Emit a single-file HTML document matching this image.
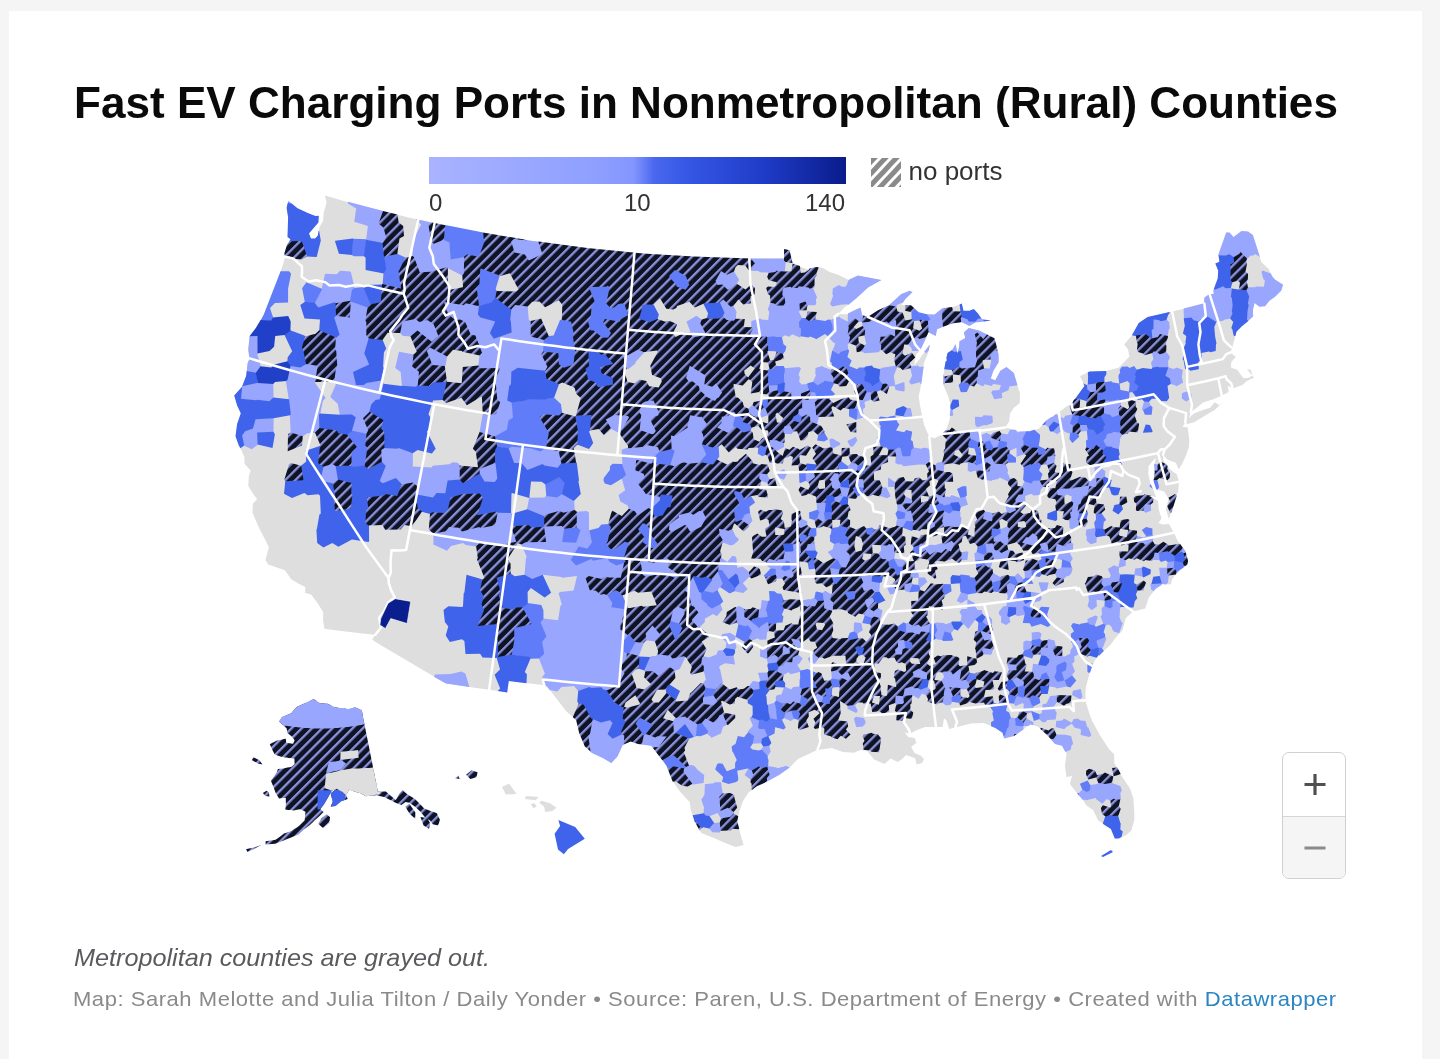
<!DOCTYPE html>
<html><head><meta charset="utf-8"><title>Fast EV Charging Ports in Nonmetropolitan (Rural) Counties</title>
<style>
html,body{margin:0;padding:0;}
body{width:1440px;height:1059px;background:#f5f5f5;position:relative;overflow:hidden;font-family:"Liberation Sans",sans-serif;}
#card{position:absolute;left:9px;top:11px;width:1413px;height:1048px;background:#fff;}
svg#map{position:absolute;left:0;top:0;filter:blur(0.55px);}
.t{filter:blur(0.45px);}
.t{position:absolute;white-space:nowrap;line-height:1;transform-origin:0 0;}
#title{left:73.6px;top:81.3px;font-size:44px;font-weight:bold;color:#0a0a0a;transform:scaleX(1.002);}
#bar{position:absolute;left:429px;top:157px;width:417px;height:27px;
 background:linear-gradient(to right,#a9b3ff 0%,#8e9fff 40%,#8496ff 49%,#4a68ee 54%,#3557e4 62%,#1f3cc8 80%,#0a1c8c 100%);}
.lg{font-size:24px;color:#333;top:191px;}
#sw{position:absolute;left:871px;top:158px;width:30px;height:29px;}
#np{left:908.5px;top:157.7px;font-size:26px;color:#333;}
#note{left:73.8px;top:945.5px;font-size:24px;font-style:italic;color:#5a5a5e;transform:scaleX(1.05);}
#foot{left:72.5px;top:988px;font-size:21px;color:#8a8a8a;letter-spacing:0.5px;transform:scaleX(1.049);}
#foot a{color:#2a85c4;text-decoration:none;}
#zoom{position:absolute;left:1281.5px;top:751.5px;width:64px;height:127.5px;border:1px solid #d0d0d0;border-radius:7px;background:#fff;box-sizing:border-box;overflow:hidden;}
#zoom .m{position:absolute;left:0;top:63px;width:64px;height:64px;background:#f5f5f5;border-top:1px solid #d6d6d6;}
</style></head><body>
<div id="card"></div>
<div class="t" id="title">Fast EV Charging Ports in Nonmetropolitan (Rural) Counties</div>
<div id="bar"></div>
<div class="t lg" style="left:429px">0</div>
<div class="t lg" id="l10" style="left:624px">10</div>
<div class="t lg" id="l140" style="left:805px">140</div>
<svg id="sw" viewBox="0 0 30 29"><defs><pattern id="hs" width="8" height="8" patternUnits="userSpaceOnUse" patternTransform="rotate(-47)"><rect width="8" height="8" fill="#fff"/><rect width="8" height="5" fill="#8a8a8a"/></pattern></defs><rect width="30" height="29" fill="url(#hs)"/></svg>
<div class="t" id="np">no ports</div>
<svg id="map" width="1440" height="1059" viewBox="0 0 1440 1059">

<defs>
<pattern id="h" width="7.2" height="7.2" patternUnits="userSpaceOnUse" patternTransform="rotate(-45)">
<rect width="7.2" height="7.2" fill="#0f1326"/><rect y="0" width="7.2" height="2.3" fill="#8c92d9"/>
</pattern>
<clipPath id="us"><path d="M288.5,200.9 L297.4,208.4 L308.3,213.5 L315.5,216.4 L318.6,216.0 L318.2,222.4 L312.8,228.7 L308.8,233.3 L310.8,238.7 L315.3,238.6 L318.0,235.5 L319.6,226.8 L323.0,221.2 L323.8,212.2 L326.6,202.6 L324.9,195.6 L333.8,198.1 L342.8,200.7 L351.8,203.1 L360.8,205.5 L369.8,207.9 L379.4,210.3 L389.1,212.7 L398.8,215.1 L408.5,217.4 L418.3,219.6 L434.6,223.2 L442.9,224.9 L451.3,226.6 L459.6,228.3 L468.0,229.9 L476.4,231.5 L484.8,233.1 L493.2,234.6 L501.6,236.0 L509.9,237.4 L518.2,238.8 L526.6,240.1 L534.9,241.3 L543.3,242.5 L551.6,243.7 L560.0,244.8 L568.3,245.9 L577.8,247.1 L587.2,248.2 L596.7,249.3 L606.1,250.3 L615.6,251.2 L625.0,252.1 L634.5,252.9 L643.0,253.6 L651.5,254.3 L660.1,254.9 L668.6,255.5 L677.1,256.0 L685.6,256.4 L694.1,256.9 L702.7,257.3 L712.0,257.6 L721.3,257.9 L730.7,258.2 L740.0,258.4 L749.3,258.5 L758.1,258.6 L766.9,258.7 L775.6,258.7 L784.4,258.6 L784.3,249.1 L789.4,250.5 L792.0,262.3 L798.9,265.9 L807.4,269.5 L815.8,267.3 L821.8,267.4 L829.6,271.9 L838.2,274.8 L848.7,280.1 L857.9,275.9 L870.9,278.1 L881.3,280.0 L868.0,287.2 L856.5,297.9 L844.8,307.3 L838.1,313.9 L846.9,314.3 L857.1,309.2 L860.5,307.8 L861.8,315.3 L868.0,317.0 L878.1,310.5 L888.3,306.0 L893.2,301.9 L901.3,294.2 L909.7,290.9 L912.4,292.2 L905.2,298.9 L901.3,305.1 L905.7,305.2 L911.0,305.5 L918.6,312.5 L925.8,314.4 L934.6,314.8 L942.8,308.3 L953.2,307.0 L961.6,303.7 L963.3,310.9 L969.5,310.9 L973.7,309.2 L977.8,313.7 L982.1,319.6 L990.2,320.3 L983.2,321.5 L975.3,322.2 L969.5,325.7 L961.9,322.0 L953.2,323.0 L942.9,326.7 L936.9,329.0 L935.8,335.8 L931.1,333.7 L928.3,331.9 L926.1,337.2 L920.2,350.5 L916.1,354.7 L914.2,365.1 L919.2,359.5 L924.8,351.4 L929.6,345.1 L928.4,352.3 L924.0,362.9 L922.9,370.7 L921.3,383.6 L918.7,396.6 L919.8,404.2 L922.3,416.8 L923.9,424.4 L927.5,433.0 L929.3,436.7 L934.6,438.3 L940.9,434.9 L946.1,430.0 L949.7,419.4 L950.8,406.4 L948.3,396.4 L943.5,385.4 L943.3,375.1 L945.7,362.1 L947.8,352.9 L952.5,349.9 L955.5,344.4 L957.5,354.5 L959.4,346.6 L959.7,341.4 L965.6,338.2 L964.0,332.5 L968.9,328.1 L979.0,330.7 L988.6,335.4 L994.4,338.4 L996.1,344.6 L998.3,354.6 L998.5,362.3 L993.2,370.7 L990.5,378.7 L995.4,380.7 L1000.5,371.0 L1006.4,367.1 L1013.7,373.0 L1017.3,385.4 L1019.9,392.7 L1019.8,403.1 L1013.9,407.8 L1010.0,413.5 L1009.2,421.3 L1005.3,427.5 L1014.1,429.7 L1020.2,431.9 L1029.6,431.3 L1038.7,428.7 L1047.0,420.2 L1058.7,412.6 L1065.7,407.0 L1071.5,403.4 L1081.7,390.5 L1084.7,386.1 L1080.0,376.0 L1089.5,371.7 L1106.2,371.1 L1118.7,367.8 L1124.9,361.3 L1129.4,356.5 L1127.9,349.0 L1124.1,344.6 L1132.3,335.0 L1138.9,323.2 L1147.7,317.3 L1159.9,314.5 L1172.1,311.5 L1182.9,308.9 L1193.6,306.2 L1204.3,303.4 L1204.6,297.5 L1209.6,294.1 L1213.9,294.3 L1213.6,289.9 L1216.4,283.1 L1217.9,278.7 L1218.4,270.7 L1215.6,263.6 L1219.6,261.9 L1218.6,254.9 L1226.3,232.7 L1229.4,232.8 L1233.5,237.4 L1241.5,231.1 L1248.1,231.8 L1252.7,235.1 L1258.0,251.2 L1261.3,262.1 L1268.7,269.1 L1271.8,276.1 L1274.8,279.7 L1282.9,284.6 L1281.0,290.6 L1275.2,296.4 L1269.0,300.9 L1265.0,306.1 L1259.4,306.5 L1254.5,302.6 L1252.8,309.7 L1252.8,316.3 L1246.9,322.0 L1241.4,326.2 L1236.3,331.6 L1235.0,337.3 L1232.6,345.9 L1230.6,352.5 L1235.7,357.0 L1231.3,362.1 L1230.8,367.5 L1237.2,369.8 L1240.4,374.2 L1243.3,377.9 L1248.2,377.9 L1252.4,375.4 L1250.9,370.0 L1246.8,369.3 L1251.0,373.9 L1254.0,377.6 L1246.2,381.4 L1242.4,385.1 L1236.1,387.3 L1232.7,389.0 L1227.9,385.5 L1228.6,392.0 L1221.8,395.8 L1212.0,399.7 L1203.0,402.5 L1196.5,408.0 L1190.7,412.0 L1189.1,417.7 L1193.9,413.4 L1202.9,409.9 L1210.2,407.8 L1214.6,402.2 L1219.3,405.0 L1223.0,402.1 L1214.7,410.1 L1204.4,416.1 L1194.1,422.3 L1187.7,424.1 L1185.3,422.5 L1182.5,427.1 L1187.5,427.3 L1189.2,438.7 L1189.0,446.6 L1186.1,455.2 L1182.1,464.0 L1178.7,469.3 L1175.8,462.8 L1167.1,459.5 L1163.1,454.6 L1163.3,460.3 L1169.0,468.3 L1174.0,472.4 L1176.6,473.7 L1179.1,481.8 L1178.1,491.2 L1175.6,498.3 L1172.7,508.1 L1168.9,518.9 L1165.9,509.6 L1168.6,498.5 L1164.1,491.6 L1156.5,489.3 L1153.7,480.7 L1155.0,472.6 L1154.3,464.9 L1155.8,457.5 L1148.6,466.1 L1148.3,474.0 L1150.4,484.0 L1153.9,491.2 L1156.2,497.2 L1144.5,494.4 L1140.8,491.2 L1148.9,496.1 L1157.9,500.8 L1158.8,509.8 L1161.6,518.4 L1158.5,522.9 L1162.9,524.6 L1169.0,524.1 L1173.9,532.8 L1177.8,541.1 L1185.2,551.3 L1187.8,561.2 L1187.1,564.7 L1178.9,570.5 L1172.2,578.9 L1170.7,584.5 L1162.7,584.0 L1155.3,588.9 L1148.6,598.1 L1145.3,608.6 L1133.1,611.4 L1125.8,618.0 L1122.6,630.2 L1115.4,638.0 L1110.2,645.3 L1100.8,653.4 L1095.3,659.5 L1092.0,665.7 L1088.4,677.4 L1085.7,688.1 L1085.5,700.5 L1088.0,709.6 L1091.9,720.6 L1099.7,734.8 L1108.7,748.7 L1114.1,754.3 L1114.4,763.2 L1122.5,777.2 L1130.1,788.7 L1133.4,798.4 L1134.3,813.6 L1134.3,820.0 L1131.3,830.6 L1126.2,835.3 L1119.6,838.1 L1115.0,838.4 L1111.1,828.8 L1098.2,820.6 L1093.1,810.0 L1086.7,805.8 L1082.2,798.8 L1075.3,790.9 L1069.8,784.0 L1072.0,776.1 L1066.5,776.9 L1064.9,765.6 L1066.6,753.8 L1062.1,745.5 L1055.1,743.9 L1047.2,734.7 L1038.4,726.9 L1030.3,724.1 L1024.3,728.7 L1014.0,735.8 L1004.3,738.2 L1002.6,732.5 L995.4,727.7 L983.9,723.1 L970.8,723.6 L960.1,726.2 L955.4,727.6 L949.3,728.9 L946.4,720.2 L944.0,718.4 L942.6,726.9 L936.0,726.9 L925.0,727.0 L916.5,730.2 L910.2,733.7 L904.6,732.3 L908.2,737.1 L914.8,738.0 L916.3,742.9 L911.1,747.1 L914.8,753.2 L920.5,755.4 L924.1,758.9 L922.1,762.9 L916.7,764.5 L915.1,758.3 L906.1,755.1 L901.9,759.2 L897.6,762.0 L890.7,758.6 L884.4,764.0 L874.1,759.4 L867.1,750.9 L860.4,749.9 L853.9,752.7 L842.9,751.9 L831.7,747.9 L817.4,750.1 L805.4,755.4 L797.7,759.3 L790.1,767.0 L779.0,774.7 L765.6,782.3 L756.6,786.0 L748.7,792.3 L743.0,801.1 L739.5,811.1 L737.0,821.2 L740.3,833.8 L743.6,845.0 L735.5,847.1 L724.1,842.4 L715.0,838.4 L701.3,833.0 L694.9,821.4 L690.7,809.9 L689.9,802.3 L680.1,791.8 L672.7,781.3 L666.8,765.8 L659.5,756.1 L651.3,745.5 L638.1,743.9 L630.6,741.4 L622.6,744.9 L617.3,756.5 L611.3,762.9 L602.8,757.9 L592.1,752.7 L584.9,746.2 L579.5,733.0 L576.3,719.9 L566.2,711.3 L555.6,697.4 L547.1,686.2 L544.4,685.2 L532.4,683.8 L520.5,682.4 L508.6,680.9 L507.1,692.2 L489.1,689.8 L478.3,688.3 L467.5,686.7 L456.7,685.1 L446.0,683.4 L433.1,676.0 L420.3,668.5 L407.7,660.9 L395.8,653.9 L383.9,646.9 L372.1,639.8 L375.3,634.7 L362.6,633.4 L349.9,631.9 L337.1,630.4 L324.4,628.8 L323.1,620.2 L323.2,612.3 L317.7,603.2 L311.1,594.6 L305.1,592.9 L305.3,587.1 L298.7,583.7 L291.2,579.2 L284.9,570.2 L268.1,564.6 L265.5,559.9 L268.9,547.6 L265.4,540.0 L259.5,529.1 L252.4,512.6 L252.9,503.4 L257.2,499.3 L253.4,494.2 L248.3,486.1 L248.9,475.6 L250.7,470.8 L244.5,463.7 L244.4,457.0 L238.8,444.7 L235.7,436.3 L237.3,424.2 L241.0,413.2 L237.4,405.4 L234.4,395.4 L242.0,386.8 L246.3,376.1 L247.7,363.7 L249.7,358.4 L248.4,350.0 L249.7,336.2 L256.0,328.3 L264.0,314.7 L269.4,300.4 L273.6,289.7 L279.7,274.3 L283.7,262.3 L285.0,256.8 L284.6,253.3 L287.2,244.8 L290.7,239.3 L287.7,237.1 L288.2,226.6 L288.3,217.4 L286.8,207.8 L288.5,200.9Z"/></clipPath>
</defs>
<path d="M288.5,200.9 L297.4,208.4 L308.3,213.5 L315.5,216.4 L318.6,216.0 L318.2,222.4 L312.8,228.7 L308.8,233.3 L310.8,238.7 L315.3,238.6 L318.0,235.5 L319.6,226.8 L323.0,221.2 L323.8,212.2 L326.6,202.6 L324.9,195.6 L333.8,198.1 L342.8,200.7 L351.8,203.1 L360.8,205.5 L369.8,207.9 L379.4,210.3 L389.1,212.7 L398.8,215.1 L408.5,217.4 L418.3,219.6 L434.6,223.2 L442.9,224.9 L451.3,226.6 L459.6,228.3 L468.0,229.9 L476.4,231.5 L484.8,233.1 L493.2,234.6 L501.6,236.0 L509.9,237.4 L518.2,238.8 L526.6,240.1 L534.9,241.3 L543.3,242.5 L551.6,243.7 L560.0,244.8 L568.3,245.9 L577.8,247.1 L587.2,248.2 L596.7,249.3 L606.1,250.3 L615.6,251.2 L625.0,252.1 L634.5,252.9 L643.0,253.6 L651.5,254.3 L660.1,254.9 L668.6,255.5 L677.1,256.0 L685.6,256.4 L694.1,256.9 L702.7,257.3 L712.0,257.6 L721.3,257.9 L730.7,258.2 L740.0,258.4 L749.3,258.5 L758.1,258.6 L766.9,258.7 L775.6,258.7 L784.4,258.6 L784.3,249.1 L789.4,250.5 L792.0,262.3 L798.9,265.9 L807.4,269.5 L815.8,267.3 L821.8,267.4 L829.6,271.9 L838.2,274.8 L848.7,280.1 L857.9,275.9 L870.9,278.1 L881.3,280.0 L868.0,287.2 L856.5,297.9 L844.8,307.3 L838.1,313.9 L846.9,314.3 L857.1,309.2 L860.5,307.8 L861.8,315.3 L868.0,317.0 L878.1,310.5 L888.3,306.0 L893.2,301.9 L901.3,294.2 L909.7,290.9 L912.4,292.2 L905.2,298.9 L901.3,305.1 L905.7,305.2 L911.0,305.5 L918.6,312.5 L925.8,314.4 L934.6,314.8 L942.8,308.3 L953.2,307.0 L961.6,303.7 L963.3,310.9 L969.5,310.9 L973.7,309.2 L977.8,313.7 L982.1,319.6 L990.2,320.3 L983.2,321.5 L975.3,322.2 L969.5,325.7 L961.9,322.0 L953.2,323.0 L942.9,326.7 L936.9,329.0 L935.8,335.8 L931.1,333.7 L928.3,331.9 L926.1,337.2 L920.2,350.5 L916.1,354.7 L914.2,365.1 L919.2,359.5 L924.8,351.4 L929.6,345.1 L928.4,352.3 L924.0,362.9 L922.9,370.7 L921.3,383.6 L918.7,396.6 L919.8,404.2 L922.3,416.8 L923.9,424.4 L927.5,433.0 L929.3,436.7 L934.6,438.3 L940.9,434.9 L946.1,430.0 L949.7,419.4 L950.8,406.4 L948.3,396.4 L943.5,385.4 L943.3,375.1 L945.7,362.1 L947.8,352.9 L952.5,349.9 L955.5,344.4 L957.5,354.5 L959.4,346.6 L959.7,341.4 L965.6,338.2 L964.0,332.5 L968.9,328.1 L979.0,330.7 L988.6,335.4 L994.4,338.4 L996.1,344.6 L998.3,354.6 L998.5,362.3 L993.2,370.7 L990.5,378.7 L995.4,380.7 L1000.5,371.0 L1006.4,367.1 L1013.7,373.0 L1017.3,385.4 L1019.9,392.7 L1019.8,403.1 L1013.9,407.8 L1010.0,413.5 L1009.2,421.3 L1005.3,427.5 L1014.1,429.7 L1020.2,431.9 L1029.6,431.3 L1038.7,428.7 L1047.0,420.2 L1058.7,412.6 L1065.7,407.0 L1071.5,403.4 L1081.7,390.5 L1084.7,386.1 L1080.0,376.0 L1089.5,371.7 L1106.2,371.1 L1118.7,367.8 L1124.9,361.3 L1129.4,356.5 L1127.9,349.0 L1124.1,344.6 L1132.3,335.0 L1138.9,323.2 L1147.7,317.3 L1159.9,314.5 L1172.1,311.5 L1182.9,308.9 L1193.6,306.2 L1204.3,303.4 L1204.6,297.5 L1209.6,294.1 L1213.9,294.3 L1213.6,289.9 L1216.4,283.1 L1217.9,278.7 L1218.4,270.7 L1215.6,263.6 L1219.6,261.9 L1218.6,254.9 L1226.3,232.7 L1229.4,232.8 L1233.5,237.4 L1241.5,231.1 L1248.1,231.8 L1252.7,235.1 L1258.0,251.2 L1261.3,262.1 L1268.7,269.1 L1271.8,276.1 L1274.8,279.7 L1282.9,284.6 L1281.0,290.6 L1275.2,296.4 L1269.0,300.9 L1265.0,306.1 L1259.4,306.5 L1254.5,302.6 L1252.8,309.7 L1252.8,316.3 L1246.9,322.0 L1241.4,326.2 L1236.3,331.6 L1235.0,337.3 L1232.6,345.9 L1230.6,352.5 L1235.7,357.0 L1231.3,362.1 L1230.8,367.5 L1237.2,369.8 L1240.4,374.2 L1243.3,377.9 L1248.2,377.9 L1252.4,375.4 L1250.9,370.0 L1246.8,369.3 L1251.0,373.9 L1254.0,377.6 L1246.2,381.4 L1242.4,385.1 L1236.1,387.3 L1232.7,389.0 L1227.9,385.5 L1228.6,392.0 L1221.8,395.8 L1212.0,399.7 L1203.0,402.5 L1196.5,408.0 L1190.7,412.0 L1189.1,417.7 L1193.9,413.4 L1202.9,409.9 L1210.2,407.8 L1214.6,402.2 L1219.3,405.0 L1223.0,402.1 L1214.7,410.1 L1204.4,416.1 L1194.1,422.3 L1187.7,424.1 L1185.3,422.5 L1182.5,427.1 L1187.5,427.3 L1189.2,438.7 L1189.0,446.6 L1186.1,455.2 L1182.1,464.0 L1178.7,469.3 L1175.8,462.8 L1167.1,459.5 L1163.1,454.6 L1163.3,460.3 L1169.0,468.3 L1174.0,472.4 L1176.6,473.7 L1179.1,481.8 L1178.1,491.2 L1175.6,498.3 L1172.7,508.1 L1168.9,518.9 L1165.9,509.6 L1168.6,498.5 L1164.1,491.6 L1156.5,489.3 L1153.7,480.7 L1155.0,472.6 L1154.3,464.9 L1155.8,457.5 L1148.6,466.1 L1148.3,474.0 L1150.4,484.0 L1153.9,491.2 L1156.2,497.2 L1144.5,494.4 L1140.8,491.2 L1148.9,496.1 L1157.9,500.8 L1158.8,509.8 L1161.6,518.4 L1158.5,522.9 L1162.9,524.6 L1169.0,524.1 L1173.9,532.8 L1177.8,541.1 L1185.2,551.3 L1187.8,561.2 L1187.1,564.7 L1178.9,570.5 L1172.2,578.9 L1170.7,584.5 L1162.7,584.0 L1155.3,588.9 L1148.6,598.1 L1145.3,608.6 L1133.1,611.4 L1125.8,618.0 L1122.6,630.2 L1115.4,638.0 L1110.2,645.3 L1100.8,653.4 L1095.3,659.5 L1092.0,665.7 L1088.4,677.4 L1085.7,688.1 L1085.5,700.5 L1088.0,709.6 L1091.9,720.6 L1099.7,734.8 L1108.7,748.7 L1114.1,754.3 L1114.4,763.2 L1122.5,777.2 L1130.1,788.7 L1133.4,798.4 L1134.3,813.6 L1134.3,820.0 L1131.3,830.6 L1126.2,835.3 L1119.6,838.1 L1115.0,838.4 L1111.1,828.8 L1098.2,820.6 L1093.1,810.0 L1086.7,805.8 L1082.2,798.8 L1075.3,790.9 L1069.8,784.0 L1072.0,776.1 L1066.5,776.9 L1064.9,765.6 L1066.6,753.8 L1062.1,745.5 L1055.1,743.9 L1047.2,734.7 L1038.4,726.9 L1030.3,724.1 L1024.3,728.7 L1014.0,735.8 L1004.3,738.2 L1002.6,732.5 L995.4,727.7 L983.9,723.1 L970.8,723.6 L960.1,726.2 L955.4,727.6 L949.3,728.9 L946.4,720.2 L944.0,718.4 L942.6,726.9 L936.0,726.9 L925.0,727.0 L916.5,730.2 L910.2,733.7 L904.6,732.3 L908.2,737.1 L914.8,738.0 L916.3,742.9 L911.1,747.1 L914.8,753.2 L920.5,755.4 L924.1,758.9 L922.1,762.9 L916.7,764.5 L915.1,758.3 L906.1,755.1 L901.9,759.2 L897.6,762.0 L890.7,758.6 L884.4,764.0 L874.1,759.4 L867.1,750.9 L860.4,749.9 L853.9,752.7 L842.9,751.9 L831.7,747.9 L817.4,750.1 L805.4,755.4 L797.7,759.3 L790.1,767.0 L779.0,774.7 L765.6,782.3 L756.6,786.0 L748.7,792.3 L743.0,801.1 L739.5,811.1 L737.0,821.2 L740.3,833.8 L743.6,845.0 L735.5,847.1 L724.1,842.4 L715.0,838.4 L701.3,833.0 L694.9,821.4 L690.7,809.9 L689.9,802.3 L680.1,791.8 L672.7,781.3 L666.8,765.8 L659.5,756.1 L651.3,745.5 L638.1,743.9 L630.6,741.4 L622.6,744.9 L617.3,756.5 L611.3,762.9 L602.8,757.9 L592.1,752.7 L584.9,746.2 L579.5,733.0 L576.3,719.9 L566.2,711.3 L555.6,697.4 L547.1,686.2 L544.4,685.2 L532.4,683.8 L520.5,682.4 L508.6,680.9 L507.1,692.2 L489.1,689.8 L478.3,688.3 L467.5,686.7 L456.7,685.1 L446.0,683.4 L433.1,676.0 L420.3,668.5 L407.7,660.9 L395.8,653.9 L383.9,646.9 L372.1,639.8 L375.3,634.7 L362.6,633.4 L349.9,631.9 L337.1,630.4 L324.4,628.8 L323.1,620.2 L323.2,612.3 L317.7,603.2 L311.1,594.6 L305.1,592.9 L305.3,587.1 L298.7,583.7 L291.2,579.2 L284.9,570.2 L268.1,564.6 L265.5,559.9 L268.9,547.6 L265.4,540.0 L259.5,529.1 L252.4,512.6 L252.9,503.4 L257.2,499.3 L253.4,494.2 L248.3,486.1 L248.9,475.6 L250.7,470.8 L244.5,463.7 L244.4,457.0 L238.8,444.7 L235.7,436.3 L237.3,424.2 L241.0,413.2 L237.4,405.4 L234.4,395.4 L242.0,386.8 L246.3,376.1 L247.7,363.7 L249.7,358.4 L248.4,350.0 L249.7,336.2 L256.0,328.3 L264.0,314.7 L269.4,300.4 L273.6,289.7 L279.7,274.3 L283.7,262.3 L285.0,256.8 L284.6,253.3 L287.2,244.8 L290.7,239.3 L287.7,237.1 L288.2,226.6 L288.3,217.4 L286.8,207.8 L288.5,200.9Z" fill="#dedede"/>
<path fill-rule="evenodd" d="M292.4,204.3 292.4,203.9 288.3,200.7 287.8,203.3ZM347.9,203.5 356.2,208.4 354.3,221.8 367.9,225.9 366.1,240.0 383.0,243.5 386.8,237.4 383.8,227.3 379.1,223.2 383.3,211.1 348.0,201.8ZM432.4,222.7 415.7,219.0 421.2,224.4 412.9,240.3 413.4,241.2 412.3,256.4 413.8,257.7 419.3,272.6 431.1,272.2 447.2,267.4 447.6,268.0 462.6,275.7 464.3,273.7 464.7,256.5 450.9,259.0 449.9,242.3 443.6,239.3 433.8,243.2 431.8,241.6 428.9,225.1ZM354.7,288.3 351.0,272.4 350.1,271.5 340.1,270.8 336.8,274.2 325.0,273.7 321.6,289.2 314.4,303.1 318.2,308.2 334.5,302.8 335.7,303.7 350.5,301.2 352.3,290.2ZM368.1,307.6 350.6,301.2 349.3,317.0 336.3,315.3 333.6,317.4 339.1,334.7 335.5,337.7 334.6,349.4 335.7,350.9 336.8,366.3 335.6,367.5 333.9,381.5 335.8,384.8 330.3,397.0 337.7,403.8 339.8,415.2 351.7,414.9 355.3,417.3 351.5,431.0 366.7,434.1 368.7,430.1 363.6,418.4 369.8,412.1 371.6,404.7 375.7,400.6 380.2,399.6 383.9,384.0 381.5,380.2 366.2,382.6 363.7,384.4 356.3,384.4 353.5,372.2 369.6,364.7 364.9,353.2 369.2,338.4 366.8,335.1 366.8,321.7 365.8,320.4ZM444.5,301.5 443.6,302.8 447.8,314.6 455.0,320.5 459.9,319.9 464.8,322.1 470.3,334.9 475.0,335.9 481.5,353.0 479.5,355.2 478.3,365.6 479.9,368.7 499.1,368.4 499.3,368.8 493.3,382.7 495.5,384.8 496.9,399.8 499.6,402.4 495.9,413.2 494.4,414.1 482.6,414.8 479.5,432.2 494.8,436.7 507.3,430.0 508.9,420.6 513.5,418.0 512.0,402.2 507.7,400.1 509.7,386.3 511.5,384.4 511.7,372.1 517.9,368.2 545.4,371.2 547.9,366.9 541.8,354.3 543.5,351.9 544.3,339.6 531.1,336.2 531.1,321.2 528.8,319.7 527.7,306.2 514.9,304.6 510.9,309.2 509.7,320.3 510.3,321.0 511.2,332.1 494.0,338.3 490.4,333.1 495.8,321.2 480.8,317.0 478.4,314.3 479.2,305.8 465.8,302.7 463.5,304.6ZM415.4,318.6 402.1,321.0 399.9,332.8 402.5,335.7 410.7,336.6 417.4,331.1 431.7,342.3 438.9,336.2 433.8,323.6 427.4,319.4 419.5,321.6ZM257.9,353.3 258.0,335.6 249.6,336.0 248.2,350.0 249.5,358.4 247.5,363.6 246.7,371.3 256.0,373.2 260.9,366.6 257.2,354.1ZM426.2,350.8 432.1,365.4 444.6,366.5 445.6,365.5 447.2,356.1 429.9,346.8ZM413.9,354.5 399.0,351.7 395.2,368.1 400.7,372.1 401.9,386.2 415.8,387.3 418.1,385.4 419.5,371.5 412.7,366.3ZM290.3,365.4 287.2,379.5 285.8,380.8 288.8,399.6 290.3,414.4 289.8,415.0 290.7,432.7 302.7,436.6 307.2,433.2 315.3,432.9 319.7,428.4 319.5,414.6 320.3,413.8 322.9,401.1 325.6,397.9 314.8,382.6 315.4,381.8 318.1,366.3 317.5,365.3 306.2,363.8 300.2,366.9ZM240.5,399.1 256.2,400.8 257.2,400.2 269.5,401.7 273.5,397.8 273.3,383.5 257.8,382.3 242.2,385.8ZM273.6,417.7 255.3,418.8 252.6,428.1 244.8,430.8 241.6,435.2 243.9,445.5 251.7,449.2 258.0,444.5 257.5,432.9 273.5,432.2ZM511.4,446.3 508.2,448.6 513.8,463.4 521.3,463.6 527.4,470.6 542.5,464.5 544.3,465.9 557.8,468.2 561.7,463.3 559.0,451.1 546.2,447.3 540.4,450.9 529.6,447.3 528.9,447.8ZM412.9,452.9 398.7,447.3 397.1,448.2 384.1,447.7 380.8,449.8 381.3,461.7 385.3,466.1 379.2,481.3 382.8,483.9 395.8,478.6 401.7,484.8 412.7,483.0 416.8,486.3 417.0,494.9 433.1,498.0 436.7,493.6 445.7,493.6 447.9,480.9 460.3,479.9 460.1,465.6 457.8,462.8 452.6,462.3 449.2,464.3 432.7,465.7 431.5,467.5 412.8,466.5ZM495.0,462.6 479.3,468.7 479.3,473.5 484.2,482.1 494.9,482.4 497.7,478.8 496.1,463.6ZM332.5,463.4 323.1,466.4 320.8,476.5 323.2,481.7 333.1,483.7 338.3,479.9 335.9,465.7ZM514.2,526.5 512.4,513.7 511.0,512.6 497.4,512.2 494.7,525.0 480.5,527.7 479.2,526.5 462.1,531.1 458.9,527.3 449.1,526.6 445.5,530.8 433.4,533.3 433.4,544.4 447.0,550.7 451.0,546.1 462.9,543.0 465.7,544.9 476.4,546.6 481.5,542.0 494.3,544.1 496.3,546.3 516.7,542.3 512.7,529.9ZM434.8,674.4 434.2,676.9 445.9,683.6 469.4,687.1 465.4,673.5 461.4,671.4 450.6,674.1ZM513.6,238.5 510.6,241.4 514.2,252.8 524.6,254.9 528.7,261.1 542.9,254.3 538.8,241.7ZM643.5,353.3 643.1,351.1 637.6,349.2 627.8,354.8 622.3,354.1 626.3,369.0 628.8,368.8 635.2,363.8 635.6,362.0ZM629.5,417.4 628.0,415.6 614.9,414.5 613.1,415.0 605.2,419.6 610.9,428.8 618.2,432.5 621.0,430.1 622.6,429.5ZM628.3,447.4 621.6,449.8 622.4,463.2 621.6,464.4 625.5,475.0 621.7,478.4 625.2,490.2 618.6,495.1 620.3,501.4 627.7,505.6 628.6,509.1 634.5,511.5 637.3,515.6 637.9,516.0 648.6,508.7 650.7,509.6 660.7,500.2 659.8,496.4 646.0,493.5 638.5,483.6 644.6,477.8 644.4,473.9 635.9,470.0 636.4,460.9 637.1,460.7 651.4,464.3 652.2,463.2 653.6,458.2 659.9,451.8 658.3,446.9 646.6,444.5 645.1,444.9 644.2,446.3 628.7,447.7ZM561.9,493.6 557.1,496.9 546.5,495.6 544.3,497.4 529.2,497.7 526.9,509.6 544.3,516.7 545.5,515.2 559.7,511.2 563.2,513.3 574.8,510.5 574.1,500.7ZM588.9,512.6 586.7,511.0 576.4,511.7 576.2,527.2 580.0,530.5 575.8,542.3 562.7,541.5 564.5,528.5 562.0,525.7 544.3,526.2 543.7,527.1 545.7,541.7 525.5,541.7 521.3,544.3 526.8,556.9 525.9,558.1 524.5,575.3 532.3,579.5 542.7,575.3 543.1,574.7 561.6,577.1 562.2,577.7 577.0,575.9 573.6,590.4 560.1,591.9 558.6,593.3 561.8,604.3 560.3,606.3 558.1,620.3 543.2,618.5 540.1,622.3 545.9,636.3 541.6,641.9 543.8,653.6 538.8,658.2 544.9,673.6 542.1,677.5 543.1,685.1 546.9,686.4 549.7,690.1 557.3,691.6 561.4,687.1 574.0,686.0 578.3,691.3 589.1,687.6 591.6,688.5 601.0,687.7 603.2,690.0 607.0,690.8 619.4,685.2 619.3,683.8 625.1,673.4 621.1,668.3 621.0,666.5 626.6,658.8 627.5,653.9 624.5,651.8 622.8,642.7 628.7,635.2 620.9,629.4 621.0,623.4 622.8,620.4 622.7,619.6 626.7,609.3 611.9,607.1 612.9,603.0 607.2,594.5 603.8,593.6 600.5,594.2 596.2,590.4 590.2,590.0 586.1,578.2 588.9,576.5 601.7,579.4 605.8,577.1 609.8,578.3 610.5,577.9 621.1,578.2 624.5,562.7 616.5,564.9 609.4,561.1 607.8,557.6 593.0,560.2 591.3,558.6 576.4,564.9 571.4,560.1 578.9,547.1 587.6,549.1 592.4,542.8 589.8,530.4 589.0,529.9ZM635.2,641.7 628.8,653.5 638.6,656.4 643.9,642.7ZM613.2,722.8 610.0,719.7 601.0,721.9 593.0,718.7 592.4,718.8 589.4,734.9 587.9,735.7 590.2,751.4 592.0,752.9 602.7,758.1 611.3,763.1 617.5,756.6 622.8,745.1 624.1,744.4 624.8,735.2 621.8,733.7 612.8,738.3 608.2,734.0ZM721.2,270.3 715.1,280.9 717.2,285.5 722.2,285.0 728.1,290.6 736.1,284.8 739.1,279.8 733.9,271.2 726.9,274.2ZM723.3,299.0 719.3,302.2 724.0,312.9 722.4,316.8 726.6,320.6 734.1,321.3 735.9,319.1 736.1,313.9 736.7,312.3 733.5,305.8 730.5,306.1ZM701.8,319.7 696.4,315.8 686.4,321.7 690.5,331.7 690.4,333.0 692.6,337.8 701.9,336.1 706.4,333.9 700.8,323.5ZM689.6,365.0 685.6,378.1 688.4,382.1 692.6,381.9 698.6,386.9 699.2,390.2 704.2,394.9 704.5,396.2 714.3,401.3 715.4,401.1 717.3,398.7 719.0,397.9 722.6,392.6 716.4,383.1 712.1,386.2 704.8,383.8 706.0,375.3ZM653.8,400.1 653.1,399.8 645.2,401.1 641.6,403.3 638.8,412.6 640.7,414.9 639.2,430.4 652.0,434.8 654.1,434.3 656.3,431.1 651.4,421.0 651.9,419.5 654.6,416.8 658.4,416.0 659.4,412.6ZM721.6,416.3 721.0,422.6 716.7,427.2 716.7,427.8 728.5,433.5 734.5,427.5 733.5,425.4 736.1,413.6 735.4,412.3 732.5,411.0 727.9,415.6ZM689.9,414.9 686.8,426.1 687.3,427.1 674.5,435.7 670.7,435.0 670.2,435.7 671.2,448.8 674.1,451.2 670.1,464.1 670.6,465.6 673.3,466.7 674.5,466.7 682.5,463.2 685.1,463.1 687.8,464.3 698.9,463.2 706.7,454.5 702.2,444.3 704.4,438.8 703.3,433.8 701.8,431.7 707.5,423.9 701.6,416.0 700.3,416.6ZM689.1,511.9 678.6,514.5 678.3,517.2 668.9,524.3 668.6,530.2 672.7,532.3 684.8,525.5 686.2,526.0 689.2,531.5 691.3,532.1 701.5,527.1 706.6,518.2 702.6,510.3 699.0,510.6 693.2,514.1ZM718.6,528.3 718.3,528.6 719.5,535.5 722.4,540.2 722.4,542.3 730.6,545.5 733.9,544.6 738.6,540.2 738.5,538.7 735.8,536.4 732.1,528.8 728.5,530.2ZM720.9,557.5 719.7,558.5 717.7,570.1 718.1,570.5 721.8,570.4 728.7,579.9 735.7,574.0 737.4,575.7 739.0,582.9 734.9,587.5 734.7,590.9 735.6,591.6 743.3,593.0 747.7,589.1 742.9,583.3 749.5,576.6 749.4,572.0 742.7,566.8 737.3,567.8 736.4,558.1 735.1,556.3 732.1,556.0 727.3,562.0ZM669.9,559.5 666.8,557.7 655.9,559.8 654.3,561.9 650.4,562.6 642.8,557.6 639.9,558.9 642.2,575.0 646.2,577.3 660.5,574.2 660.9,573.7 675.3,578.3 677.2,577.1 678.6,574.2 668.7,567.2ZM717.8,570.9 711.3,578.6 711.7,580.1 703.5,590.2 703.4,591.3 712.9,593.2 717.5,590.3 719.2,587.8 720.7,587.3 723.2,583.5ZM692.9,576.1 684.3,591.2 688.2,593.4 691.5,606.4 693.6,607.0 697.8,612.5 691.7,619.3 691.6,620.9 698.4,627.9 699.5,627.5 704.9,621.9 704.8,618.8 713.1,614.1 716.9,616.2 722.5,609.5 720.3,603.7 712.2,608.1 708.1,605.5 707.6,603.7 701.8,599.0 701.4,592.4 699.6,591.7ZM684.5,609.0 678.2,606.2 673.1,609.1 670.2,620.5 670.3,621.3 679.5,623.8 685.0,614.1ZM655.3,641.5 660.8,635.5 660.8,634.6 652.4,624.9 645.2,633.1 645.8,640.3ZM721.9,634.2 721.5,637.5 726.4,642.6 725.6,648.4 735.0,649.8 736.5,647.6 734.7,639.9 735.9,636.3 729.9,632.7ZM723.3,650.3 718.0,650.4 716.5,654.4 709.0,657.5 703.2,656.2 701.6,657.1 700.9,662.5 703.3,666.4 703.4,671.5 704.3,672.8 705.9,679.6 703.0,683.3 704.9,687.9 716.0,689.6 719.4,687.0 720.3,685.2 722.4,683.9 723.0,682.7 720.1,669.3 719.0,667.7 720.1,665.8 725.0,663.2 735.1,664.5 733.4,655.4 726.7,655.6ZM657.7,654.0 655.8,656.1 652.4,655.9 649.7,657.0 643.8,670.4 645.3,671.8 653.1,671.8 658.1,676.4 658.7,676.4 668.5,668.2 670.5,668.0 674.4,670.9 679.8,668.9 685.5,656.7 683.8,655.7 672.4,658.0 670.5,655.3ZM702.7,704.2 713.3,705.7 717.9,701.4 713.9,695.2 703.5,696.6 702.4,698.0ZM716.1,720.9 713.1,722.1 705.4,718.0 701.3,722.6 707.6,731.4 707.1,733.6 711.6,737.7 721.0,733.4 722.8,727.1 727.6,724.6 723.1,713.7 719.2,714.9ZM693.5,737.0 694.7,737.1 696.2,736.0 697.6,723.9 688.3,717.9 687.1,717.8 685.3,715.9 675.7,717.6 672.7,721.3 673.5,733.8 675.5,733.4 684.8,724.7ZM646.0,733.7 643.2,735.4 641.5,744.4 651.1,745.7 653.4,748.5 654.1,747.8 658.9,747.4 667.4,736.4 657.4,735.7 655.3,736.9ZM688.7,765.1 686.1,766.4 683.8,768.3 683.1,772.0 691.7,784.1 692.8,784.6 703.6,783.1 704.3,775.0 696.8,769.2 696.4,768.0 693.7,765.4ZM704.9,784.2 704.5,794.5 702.4,798.3 701.2,799.3 704.0,807.5 703.5,813.7 705.3,815.9 709.3,816.3 717.6,813.1 721.1,818.7 730.7,817.2 733.9,813.8 733.7,811.7 728.1,807.2 720.8,810.5 720.1,798.9 719.5,798.1 719.8,797.1 722.8,793.8 721.0,782.3 715.0,782.2 713.8,783.2ZM708.7,828.1 712.3,832.2 719.6,832.5 721.0,830.5 720.3,822.6 713.9,823.0ZM768.5,273.4 775.4,272.3 776.8,271.2 784.2,272.1 784.8,271.8 785.7,261.9 784.5,260.4 784.2,258.4 750.4,258.4 754.5,263.6 750.2,270.8 758.6,271.0 759.7,272.3 767.8,272.6ZM790.7,286.3 784.1,287.3 782.2,289.2 781.8,295.4 784.3,297.2 784.7,302.8 783.3,304.9 776.2,305.1 774.5,303.1 770.3,302.5 767.7,309.6 769.3,311.8 768.2,319.8 767.7,320.1 761.5,319.6 760.4,318.6 751.3,320.9 751.2,327.5 752.3,329.1 749.4,334.3 753.3,338.0 758.8,336.5 760.2,337.5 765.8,336.5 767.1,337.4 774.6,336.8 775.3,337.5 781.8,337.4 785.0,335.3 789.1,336.7 792.3,334.3 799.7,337.6 801.0,336.2 801.7,328.6 799.7,327.1 799.5,322.0 802.3,318.4 798.8,311.8 800.2,310.2 800.0,303.7 805.2,302.0 807.3,305.3 815.4,305.2 816.2,303.1 815.9,299.2 817.1,297.4 812.9,287.8 809.4,287.9 808.6,287.2 799.0,285.7 797.2,287.6 792.0,287.4ZM783.4,373.9 783.7,382.9 784.6,383.4 783.9,392.0 790.8,392.7 790.9,399.8 791.7,400.7 801.5,399.2 801.4,393.9 809.6,390.7 807.4,383.9 801.6,384.4 799.2,381.6 799.8,376.9 798.5,374.8 800.9,368.6 799.1,366.9 784.6,368.2 784.2,372.9ZM777.6,390.6 777.5,384.9 768.0,385.5 769.0,392.6ZM747.9,408.9 749.0,413.4 753.1,416.7 756.4,416.3 759.0,418.3 768.4,415.1 765.6,408.0 764.1,407.8 759.3,410.8 752.8,404.5ZM793.7,431.3 790.3,424.8 784.0,426.0 782.9,432.4 784.3,433.7 791.4,434.2ZM769.4,439.7 768.8,446.9 773.7,448.4 776.3,451.3 784.1,447.1 783.9,442.5 778.0,440.7 777.3,439.7ZM784.1,469.0 775.9,473.0 776.4,476.9 783.9,479.8 786.7,474.5ZM760.2,473.1 759.0,474.6 758.6,478.5 761.1,481.1 768.0,483.2 769.7,479.8 767.1,473.8ZM752.4,520.8 749.9,512.5 744.5,514.1 741.1,520.3 748.7,525.5ZM784.3,551.4 783.1,558.4 777.8,559.1 776.7,560.4 769.1,558.3 766.1,561.9 767.4,565.9 770.7,568.6 775.4,569.2 775.4,574.9 776.7,578.7 782.6,578.5 785.1,576.4 791.3,578.5 794.2,576.2 792.7,570.8 799.6,565.8 800.4,553.5 801.5,552.7 800.4,541.5 799.8,541.3 792.4,544.3 793.1,550.2 792.0,550.9ZM788.9,561.5 789.9,569.0 784.6,570.7 781.5,569.0 786.5,561.1ZM761.7,600.1 760.7,608.4 758.5,609.4 757.8,617.1 760.0,618.2 767.9,617.2 767.2,611.2 766.3,610.3 768.7,600.9ZM744.3,608.8 739.5,605.9 735.8,607.2 736.5,622.5 738.4,624.7 745.4,626.7 747.7,625.8 751.6,630.9 748.6,636.9 749.5,639.7 751.8,640.8 757.6,638.3 759.8,639.8 766.3,639.4 767.2,632.0 769.5,630.9 769.0,623.8 767.7,621.4 760.5,625.9 759.6,627.6 751.3,621.0 751.2,620.4 744.9,616.7ZM784.2,645.2 782.4,646.8 782.2,655.7 790.3,653.9 790.3,649.7ZM767.3,647.0 761.4,647.8 760.4,648.6 759.9,656.6 766.8,658.9 768.0,663.9 776.9,662.9 778.6,657.0 774.9,654.3 767.8,657.7ZM785.5,661.6 782.4,665.6 778.6,666.2 776.5,670.8 777.7,672.5 783.4,675.1 788.0,672.6 788.8,672.5 790.6,674.2 800.5,671.8 800.9,670.6 797.3,664.9 799.6,663.3 802.7,658.3 798.1,654.4 792.4,657.2 791.8,661.8ZM768.5,679.1 767.9,672.4 758.0,672.7 760.4,681.4 766.9,680.5ZM752.9,681.1 748.7,686.4 752.9,690.4 759.9,689.5 759.5,682.1ZM776.6,695.5 775.7,697.4 775.9,700.8 782.8,704.1 785.6,703.0 790.6,704.7 793.3,701.9 799.8,704.1 801.9,695.9 800.9,694.7 802.5,689.1 799.8,686.4 793.2,686.9 791.1,689.4 784.8,686.6 784.0,687.2 781.6,694.3ZM777.0,710.6 774.8,702.4 767.4,705.0 768.0,711.9 769.6,718.8 777.5,719.9 776.5,711.3ZM791.5,710.5 785.1,712.9 783.7,718.1 790.8,721.0 794.1,718.7ZM749.6,717.9 752.9,725.7 747.7,731.6 748.1,732.8 753.7,736.2 752.2,743.8 761.6,743.2 762.4,738.7 767.9,736.2 765.0,728.6 759.6,728.4 758.5,726.9 759.5,720.2 751.6,716.8ZM767.5,756.2 770.7,751.7 769.2,745.6 763.2,746.2 761.3,749.8ZM789.8,767.4 785.5,765.7 785.0,766.2 777.5,768.3 776.6,767.4 767.8,765.9 767.0,767.1 769.1,774.7 766.4,777.8 766.7,781.7 779.1,774.9ZM748.3,768.4 744.6,775.1 751.0,780.0 753.7,774.5 752.4,770.5ZM849.3,279.6 848.4,280.6 846.5,285.6 844.7,287.1 841.4,286.4 839.0,284.9 832.8,288.5 832.4,294.4 833.2,295.5 830.0,304.2 832.4,306.4 840.8,304.7 847.2,304.3 848.2,304.9 856.7,298.1 868.1,287.4 881.5,280.0 857.9,275.6ZM857.0,309.0 848.0,313.5 847.7,321.6 840.5,318.1 839.5,316.6 829.9,320.0 832.0,325.3 832.2,333.7 827.3,335.9 833.4,342.6 835.4,343.5 832.3,351.1 838.8,354.9 840.9,352.2 848.3,349.8 847.6,344.7 849.2,342.9 850.6,336.9 848.2,333.8 849.3,327.3 848.8,326.5 848.8,323.1 855.0,318.8 858.5,321.5 862.1,321.9 863.6,315.7 862.0,315.1 860.7,307.7ZM822.3,366.0 815.5,367.9 815.3,374.1 816.0,375.3 812.9,382.1 817.4,385.8 824.1,382.1 824.5,381.3 833.8,382.6 833.9,377.2 830.9,372.9 831.6,370.1 823.3,367.1ZM817.8,399.9 815.3,391.9 810.8,391.9 808.0,399.3 801.8,399.4 801.6,407.6 798.3,409.2 797.9,413.9 802.1,417.3 806.7,414.9 809.6,417.2 809.8,421.6 816.9,424.7 819.1,416.7 816.6,414.5 816.2,407.6 815.3,402.8ZM857.3,440.6 855.9,436.7 847.3,441.1 850.4,446.7 853.4,446.2ZM832.2,448.8 839.9,445.1 840.4,443.0 831.8,438.3 829.3,439.8 830.6,447.5ZM851.4,462.5 847.7,466.4 847.3,470.4 854.2,473.1 857.2,470.5 858.3,465.3 855.6,462.8ZM814.1,471.6 807.0,471.0 805.3,472.3 805.6,480.8 808.9,482.7 815.5,477.3ZM838.9,473.0 834.0,472.8 828.9,479.7 831.3,481.7 831.7,487.7 835.0,489.7 839.6,488.4 841.5,494.9 833.8,497.1 834.4,501.4 839.5,503.3 843.4,497.1 847.6,497.1 850.3,488.1 849.6,487.5 841.1,486.5 840.6,482.5 839.1,480.0ZM816.6,502.5 817.0,510.1 819.0,511.9 816.7,518.4 823.6,522.9 825.4,519.8 824.3,512.8 825.1,512.2 826.3,502.4 825.6,501.9ZM801.0,528.5 807.3,525.1 807.3,521.2 801.3,518.8 797.3,521.9 799.8,528.0ZM807.5,543.7 805.4,551.1 815.8,550.8 814.8,543.7 814.1,543.2ZM848.4,543.3 840.5,543.5 839.2,541.9 834.2,543.5 832.7,549.2 827.7,552.1 833.2,558.7 837.3,560.1 841.4,567.8 846.2,567.9 849.6,561.2 850.3,560.7 850.1,554.4 846.7,551.2 850.0,546.0ZM829.5,568.3 831.3,576.8 839.2,573.6 840.0,569.2 830.3,567.9ZM831.4,594.4 825.3,590.8 822.2,593.1 823.2,600.7 823.7,601.1 823.7,608.6 831.9,611.0 833.3,609.4 833.5,602.0 831.0,599.9ZM815.6,606.4 818.1,601.1 814.7,597.8 810.0,599.4 809.1,598.9 800.3,601.0 801.1,605.3 807.6,607.4 810.0,605.7 814.4,606.9ZM791.5,638.1 790.7,639.2 794.8,647.1 800.0,647.9 801.1,647.3 801.2,642.9 799.7,639.8ZM807.8,658.4 809.9,663.1 814.9,663.5 819.1,657.7 813.7,653.4ZM837.1,669.7 831.3,671.2 831.8,678.8 838.9,679.9 840.9,677.9 848.7,681.6 851.1,678.1 848.9,673.0 847.2,671.6 841.7,674.5ZM823.7,696.5 817.6,693.1 813.6,696.3 817.1,703.1 822.0,702.4ZM856.2,712.9 857.8,710.7 854.7,704.8 848.4,705.1 847.8,705.6 847.4,708.8ZM902.7,303.1 905.4,299.1 912.6,292.0 909.7,290.7 901.2,293.9 888.7,305.5 896.1,306.9 897.0,305.0 902.0,302.7ZM894.9,319.3 889.2,322.6 886.4,321.1 881.1,322.2 878.4,319.8 873.0,319.6 871.8,321.0 862.1,322.2 862.3,326.4 864.8,330.1 864.2,335.0 866.3,344.0 864.2,345.2 861.7,351.3 864.6,353.3 878.5,352.2 881.5,349.3 881.7,345.0 880.1,343.2 881.0,337.1 886.1,337.0 889.4,334.4 895.7,337.4 895.5,328.8 896.8,327.8 896.5,320.6ZM926.6,336.8 926.2,336.6 919.3,338.4 918.5,337.5 912.0,337.4 908.3,344.6 911.4,347.9 912.0,351.1 920.0,351.1ZM910.8,366.6 910.3,367.9 912.0,375.7 909.0,382.3 911.4,384.6 919.9,382.2 920.7,384.0 921.3,384.1 923.7,366.5 919.5,366.9 917.8,365.6ZM893.7,376.0 897.2,367.1 896.0,365.8 881.7,367.8 879.8,369.2 879.2,376.5 878.6,377.3 879.6,381.2 882.6,384.4 885.7,384.0 889.3,386.2 894.5,386.1 895.6,389.9 903.6,391.4 904.7,390.8 904.5,382.8 903.4,382.2 895.2,385.0ZM865.6,392.5 862.5,399.7 859.0,399.2 856.8,400.9 854.7,408.3 857.3,409.9 856.4,419.6 863.3,417.4 863.9,416.7 862.8,409.3 865.3,407.3 864.4,402.1 871.5,399.5 871.1,391.7 866.4,391.9ZM906.5,408.1 903.2,416.1 903.9,417.0 912.6,417.5 910.8,408.3ZM894.2,449.7 895.8,455.9 895.3,463.0 898.6,464.4 901.1,464.2 903.5,466.2 919.6,464.6 926.2,464.8 929.1,462.4 929.8,458.0 931.7,455.8 928.8,448.9 926.1,447.7 922.3,448.1 921.5,448.7 913.4,447.5 910.7,449.9 909.9,455.4 903.7,456.2 902.7,455.1 900.8,447.6 898.4,447.0ZM895.5,482.5 888.7,477.7 888.0,478.1 888.2,486.9 895.0,486.8 895.5,486.1ZM856.2,478.7 854.7,486.9 863.7,488.2 864.4,487.2 863.6,478.8ZM890.7,496.2 886.5,487.5 882.1,487.5 881.3,488.8 880.3,496.1 886.9,498.2ZM912.2,499.3 905.2,496.4 902.5,503.6 911.5,503.9 913.0,501.6ZM901.8,503.8 897.2,504.3 897.4,510.8 904.9,513.0 904.1,518.1 897.7,518.8 896.3,521.8 896.3,525.8 902.6,527.7 906.7,521.2 913.1,521.9 914.1,521.0 911.5,510.6 910.7,510.0 907.1,511.0ZM887.0,545.0 881.5,544.5 880.7,545.0 881.1,550.3 878.1,554.1 881.6,559.4 885.6,559.6 888.1,561.5 893.9,558.9 897.8,567.1 903.1,566.8 903.7,566.2 905.0,561.9 904.2,559.9 894.1,558.5 895.3,552.6 894.5,551.4 894.9,545.4 889.1,543.6ZM920.4,554.0 925.8,550.6 929.9,555.6 935.6,552.0 941.5,553.4 945.8,549.5 951.1,552.0 955.1,543.6 951.6,540.1 944.5,543.9 942.7,542.9 934.5,545.2 933.9,544.8 926.2,545.1 924.7,543.8 920.8,543.0 918.4,545.1ZM918.3,570.8 914.4,568.4 911.5,569.7 909.7,576.0 912.4,578.1 918.5,577.8 918.2,585.2 919.9,588.1 927.4,582.0 924.8,577.4 918.8,577.4ZM872.5,575.4 862.4,574.2 860.4,576.9 862.9,582.6 860.9,585.4 863.7,591.5 871.8,589.5 874.5,592.7 879.3,592.0 880.0,582.7 872.0,581.0ZM911.2,582.3 903.9,584.3 904.1,589.5 905.6,591.2 909.6,592.3 912.9,584.5ZM897.4,590.3 892.7,584.0 890.3,584.6 887.9,586.4 887.2,587.9 890.1,594.4 895.9,593.3ZM874.8,601.2 872.6,597.1 865.9,599.0 864.4,601.1 866.2,606.8 867.3,608.1 864.0,614.7 864.7,616.0 872.0,618.4 874.3,617.0 880.0,618.7 880.8,618.1 882.6,610.6 877.7,607.8 873.7,610.7 869.0,608.1ZM906.0,633.2 912.4,633.0 919.4,634.9 921.4,632.2 929.1,632.6 930.7,623.9 929.6,623.3 921.5,626.7 918.6,623.9 913.3,625.7 909.1,622.6 905.7,623.4ZM861.3,623.3 855.3,622.2 854.0,623.1 853.7,631.8 856.9,633.9 862.8,630.2ZM903.6,639.3 897.6,640.4 897.5,646.7 894.4,649.9 895.8,655.0 902.2,654.8 903.1,649.5 905.7,648.2 904.4,640.1ZM919.4,667.9 912.2,671.8 913.8,677.6 921.0,678.4 922.6,679.5 927.1,679.3 927.6,672.7 920.3,669.0ZM912.0,685.7 904.3,688.3 902.8,695.8 895.7,694.9 895.1,695.2 894.7,703.1 896.4,704.6 902.8,704.6 904.5,702.5 903.4,696.4 912.5,694.9 918.5,698.8 922.1,693.5 926.5,695.5 929.7,689.7 927.5,686.7 920.5,689.2 918.1,687.7 914.4,687.7ZM864.6,724.7 865.7,721.9 863.9,718.1 856.0,716.7 853.9,718.7 856.2,726.9 862.2,726.8ZM944.5,308.2 942.6,308.1 934.5,314.5 926.6,314.3 929.9,319.0 927.6,321.0 927.9,328.9 927.6,329.4 928.4,332.2 935.7,336.0 937.1,329.2 943.4,326.7 942.7,318.9 942.7,311.3 944.3,310.0ZM981.4,318.3 977.7,318.3 975.1,321.2 968.9,321.1 968.0,319.2 961.5,316.6 960.2,318.1 960.8,322.3 961.9,322.3 969.5,326.0 975.4,322.5 984.3,321.5 982.9,319.5 982.2,319.3ZM983.2,339.6 987.6,334.7 979.1,330.5 968.8,327.9 963.8,332.4 965.3,338.1 959.4,341.3 959.1,346.5 957.9,351.6 960.6,351.5 962.3,359.6 959.0,361.8 959.1,366.8 961.2,368.9 975.3,367.7 977.8,359.6 976.7,358.2 976.4,351.8 976.8,351.3 977.2,343.8 977.6,343.3 975.3,334.3 977.2,332.9ZM928.9,350.3 929.8,345.1 929.6,344.8 924.1,352.1 926.4,353.1ZM957.1,352.1 955.8,344.4 955.5,344.2 952.3,349.7 951.5,350.4 954.5,352.6ZM983.9,368.1 977.7,370.2 977.2,376.7 976.3,377.5 976.3,383.0 982.9,386.5 984.7,384.2 991.8,385.9 993.0,384.0 1000.4,385.1 1000.8,385.7 999.3,390.0 992.5,390.5 991.2,392.2 994.3,399.2 1002.3,398.1 1001.9,393.0 1008.5,390.3 1009.3,386.4 1017.5,385.3 1013.9,372.9 1006.5,366.9 1000.3,370.8 995.3,380.3 990.8,378.6 993.4,370.8 998.7,362.3 998.6,354.6 997.6,350.4 993.3,351.0 990.1,354.5 990.1,359.3 991.3,360.5 989.6,368.7ZM944.2,384.5 945.5,382.9 945.0,376.6 943.3,374.9 943.2,384.3ZM952.8,415.7 953.2,414.8 952.4,409.6 950.6,407.9 949.7,415.9ZM992.3,415.8 983.6,415.3 982.0,417.0 974.9,416.8 975.2,424.7 977.2,427.3 984.6,425.0 985.5,425.4 991.1,423.8 993.0,422.1ZM976.6,429.1 969.2,431.2 970.3,440.1 972.6,439.9 978.7,442.7 981.5,441.4 984.9,442.7 989.5,441.0 993.7,448.6 997.4,447.7 999.7,440.9 1006.7,442.4 1006.2,447.0 1009.4,450.9 1015.9,447.9 1016.6,448.3 1016.6,456.8 1024.6,454.1 1021.1,447.8 1023.8,444.9 1023.9,440.3 1023.0,439.2 1026.4,431.3 1019.5,431.5 1017.8,432.4 1015.8,430.0 1015.0,429.7 1009.8,429.8 1007.8,434.3 1001.0,433.6 999.5,440.6 991.4,437.4 991.1,435.3 986.4,432.7 981.8,434.7 978.1,432.6ZM990.9,454.6 984.8,458.1 984.6,461.1 990.7,465.1 989.0,471.0 985.9,471.3 983.6,462.2 976.4,465.0 975.7,463.8 968.6,461.5 967.9,462.1 967.7,470.8 970.7,471.9 975.9,470.2 985.4,471.7 983.3,479.3 991.2,481.1 992.0,480.3 998.3,478.9 999.6,477.4 1008.6,481.7 1010.5,479.2 1007.4,472.4 1008.2,470.8 1005.8,464.1 994.9,463.0ZM935.5,470.0 943.8,472.0 944.3,464.5 942.6,461.7 937.0,462.7 935.0,465.4ZM935.9,493.1 934.6,494.7 938.7,503.7 942.1,504.3 943.8,505.9 950.4,504.4 951.3,503.3 958.1,502.4 960.4,507.2 968.0,504.8 965.4,496.3 960.4,497.2 959.7,497.8 951.6,495.0 949.9,497.0 944.5,496.4 943.9,496.7ZM936.3,504.8 929.6,503.5 927.7,512.5 929.2,513.6 935.1,513.0ZM959.6,510.8 953.1,509.9 949.5,513.3 943.8,511.1 941.9,519.8 941.3,520.4 943.6,527.1 944.3,527.6 951.9,526.4 953.1,527.6 960.0,527.2 961.6,518.1 960.3,516.6 960.4,512.3ZM992.6,513.7 991.6,512.7 984.6,511.2 982.4,519.1 983.1,519.6 991.6,521.7 992.9,520.1ZM926.9,522.7 927.2,529.1 928.4,530.4 935.3,526.9 935.2,522.6 929.8,520.5ZM967.4,559.9 968.3,552.3 967.0,551.3 961.2,552.3 961.1,560.3ZM984.4,554.5 976.8,551.7 974.3,553.5 975.1,560.6 984.1,560.1 984.7,565.0 987.6,567.7 990.6,568.1 993.4,559.2 984.6,559.6ZM966.9,593.3 961.2,592.1 956.7,600.7 961.0,603.3 967.4,599.6 967.3,609.0 961.7,609.1 959.5,611.8 961.6,615.9 960.5,622.0 962.7,624.2 964.4,624.7 968.3,628.9 975.3,619.8 982.6,614.0 981.8,610.1 977.7,610.0 974.4,605.3 974.7,603.1 967.8,599.2 967.7,594.3ZM981.8,622.0 987.2,625.7 991.2,625.3 992.2,623.0 992.0,619.3 989.4,616.5 985.3,616.6ZM934.8,623.5 936.6,630.2 934.3,635.3 935.5,638.6 937.5,639.5 942.4,640.0 944.9,632.0 950.8,633.5 954.4,628.9 951.5,622.3 945.8,624.2 943.6,623.0 936.1,622.6ZM984.1,640.9 990.9,640.0 990.9,634.0 982.3,630.7 980.0,631.7ZM981.5,650.4 983.1,654.2 990.9,654.7 991.6,654.1 993.1,649.3 983.3,647.6ZM959.7,668.3 952.9,674.0 951.0,671.1 943.4,671.1 942.4,672.2 944.1,676.9 941.1,681.0 944.8,688.4 944.0,689.2 943.2,694.4 943.8,696.0 941.9,702.2 945.9,705.6 950.5,704.7 952.4,701.7 951.9,698.4 953.4,696.0 949.8,687.8 959.9,688.4 960.6,689.3 967.1,689.3 970.3,686.6 968.0,681.2 965.8,679.4 960.9,680.3 960.2,679.6 961.6,671.4ZM1045.0,424.4 1049.0,427.4 1054.0,421.9 1059.4,424.7 1052.7,431.4 1057.1,434.2 1063.2,429.8 1065.0,432.1 1070.3,433.8 1073.0,432.1 1073.2,425.0 1070.5,423.3 1073.4,414.9 1072.6,414.4 1065.2,415.8 1063.7,418.4 1056.0,414.1 1052.4,417.1 1051.5,417.0 1046.8,420.0 1045.3,421.5ZM1055.5,455.7 1047.2,456.4 1045.9,464.1 1047.5,465.5 1054.3,463.1ZM1043.1,486.7 1040.1,480.4 1033.3,480.3 1031.2,482.9 1024.6,481.2 1021.8,486.8 1023.1,489.0 1022.3,493.8 1018.2,494.4 1014.8,499.3 1015.5,502.8 1025.3,502.4 1025.2,495.9 1031.1,493.8 1033.9,495.6 1039.7,495.0 1040.7,489.8ZM1014.8,504.8 1005.6,505.0 1006.7,512.2 1009.7,513.7 1016.4,510.6ZM1010.2,528.7 1007.6,526.2 1000.2,529.3 1000.3,532.9 993.0,537.4 993.4,542.1 1000.7,541.9 1002.1,543.6 1007.2,545.6 1007.8,544.7 1009.0,537.5 1008.2,536.5ZM1032.7,532.8 1028.3,536.9 1025.8,536.8 1021.4,543.1 1032.3,545.9 1038.6,543.5 1037.8,536.1ZM1047.6,552.4 1049.1,551.2 1048.1,544.5 1045.7,541.7 1039.2,543.5 1041.7,550.2ZM985.0,543.7 986.4,552.8 991.7,553.1 993.4,559.1 1001.0,560.7 1001.8,560.3 1007.5,560.9 1010.2,550.5 1007.8,549.0 1001.3,552.5 998.5,550.4 995.0,549.7 992.9,542.8ZM1030.5,578.1 1032.0,575.5 1031.8,569.5 1024.3,570.4 1025.1,578.3ZM1000.2,580.6 1001.0,577.4 992.9,572.7 989.6,577.8 991.9,582.8ZM1017.9,572.9 1014.4,576.6 1017.8,583.5 1022.0,582.8 1023.8,579.3ZM1041.4,591.8 1046.9,589.8 1048.7,582.5 1038.9,582.3 1038.5,582.7ZM1005.9,585.0 1007.8,597.5 1006.5,601.0 1006.7,605.8 1002.9,606.8 998.7,612.0 999.2,614.8 1001.2,616.5 1001.1,622.4 1006.1,624.9 1010.4,621.9 1009.2,616.9 1007.8,615.7 1008.8,607.4 1015.7,607.7 1015.5,614.2 1017.2,616.3 1024.9,614.8 1025.6,613.9 1023.4,607.4 1024.4,606.3 1032.7,609.6 1034.1,608.3 1033.6,602.5 1040.0,601.1 1041.7,598.6 1040.2,593.3 1030.6,591.8 1030.9,600.9 1025.5,603.4 1022.7,598.4 1017.3,598.4 1016.1,591.2 1015.1,590.3 1015.8,585.4 1009.5,582.3ZM1031.9,640.3 1040.2,639.2 1041.6,633.7 1038.6,631.7 1031.6,632.5ZM1048.2,639.0 1047.1,640.4 1047.2,647.1 1040.7,647.3 1039.9,654.3 1041.4,655.8 1045.7,656.3 1048.9,659.6 1048.5,662.4 1045.9,665.5 1033.0,663.7 1032.0,671.9 1033.3,674.1 1033.3,678.3 1039.2,680.7 1040.1,679.9 1042.3,674.4 1046.0,672.8 1049.2,678.6 1048.6,685.8 1048.9,686.2 1055.6,687.4 1056.4,688.4 1067.0,686.5 1065.2,680.8 1072.3,675.9 1072.4,674.5 1075.0,671.2 1072.1,663.8 1074.5,661.7 1074.2,656.4 1080.6,653.4 1080.5,649.4 1082.4,647.1 1079.5,638.7 1072.0,642.4 1072.9,646.8 1070.5,649.9 1070.1,653.8 1063.9,656.7 1062.1,655.4 1055.8,655.8 1053.1,648.7 1055.7,646.0 1054.5,640.6ZM1057.1,671.6 1056.8,666.6 1057.6,665.4 1064.6,661.9 1066.4,663.9 1065.3,669.9 1061.2,672.2 1064.0,680.2 1057.7,681.5 1054.9,677.3ZM1031.7,641.3 1025.9,640.6 1023.4,641.9 1023.2,649.2 1024.3,650.8 1031.0,648.9 1032.6,645.4ZM1009.1,670.8 1017.0,670.6 1016.7,664.4 1006.9,663.6ZM1017.5,687.6 1024.0,685.5 1024.5,681.7 1016.4,676.5 1011.8,680.1 1016.2,687.0ZM1057.2,695.5 1050.1,695.9 1046.5,703.5 1042.5,704.4 1042.0,712.7 1039.3,714.2 1038.8,718.9 1043.0,722.5 1046.4,721.4 1047.3,719.9 1055.6,719.4 1056.8,712.5 1055.7,711.5 1054.2,705.9 1057.3,701.7ZM1015.7,706.1 1022.7,702.9 1023.8,704.6 1023.2,711.9 1026.7,713.7 1031.6,712.2 1032.3,711.6 1033.7,706.2 1032.2,704.7 1029.2,697.2 1024.1,696.6 1023.1,697.1 1017.8,695.6 1016.3,696.3 1013.3,703.4ZM1026.1,718.2 1023.1,722.4 1023.0,725.8 1016.1,725.4 1015.5,718.3 1010.5,717.5 1008.7,719.9 1008.1,727.1 1007.0,727.6 1004.6,735.2 1003.3,735.7 1004.1,738.4 1014.1,736.1 1015.0,734.4 1016.7,734.3 1023.4,729.6 1023.4,726.1 1028.3,725.9 1030.4,724.4 1033.3,725.3 1033.5,722.2ZM1047.8,733.6 1046.5,734.4 1055.0,744.1 1061.9,745.7 1065.4,752.1 1070.8,749.7 1071.3,746.0 1073.1,743.7 1071.1,736.0 1065.3,734.8 1056.1,734.4 1053.7,739.0 1050.5,738.1ZM1151.3,329.6 1151.9,338.7 1158.1,337.3 1160.1,334.4 1167.6,336.5 1168.8,329.4 1169.8,328.3 1169.1,322.0 1166.4,319.6 1161.0,320.8 1158.7,319.5 1153.7,318.9 1153.1,319.4 1152.9,328.8ZM1150.9,363.0 1152.5,368.0 1157.7,367.2 1158.8,367.8 1167.7,367.8 1164.9,375.8 1169.5,378.8 1170.6,383.9 1174.9,385.2 1176.8,386.3 1183.1,382.5 1181.8,376.9 1182.8,369.9 1176.9,367.4 1173.5,368.9 1168.4,367.3 1168.1,361.0 1169.8,358.1 1169.4,355.7 1166.2,352.1 1159.9,353.7 1156.5,351.2 1153.3,351.1 1152.0,352.8 1153.4,358.9ZM1090.4,392.5 1096.4,391.9 1096.2,382.5 1087.9,384.0 1086.6,385.2 1086.8,389.6ZM1120.9,405.8 1121.0,401.7 1118.3,399.0 1111.1,400.5 1105.2,400.2 1102.3,406.4 1103.6,408.2 1103.5,413.7 1110.3,415.6 1112.2,417.7 1119.4,415.2 1119.0,408.5ZM1143.2,410.4 1151.1,406.2 1148.9,401.6 1144.1,401.2 1141.9,409.2ZM1087.1,424.7 1079.6,424.6 1080.2,431.6 1087.4,431.1 1088.4,429.4ZM1113.2,431.3 1112.5,432.2 1106.8,433.5 1105.3,438.1 1102.8,440.4 1106.2,447.0 1111.6,447.2 1112.6,448.2 1118.7,449.4 1120.2,440.2 1119.8,439.4 1122.4,434.4 1120.3,432.3ZM1158.0,470.9 1158.1,464.5 1154.4,463.8 1154.1,464.9 1154.6,470.7ZM1100.7,464.8 1095.7,462.9 1094.6,463.8 1094.7,475.2 1095.6,477.6 1088.5,481.1 1087.9,485.0 1080.4,486.4 1074.2,486.9 1073.4,487.8 1064.9,488.2 1064.2,487.7 1056.5,489.6 1057.1,495.4 1064.1,496.5 1066.8,494.5 1071.8,496.4 1071.3,501.6 1072.8,503.0 1071.5,511.1 1069.5,512.4 1070.6,518.4 1069.2,520.0 1069.5,527.6 1070.8,529.0 1076.6,529.1 1079.5,526.0 1078.0,519.1 1079.7,513.4 1078.1,510.8 1079.1,505.0 1080.9,504.0 1083.3,496.1 1087.5,496.0 1089.7,486.8 1095.0,487.4 1096.6,486.4 1096.9,478.6 1102.7,478.5 1104.9,477.2 1105.4,471.3 1102.4,469.1ZM1144.5,503.9 1143.1,510.6 1145.4,512.8 1151.1,510.8 1150.8,504.0ZM1086.4,529.6 1085.7,534.8 1086.8,536.4 1086.6,540.6 1090.7,544.2 1096.5,542.5 1096.7,537.0 1095.4,535.0 1096.1,528.6 1095.3,527.9ZM1135.4,542.1 1143.5,543.7 1145.0,545.6 1152.9,541.3 1153.6,536.6 1152.3,535.1 1146.2,535.7 1143.9,537.6 1136.8,535.9 1135.1,538.6ZM1056.6,543.3 1055.0,551.2 1056.9,558.4 1062.3,560.2 1062.9,560.0 1070.1,562.8 1072.8,558.8 1070.0,553.2 1073.0,551.1 1073.2,543.8 1070.9,542.5 1067.3,543.3 1064.9,546.0ZM1120.2,557.4 1118.4,567.1 1113.9,565.3 1107.9,569.1 1110.7,575.3 1109.9,577.7 1102.7,578.2 1100.7,583.5 1103.6,587.3 1111.2,585.1 1112.2,582.9 1119.7,581.8 1120.6,574.8 1119.0,573.1 1118.9,567.8 1125.7,565.8 1125.6,559.9ZM1071.8,567.5 1061.6,566.8 1060.3,568.5 1056.6,569.3 1054.9,573.6 1057.0,577.7 1063.6,579.3 1066.3,576.4 1069.1,575.7 1071.5,572.9 1072.6,568.6ZM1143.0,576.7 1142.2,567.7 1135.2,568.4 1134.3,575.1ZM1151.5,583.5 1150.3,584.6 1151.1,589.6 1153.7,591.3 1155.4,589.1 1161.2,585.3 1162.0,583.9 1166.1,584.5 1167.9,582.8 1168.8,575.3 1167.8,574.4 1167.6,568.8 1174.2,568.1 1174.5,561.2 1167.7,561.5 1166.7,567.8 1159.1,567.7 1160.0,574.9 1159.3,576.3 1161.3,583.2ZM1087.5,606.0 1090.8,609.4 1092.5,609.8 1097.0,606.3 1096.4,599.8 1105.0,600.8 1103.8,592.3 1102.6,591.2 1097.2,593.0 1094.3,590.7 1088.4,592.4 1088.7,599.3 1089.2,600.0ZM1121.0,606.9 1120.2,600.1 1112.1,600.8 1112.1,606.3 1110.0,607.8 1104.7,605.7 1101.7,608.0 1101.9,615.1 1100.5,616.3 1103.4,624.1 1105.6,625.3 1109.2,624.6 1111.6,627.0 1112.7,630.3 1114.3,631.7 1119.1,633.3 1122.8,623.2 1120.9,621.0 1119.3,616.1 1119.7,615.4 1120.0,608.3ZM1094.7,626.0 1097.9,616.8 1095.3,615.4 1087.4,619.1 1087.7,622.7 1089.0,624.7ZM1102.9,647.4 1106.4,638.6 1105.0,636.8 1096.9,639.8 1096.0,641.7 1098.1,648.0 1101.5,648.3ZM1080.5,699.4 1082.4,696.4 1080.7,689.1 1072.9,690.7 1072.0,694.9ZM1074.7,727.7 1079.5,728.8 1081.0,729.7 1080.6,735.1 1089.4,737.0 1091.4,735.3 1088.4,727.8 1087.3,727.3 1085.4,721.1 1080.6,720.5 1077.6,718.4 1073.4,719.3 1071.8,722.8 1064.0,718.6 1062.1,720.6 1056.2,721.1 1055.7,726.9 1064.3,729.2 1065.6,727.5 1071.8,723.8ZM1121.8,790.3 1120.3,785.9 1112.5,783.2 1111.9,782.5 1104.9,783.4 1098.5,782.6 1097.4,784.0 1090.0,785.0 1089.5,790.3 1086.8,791.4 1082.5,789.2 1078.5,793.6 1078.8,795.3 1082.6,799.8 1085.2,799.7 1086.1,800.3 1095.8,798.1 1096.3,799.3 1102.4,803.7 1106.7,799.1 1110.7,801.0 1113.5,799.3 1120.3,799.9 1120.8,799.3 1120.4,793.0ZM1248.1,231.5 1241.5,230.9 1233.5,237.1 1229.6,232.6 1226.2,232.5 1218.3,254.8 1218.5,255.6 1226.5,255.9 1227.0,255.3 1229.5,254.7 1233.9,257.7 1239.8,254.2 1240.7,252.7 1246.8,259.0 1251.0,255.5 1253.5,255.4 1255.1,254.0 1259.9,257.0 1252.9,235.0ZM1262.4,270.4 1261.5,272.1 1263.3,279.0 1264.9,280.5 1263.9,286.8 1256.0,286.5 1255.3,287.3 1247.7,287.2 1246.0,289.8 1248.7,296.4 1247.4,303.4 1248.2,305.1 1247.0,311.4 1246.4,319.6 1248.1,321.0 1253.1,316.4 1253.0,309.8 1254.6,303.0 1259.3,306.7 1265.1,306.3 1269.2,301.1 1275.4,296.5 1281.2,290.7 1283.1,284.7 1274.9,279.5 1272.0,276.0 1270.9,273.6ZM1223.5,285.7 1214.9,289.2 1213.9,288.5 1213.4,289.9 1213.6,294.0 1209.5,293.9 1204.4,297.4 1204.0,303.2 1183.9,308.4 1183.6,309.8 1184.0,318.6 1191.1,317.9 1193.4,320.7 1198.8,322.2 1200.6,319.8 1206.4,318.3 1207.5,317.1 1216.2,322.2 1223.6,320.6 1224.2,319.7 1230.5,318.5 1233.1,313.4 1232.3,311.7 1233.1,305.9 1232.3,297.4 1231.4,296.7 1232.2,288.7 1230.7,287.5 1225.6,287.8ZM1181.9,393.2 1181.8,398.4 1186.1,401.4 1191.6,398.4 1191.3,393.8 1186.3,391.5ZM1181.3,552.1 1183.7,553.6 1185.8,552.7 1185.4,551.1 1182.5,547.2ZM1160.1,560.3 1159.4,552.9 1154.4,552.0 1152.6,559.7ZM1183.9,565.2 1182.8,567.5 1183.0,567.8 1185.9,565.8ZM1176.0,571.3 1175.3,574.2 1175.7,574.8 1179.8,569.9Z" fill="#98a6fe"/>
<path fill-rule="evenodd" d="M443.4,239.7 449.5,242.6 450.6,259.6 464.5,256.9 467.3,254.9 479.1,257.3 485.3,240.5 484.2,238.9 483.1,232.5 445.2,225.1ZM366.2,239.3 352.9,238.8 351.7,255.0 354.0,256.3 364.2,256.3 366.5,239.8ZM383.8,256.9 385.8,269.1 383.5,273.3 382.6,284.2 401.2,289.0 399.0,271.0 399.7,270.5 405.5,257.5 397.2,253.7 384.2,256.3ZM499.6,275.9 498.5,274.7 480.5,267.9 479.8,269.1 478.9,284.8 476.0,286.8 479.0,306.2 491.5,302.9 495.8,297.7 496.8,291.3 495.7,288.8ZM288.1,288.5 291.1,273.6 289.0,271.2 280.6,271.2 263.8,314.6 260.6,320.4 271.6,321.0 273.2,317.8 270.0,308.1 275.0,302.9 288.1,302.5ZM322.1,289.2 321.8,288.7 306.4,282.2 302.1,288.2 304.9,302.2 314.8,303.2ZM610.2,287.4 607.9,285.2 605.5,286.3 588.7,286.5 588.3,286.9 594.2,301.3 590.1,307.1 590.9,309.2 590.2,316.5 587.5,321.8 590.3,330.9 593.3,331.1 602.7,338.3 608.5,337.8 611.6,333.1 603.8,322.0 605.2,319.4 619.9,322.2 620.8,319.5 628.4,315.4 628.5,314.2 624.6,303.7 622.1,303.0 618.1,303.4 613.8,307.2 610.8,307.4 606.6,303.2ZM351.9,289.9 350.1,300.9 350.5,301.6 368.0,307.8 371.0,304.4 363.4,287.1 354.4,288.0ZM574.3,333.3 571.5,321.4 562.0,319.3 559.9,320.2 553.6,335.6 548.5,336.1 543.8,339.6 543.0,352.0 558.2,353.7 558.4,364.5 563.8,368.2 574.0,364.8 575.6,350.1 573.2,335.4ZM562.2,413.0 560.9,404.1 553.9,397.4 547.1,398.0 545.9,398.9 527.6,398.7 526.7,400.2 511.6,402.0 513.0,417.8 508.5,420.3 506.9,429.7 494.5,436.4 496.7,446.7 508.5,448.8 511.5,446.8 529.0,448.3 529.6,447.9 540.5,451.4 546.4,447.6 549.4,433.0 540.1,416.9 543.6,414.7 559.0,416.0ZM366.8,433.7 351.6,430.6 346.7,434.6 356.3,446.9 351.2,452.0 350.9,465.8 352.0,466.9 365.1,466.1 367.8,447.4 365.7,445.5ZM626.0,475.1 622.0,464.1 612.6,463.8 610.0,466.3 609.9,469.9 603.9,477.7 603.4,480.2 604.7,483.6 610.9,485.2 622.1,478.6ZM565.1,482.8 559.1,476.7 545.3,484.2 546.3,496.0 557.2,497.4 562.1,494.0ZM608.3,524.1 601.4,524.6 598.4,527.9 589.4,530.3 591.9,542.6 587.4,548.6 578.6,546.6 570.8,560.0 576.2,565.4 591.4,559.1 593.0,560.7 607.7,558.1 609.1,561.5 616.4,565.5 624.4,563.0 626.1,561.8 624.4,557.8 629.4,542.4 624.6,541.3 614.0,548.9 610.5,548.3 607.1,543.9 608.1,541.7 611.4,527.0 610.2,525.3ZM562.2,541.9 576.1,542.8 580.5,530.3 576.5,526.9 564.1,528.3ZM615.8,589.7 606.8,594.6 612.4,603.1 611.4,607.3 626.6,609.6 628.1,608.2 622.3,595.1 619.3,591.3ZM541.3,604.9 527.5,603.1 522.1,607.4 530.8,623.8 513.8,627.8 513.8,640.5 511.4,654.3 512.0,655.1 529.0,657.3 530.3,658.7 539.1,658.4 544.3,653.8 542.1,642.0 546.5,636.3 540.6,622.4 543.5,618.8 543.4,610.2ZM668.8,277.2 675.7,284.6 676.2,286.8 685.5,290.3 689.7,285.0 686.1,275.7 675.1,269.4 669.3,274.9ZM764.2,408.3 765.6,408.5 768.2,406.6 768.2,398.8 759.9,400.3 759.4,401.2ZM742.7,417.1 735.7,413.5 733.0,425.4 734.1,427.6 737.0,427.9 743.6,433.1 750.8,430.8 751.6,427.4 750.6,424.1 743.3,421.6ZM701.6,444.2 706.2,454.4 699.4,462.4 712.8,465.0 714.3,463.8 719.3,456.5 718.6,446.1 715.6,445.8 712.6,447.0 702.1,443.9ZM765.7,454.7 767.4,447.6 760.2,444.8 758.2,447.2 757.8,453.8 762.5,456.3ZM671.4,448.5 659.5,451.6 653.2,458.0 651.8,463.2 670.2,466.0 670.9,465.6 670.6,464.1 674.7,451.1ZM734.2,491.1 733.6,493.6 739.1,503.9 734.8,508.4 733.8,508.7 733.4,509.8 735.4,522.6 741.5,520.5 744.9,514.5 750.1,512.9 749.4,506.8 755.2,502.4 750.7,495.8 744.9,498.9 741.2,492.2 735.8,490.5ZM652.6,530.5 644.8,522.9 642.2,523.0 637.6,529.2 644.0,537.3 642.2,542.4 651.0,548.5 654.4,548.3 658.7,544.2 651.3,535.1ZM763.7,575.8 765.3,577.6 775.8,575.1 775.8,569.0 770.8,568.2ZM721.9,569.9 718.0,570.0 717.5,571.1 722.7,583.5 720.3,587.3 729.7,593.4 735.0,591.0 735.4,587.5 728.8,580.0 728.9,579.5ZM723.3,601.4 717.4,589.9 712.8,592.7 703.5,590.8 701.0,592.3 701.4,599.2 707.2,604.0 707.7,605.9 712.1,608.6 720.3,604.2ZM765.8,610.5 766.7,611.4 767.5,616.8 760.0,617.7 758.0,616.8 752.2,618.7 750.8,620.4 750.8,621.2 759.6,628.2 760.8,626.3 767.4,621.9 768.7,624.1 775.9,624.3 776.8,622.7 782.5,622.4 783.5,616.6 781.8,614.7 784.4,608.4 782.8,605.8 783.0,601.8 784.0,600.4 781.3,593.7 777.4,593.6 774.3,591.3 769.0,591.1 769.7,600.2 768.2,600.9ZM738.4,624.3 735.6,636.8 744.7,642.0 749.8,639.7 749.1,637.0 752.1,630.7 747.8,625.3 745.4,626.2ZM682.6,627.0 679.4,623.4 670.6,620.9 670.2,621.1 668.8,625.8 675.4,641.7 676.3,641.6 682.8,628.1ZM630.1,634.8 628.3,635.1 622.3,642.5 624.1,652.1 627.2,654.1 629.3,653.6 635.6,641.9ZM704.9,687.5 703.4,697.0 714.0,695.6 716.1,689.2ZM758.0,727.2 759.4,728.9 764.6,728.9 767.4,736.3 768.1,736.7 774.5,733.5 775.1,727.6 775.5,727.3 783.8,729.5 785.7,727.6 782.0,719.7 784.1,718.0 785.5,713.1 781.5,709.7 783.1,703.7 776.2,700.4 774.5,702.6 776.5,710.6 776.0,711.2 777.1,719.6 769.7,718.3 766.8,721.5 761.5,719.0 759.2,720.3ZM640.5,717.5 638.2,718.7 635.1,723.8 643.5,735.7 646.3,734.1 653.5,724.5ZM697.2,723.9 695.8,736.1 700.6,736.2 707.5,733.6 708.1,731.3 701.7,722.5ZM748.2,732.3 744.0,737.2 737.8,736.0 735.6,743.7 731.6,746.6 732.4,751.8 733.2,752.6 736.8,759.9 735.1,763.0 735.1,768.2 726.8,771.2 722.6,763.8 718.7,763.3 717.1,764.3 715.2,769.5 723.2,777.1 722.0,781.8 728.5,783.9 736.2,781.9 738.0,780.4 738.3,778.5 737.2,770.7 747.9,768.4 752.2,770.9 758.8,767.0 762.6,768.4 767.3,767.3 768.2,766.2 768.5,759.7 767.7,758.4 767.7,755.9 761.7,749.5 758.8,750.4 752.6,749.4 750.2,747.4 752.7,743.8 754.2,736.0ZM674.3,755.3 669.1,755.8 662.2,759.8 666.6,766.0 667.5,768.3 672.2,767.8 672.9,766.8 684.0,768.7 686.4,766.8ZM815.2,319.1 809.2,320.8 805.9,318.1 801.9,318.3 799.0,321.9 799.2,327.3 801.1,328.8 800.6,336.3 808.5,337.6 810.1,336.4 815.1,338.4 816.1,339.2 825.0,333.9 827.5,336.1 832.7,334.0 832.5,325.2 830.3,319.9 829.5,319.5 827.5,319.7 825.4,321.0 815.6,319.6ZM767.0,336.9 766.5,343.5 767.6,345.2 767.7,351.0 775.4,351.3 776.7,352.6 782.8,354.2 785.3,351.1 786.4,346.4 783.5,344.3 781.9,337.0 775.4,337.0 774.7,336.3ZM830.0,361.5 831.4,362.4 832.7,368.9 839.2,369.8 842.9,367.1 845.9,368.0 848.4,375.0 846.9,377.7 848.3,381.6 856.1,384.1 856.9,384.9 861.6,384.2 866.3,392.4 871.0,392.1 872.7,391.0 876.5,392.0 881.0,390.0 883.0,384.1 879.9,380.9 872.5,385.7 870.5,382.5 865.0,380.6 864.8,377.4 866.6,374.8 864.4,367.6 858.9,367.4 857.3,369.2 849.2,365.9 851.7,360.6 847.4,357.1 849.2,350.8 848.2,349.5 840.7,351.7 838.8,354.3 832.6,350.7 832.1,350.9ZM783.7,366.0 776.2,366.1 773.4,369.0 769.7,368.6 767.3,370.3 767.8,378.1 767.4,378.6 768.2,385.7 777.5,385.3 784.2,383.0 783.9,374.1 784.7,373.0 784.9,368.4ZM834.3,383.1 833.6,382.3 824.4,380.8 823.8,381.7 817.5,385.2 813.2,381.8 807.6,383.3 807.0,384.1 809.2,390.7 810.8,392.3 814.9,392.3 817.5,400.2 824.9,398.7 828.9,399.4 835.1,394.1 830.9,389.8ZM798.1,413.6 793.3,416.1 791.7,419.1 792.4,420.9 800.6,423.4 802.3,417.0ZM818.3,435.1 817.1,440.4 824.1,441.6 828.1,439.3 824.1,432.1ZM806.0,480.7 805.7,472.3 799.0,472.2 799.4,482.4 800.5,483.0ZM819.5,511.9 817.2,509.8 809.0,512.6 809.3,518.4 814.5,519.9 817.1,518.5ZM823.8,512.7 825.0,519.9 832.1,519.7 832.1,511.5 824.8,511.9ZM816.2,528.2 810.5,527.9 807.3,535.3 802.2,533.3 798.7,536.6 799.7,541.7 806.0,541.9 807.4,535.7 814.1,537.5 816.5,535.2ZM829.8,535.4 830.1,541.4 834.2,543.9 839.1,542.5 840.4,544.0 848.7,543.7 849.0,537.3 845.9,535.3 848.7,527.6 840.0,525.1 838.5,527.0 832.0,528.1 831.5,528.5 830.9,534.0ZM815.4,568.5 814.1,558.8 811.2,558.9 807.6,562.2 808.7,568.7 809.4,569.5ZM786.4,560.6 780.9,569.1 784.5,571.2 790.4,569.2 789.5,561.4ZM817.8,601.3 823.7,600.6 822.7,593.0 816.6,591.4 815.6,592.1 814.4,598.0ZM800.5,670.6 800.0,671.6 800.2,678.8 799.7,679.3 799.6,686.8 802.2,689.4 807.8,687.7 808.4,688.1 817.5,688.4 814.4,680.5 812.9,679.3 816.5,673.0 807.6,669.1ZM831.8,678.4 829.9,680.4 832.2,687.6 840.0,686.9 840.6,686.1 839.1,679.5ZM831.9,695.7 832.2,688.0 824.6,687.9 825.9,695.4 823.3,696.5 821.5,702.2 822.6,703.7 829.9,704.5 830.8,696.2ZM805.6,706.1 808.0,701.4 808.0,698.5 801.5,695.6 799.5,703.9 801.1,705.9ZM797.7,709.7 791.6,710.0 791.1,710.7 793.7,718.6 798.2,720.1 800.7,713.3ZM913.9,307.9 913.7,309.9 911.4,312.1 911.7,319.7 913.9,321.1 919.8,320.6 920.2,320.2 927.9,321.3 930.5,319.2 927.0,314.2 918.7,312.2ZM856.2,420.0 856.7,419.4 857.8,409.7 855.0,408.0 849.8,408.2 849.1,408.8 849.0,416.2ZM895.1,415.6 888.8,416.7 888.1,417.4 880.7,416.6 878.8,418.0 879.6,424.9 880.7,425.8 879.8,431.9 878.6,432.8 877.3,438.6 879.0,439.7 880.8,446.8 882.7,447.6 886.4,447.4 888.6,450.3 894.5,449.9 898.5,447.5 900.5,448.1 902.2,455.3 903.4,456.6 910.1,455.9 910.6,455.3 911.2,450.2 913.7,447.7 912.7,441.3 910.8,440.0 912.2,432.1 911.8,431.5 906.2,430.0 904.1,432.2 896.0,430.4 899.4,424.4 897.3,422.0ZM837.5,464.1 838.9,473.2 845.3,472.3 847.7,470.5 848.1,466.3 841.1,461.0ZM863.1,464.3 857.9,465.2 856.8,470.4 864.8,474.3 865.1,473.9 864.5,465.5ZM863.9,492.7 863.6,487.8 854.9,486.5 852.2,488.1 856.8,496.9ZM943.5,511.0 949.6,513.8 953.3,510.3 950.5,503.9 943.9,505.4 942.3,503.8 938.9,503.3 935.9,504.8 934.8,513.0ZM904.6,518.5 905.4,512.7 897.5,510.5 895.4,513.6 897.7,519.2ZM911.9,531.1 913.1,529.7 913.3,521.6 906.5,520.7 902.3,527.6ZM865.7,528.4 866.4,534.4 871.5,536.1 875.0,529.8 872.0,527.6ZM912.5,550.6 919.5,555.8 920.8,553.9 918.8,544.9 913.7,546.6ZM891.2,568.7 893.9,569.1 896.6,576.1 903.4,573.7 903.1,566.5 898.1,566.7 893.9,558.4 887.9,561.2 888.4,565.9ZM837.5,559.6 836.5,559.8 830.1,568.3 840.1,569.5 841.7,567.5ZM838.9,573.3 831.2,576.5 833.6,583.8 836.8,584.4 842.6,577.5ZM912.5,584.3 909.3,592.3 919.0,591.5 920.2,590.5 920.1,587.8 918.6,585.0ZM941.6,591.3 944.7,595.3 951.6,591.2 950.8,584.2 943.3,584.1ZM844.9,591.3 844.1,592.4 848.5,600.3 854.9,599.3 855.9,594.6 854.4,590.6ZM864.7,615.5 862.3,622.9 870.6,624.5 872.3,618.1ZM906.2,633.0 906.0,623.6 903.6,622.3 897.4,626.7 897.1,630.0ZM934.6,635.5 937.2,630.2 935.2,623.6 930.4,623.7 928.8,632.5 929.2,633.1ZM853.9,631.4 849.8,632.8 847.7,638.2 849.5,640.6 858.3,638.6 857.2,633.6ZM950.8,633.0 944.5,631.5 942.0,639.9 943.3,641.1 952.0,640.7 953.3,639.8ZM910.6,649.7 913.1,647.9 912.6,642.8 911.7,642.0 904.0,640.0 905.3,648.2ZM959.4,703.0 961.9,697.0 960.2,694.1 953.0,695.8 951.4,698.3 952.0,701.8ZM958.6,385.1 960.4,391.2 961.3,392.2 966.8,392.1 969.9,385.2 967.9,382.1 961.0,382.5ZM1039.8,439.8 1040.1,434.8 1034.4,429.7 1029.6,431.2 1026.2,431.3 1022.4,439.2 1023.4,440.5 1023.5,445.0 1029.9,447.9 1037.2,448.2 1037.9,455.3 1045.2,454.9 1046.1,449.6 1038.7,446.1ZM978.9,442.4 972.7,439.4 970.3,439.6 968.8,440.9 967.6,445.0 968.6,447.4 974.5,448.6 976.3,455.1 975.6,455.8 975.3,464.0 976.3,465.5 983.6,462.6 985.1,461.0 985.3,458.0 981.1,454.3 982.1,450.4 978.4,446.2ZM999.6,440.5 997.0,447.8 999.9,449.6 1006.6,447.1 1007.1,442.0ZM985.2,448.6 991.6,451.0 993.9,448.5 989.8,440.5 984.7,442.3ZM1008.9,452.8 1006.6,454.8 1007.6,462.7 1016.0,462.5 1016.0,457.8ZM1041.5,464.8 1038.9,462.0 1031.8,464.3 1030.4,463.5 1023.6,466.6 1023.7,472.1 1023.1,479.7 1024.6,481.6 1031.3,483.4 1033.5,480.8 1040.2,480.8 1042.5,473.9 1039.0,470.5ZM957.0,489.0 960.3,497.7 965.4,496.8 966.9,495.5 966.3,486.3 962.5,486.3ZM990.8,534.9 993.4,537.8 1000.8,533.2 1000.6,529.3 991.7,527.8ZM984.9,543.5 977.7,545.9 976.7,552.0 984.2,554.9 986.8,552.8 985.5,543.8ZM1041.9,549.8 1038.9,552.8 1041.8,558.9 1038.1,560.9 1039.3,568.7 1031.5,569.5 1031.7,575.7 1039.8,576.9 1041.9,574.0 1040.6,569.5 1046.5,566.2 1046.1,558.8 1054.2,560.9 1057.3,558.3 1055.3,551.0 1048.8,550.9 1047.4,551.9ZM984.5,559.7 975.2,560.3 976.4,567.8 985.1,565.0ZM960.7,574.5 959.7,576.0 960.9,581.8 959.7,583.1 960.4,591.8 961.3,592.6 966.6,593.7 967.5,594.5 976.4,592.9 976.0,585.6 977.6,583.7 974.9,577.8 970.2,577.2 969.4,575.6ZM1008.9,575.9 1009.3,582.7 1015.8,585.8 1018.2,583.3 1014.8,576.4ZM1030.3,577.7 1025.1,578.0 1023.4,579.2 1021.7,582.7 1023.1,584.3 1033.4,583.8ZM998.4,591.9 1001.4,583.0 1000.0,580.3 991.9,582.4 991.5,583.2 993.1,591.4ZM1015.7,591.1 1016.9,598.9 1022.7,598.8 1025.1,592.4ZM1022.9,607.4 1025.1,613.9 1024.6,614.5 1022.8,622.9 1029.7,623.2 1031.6,626.8 1040.7,624.0 1047.8,627.1 1050.4,625.2 1047.7,615.7 1047.0,615.1 1049.4,607.2 1040.9,606.7 1039.2,609.7 1040.6,616.1 1039.6,617.2 1032.5,616.9 1031.1,615.2 1032.7,609.1 1024.4,605.8ZM987.5,625.6 982.1,621.6 978.3,622.2 977.8,631.0 980.2,631.9 982.5,631.2ZM1032.2,645.6 1040.5,647.2 1041.9,640.7 1040.0,638.7 1032.0,639.9 1031.2,641.4ZM1032.1,658.4 1033.9,654.4 1030.9,648.6 1024.2,650.5 1022.2,654.5 1023.1,655.8ZM1041.8,674.2 1039.7,680.0 1049.2,679.4 1049.7,678.8 1046.3,672.2ZM975.6,673.7 969.4,672.8 965.4,679.7 967.8,681.6 976.6,679.3 976.8,678.8ZM1024.4,696.9 1025.8,687.0 1023.9,685.1 1017.4,687.1 1017.6,696.0 1023.1,697.7ZM1013.7,703.6 1016.7,696.3 1009.5,693.8 1006.6,697.2 1006.9,702.1 999.4,702.3 997.7,704.0 993.2,702.6 989.0,704.9 993.2,711.8 992.3,713.0 993.8,720.5 991.0,722.3 991.1,726.2 995.3,727.9 1002.4,732.7 1003.5,736.1 1005.0,735.5 1007.4,727.9 1008.6,727.3 1009.2,720.1 1010.9,717.8 1009.2,712.5 1006.0,710.7 1007.9,703.3ZM1033.3,706.4 1040.3,703.0 1039.3,696.9 1032.4,694.8 1028.8,697.5 1031.7,705.0ZM1032.0,711.2 1031.3,712.1 1033.9,721.0 1039.3,719.0 1039.7,714.2ZM1015.7,725.8 1023.1,726.3 1023.5,725.9 1023.6,722.3 1017.5,716.9 1015.0,718.4ZM1137.2,370.0 1134.0,366.1 1129.5,367.9 1127.7,366.6 1121.8,366.8 1119.6,370.0 1120.2,372.2 1118.4,375.8 1119.2,383.4 1112.8,382.5 1111.3,381.3 1104.4,382.2 1105.2,390.4 1102.4,392.1 1097.0,392.4 1096.5,401.2 1104.6,400.0 1105.3,400.6 1111.2,401.0 1118.2,399.5 1120.7,402.1 1127.8,400.3 1129.0,399.0 1129.6,392.3 1132.8,392.2 1137.3,390.1 1139.0,386.1 1134.9,382.9 1136.5,376.3 1135.2,374.9ZM1119.6,383.7 1127.6,380.9 1129.7,383.5 1128.9,391.5 1120.4,390.0ZM1150.8,405.8 1143.0,410.0 1144.9,414.7 1151.7,414.8 1152.5,407.1ZM1110.6,415.1 1103.7,413.3 1100.2,415.7 1104.8,424.4 1102.9,426.6 1103.1,430.2 1096.9,434.4 1094.1,429.5 1087.9,429.2 1086.9,430.9 1087.7,439.4 1086.0,440.6 1086.3,447.9 1093.5,449.5 1096.0,445.4 1103.0,450.6 1106.6,446.8 1103.4,440.4 1105.7,438.3 1107.1,433.9 1112.7,432.7 1113.3,431.8 1120.5,432.7 1121.5,425.4 1120.5,424.7 1121.4,415.8 1119.3,414.7 1112.3,417.2ZM1073.0,414.8 1069.9,423.4 1073.0,425.3 1077.9,423.4 1079.4,415.9 1078.4,414.9ZM1072.6,431.8 1070.0,433.5 1069.4,439.0 1072.4,443.0 1079.3,436.7 1078.2,433.8ZM1157.8,489.4 1159.1,486.9 1157.2,479.8 1153.7,479.8 1153.5,480.8 1156.3,489.4ZM1149.4,486.3 1152.4,488.6 1152.7,488.6 1150.6,484.0ZM1079.4,513.2 1077.5,519.1 1077.9,519.8 1086.7,519.1 1088.2,512.6 1087.5,512.2ZM1106.2,520.1 1101.3,512.8 1095.8,514.2 1096.0,519.4 1094.1,522.8 1095.1,528.3 1095.8,529.0 1103.1,528.8 1103.8,521.9ZM1146.1,526.9 1141.8,530.0 1146.1,536.1 1152.5,535.6 1152.4,528.6ZM1175.0,555.3 1167.3,550.6 1166.4,551.2 1161.5,551.7 1158.9,553.0 1159.6,560.2 1161.0,561.9 1165.7,560.6 1167.8,561.9 1174.1,561.6 1173.8,568.0 1176.2,571.6 1179.6,570.2 1183.2,567.8 1184.3,565.4 1183.3,562.3 1175.2,560.5ZM1062.1,559.9 1061.5,567.2 1071.8,567.8 1070.2,562.3 1063.0,559.5ZM1110.3,599.1 1104.8,600.6 1104.5,605.9 1110.0,608.4 1112.6,606.5 1112.5,601.2 1120.3,600.4 1117.4,592.2 1114.4,591.6 1111.1,584.6 1103.5,586.9 1102.4,591.4 1103.5,592.6 1111.5,594.1ZM1088.1,622.4 1080.4,623.8 1079.9,624.4 1073.1,622.9 1071.0,625.7 1074.0,631.6 1070.9,633.8 1071.0,642.0 1072.3,642.8 1079.4,639.0 1079.7,638.4 1087.6,638.8 1088.6,640.8 1086.4,646.3 1090.8,650.4 1098.4,648.0 1098.0,654.9 1099.3,655.4 1103.9,650.9 1101.6,647.8 1098.5,647.9 1096.5,641.8 1097.2,640.2 1105.2,637.2 1105.0,634.0 1103.6,632.2 1105.8,624.9 1103.5,623.7 1095.9,626.7 1094.8,625.5 1089.3,624.3ZM1056.4,671.5 1054.3,677.3 1057.4,681.9 1064.4,680.6 1061.8,672.3 1065.8,670.2 1066.9,663.8 1064.8,661.4 1057.3,665.1 1056.3,666.5ZM1088.3,672.8 1090.1,672.6 1093.1,663.6 1087.3,664.3 1087.4,671.4ZM1072.2,675.4 1064.7,680.6 1066.9,686.6 1070.4,687.4 1076.3,680.4ZM1087.6,780.5 1079.9,783.7 1082.3,789.6 1086.7,791.9 1089.9,790.6 1090.4,785.2ZM1078.8,793.3 1076.8,792.8 1079.0,795.4 1079.3,795.2Z" fill="#607cf8"/>
<path fill-rule="evenodd" d="M318.4,222.5 318.8,215.8 315.5,216.1 308.4,213.3 297.5,208.2 292.4,203.9 288.2,202.7 287.7,203.0 286.6,207.7 288.1,217.5 287.5,237.1 290.4,239.3 289.0,241.7 289.6,242.1 301.3,241.4 306.9,256.4 316.7,257.1 320.8,240.6 319.1,230.8 318.6,230.8 317.8,235.4 315.2,238.4 311.0,238.4 309.0,233.4ZM353.3,238.8 352.7,238.4 335.2,240.7 335.0,241.2 338.9,253.7 352.0,255.0ZM383.0,243.1 366.1,239.7 363.8,256.1 365.6,257.8 365.6,270.1 383.9,273.5 386.3,269.1 384.3,256.9ZM363.1,287.1 370.5,304.6 379.8,303.0 381.4,301.1 382.5,284.5 365.5,285.1ZM314.7,302.7 305.0,301.8 300.3,305.0 304.5,318.6 320.0,319.6 319.2,330.7 335.9,337.9 339.6,334.8 334.2,317.6 336.5,315.5 335.9,303.3 334.5,302.2 318.3,307.6ZM305.4,336.4 304.3,335.4 290.2,330.2 284.3,334.6 292.2,351.3 287.7,357.3 287.4,361.6 290.2,365.9 300.3,367.5 306.5,364.1 303.4,348.7 302.5,347.7ZM382.5,339.5 368.7,338.3 364.3,353.2 369.1,364.6 353.0,371.9 356.0,384.9 363.8,384.9 366.4,383.1 381.7,380.6 383.9,368.0 383.1,367.0 383.9,352.6 386.2,348.5ZM246.7,370.9 246.1,376.0 242.2,386.2 258.0,382.8 256.1,372.8ZM242.3,386.4 234.2,395.4 237.1,405.5 240.8,413.3 237.1,424.1 235.5,436.3 238.5,444.7 240.3,448.3 244.3,445.4 242.1,435.4 245.1,431.3 253.0,428.5 255.6,419.2 273.6,418.3 290.1,415.2 290.8,414.5 289.1,399.3 273.3,397.5 269.3,401.2 257.2,399.7 256.2,400.3 241.0,398.7ZM375.5,400.1 371.2,404.5 369.3,412.0 382.9,420.2 380.5,428.6 383.7,432.2 384.0,448.1 397.2,448.7 398.7,447.9 412.7,453.2 417.6,449.9 431.9,453.4 435.7,448.8 426.9,431.5 429.1,429.3 430.4,417.5 428.5,414.3 433.1,400.6 443.0,399.9 447.2,382.1 446.9,381.7 432.9,382.0 429.1,385.6 417.9,385.0 415.7,386.7 402.0,385.7 401.6,386.1 383.5,383.8 379.8,399.3ZM319.3,428.5 336.5,431.0 338.1,433.8 347.0,434.9 351.9,431.0 355.8,417.2 351.8,414.4 340.1,414.8 320.0,413.5 319.0,414.4ZM273.4,431.8 257.1,432.5 257.6,444.6 272.5,448.0 274.9,434.3ZM320.5,445.7 305.7,450.7 306.2,461.4 300.7,466.0 302.7,479.8 285.3,481.0 284.0,493.8 292.0,498.0 304.4,493.1 307.6,495.2 318.3,494.3 320.0,495.7 320.8,513.7 319.4,514.6 316.9,529.0 316.4,529.4 317.2,543.1 323.4,547.4 332.3,543.0 338.4,546.7 351.9,539.4 368.5,542.0 369.1,541.3 369.0,525.1 365.9,522.9 366.5,510.9 368.8,507.9 367.4,498.0 384.9,495.7 385.8,494.6 397.4,496.5 402.0,484.5 395.9,478.0 382.8,483.3 379.7,481.1 385.8,466.1 381.6,461.4 368.3,468.5 365.0,465.8 352.2,466.4 351.2,465.5 335.5,465.6 337.9,479.9 351.2,483.4 350.7,492.6 352.0,494.4 350.6,508.4 335.5,510.7 334.4,498.5 335.8,496.7 333.3,483.4 323.5,481.2 321.3,476.5 323.6,466.5 318.6,462.8ZM511.4,309.1 495.6,297.3 491.2,302.5 478.9,305.9 477.9,314.4 480.5,317.4 495.2,321.4 489.9,333.1 493.8,338.8 511.7,332.4 510.8,320.9 510.2,320.2ZM545.5,370.7 517.8,367.7 511.3,371.8 511.0,384.3 509.2,386.1 507.2,400.4 511.7,402.5 526.9,400.6 527.8,399.2 546.0,399.4 547.3,398.5 554.1,397.8 559.3,383.6 546.9,378.5ZM508.6,448.3 496.9,446.4 494.6,449.8 494.6,462.8 495.6,463.8 497.3,478.6 494.7,481.9 484.5,481.6 479.5,473.1 463.1,482.7 460.1,479.5 447.6,480.4 445.3,493.2 436.5,493.1 433.0,497.4 417.0,494.6 415.9,496.9 417.3,508.2 421.6,511.7 430.2,514.0 432.3,512.8 444.4,513.4 448.4,509.8 450.9,498.0 464.8,494.1 465.4,494.4 479.4,493.9 482.6,497.7 476.8,515.9 496.5,511.9 497.4,512.7 511.0,513.1 511.5,493.4 512.0,493.0 529.3,497.9 531.0,481.4 541.7,481.7 545.5,484.6 559.1,477.3 564.6,483.0 561.8,494.0 573.9,501.1 580.8,494.0 578.4,481.3 579.0,480.5 576.8,462.7 576.0,462.3 561.4,463.0 557.6,467.7 544.4,465.4 542.5,464.0 527.5,470.1 521.5,463.1 514.2,463.0ZM527.3,509.3 512.0,513.7 513.7,526.6 528.3,525.6 531.5,527.9 544.1,527.2 544.6,526.4 544.5,516.3ZM510.6,573.5 496.2,577.4 500.0,592.1 498.0,595.7 502.6,608.5 512.3,609.9 515.6,607.9 522.4,607.8 527.8,603.5 527.6,592.0 530.9,588.1 544.7,597.4 551.1,592.7 542.7,574.8 532.3,578.9 524.6,574.8 514.7,576.3ZM482.8,579.5 466.5,574.7 464.4,592.6 463.7,593.2 463.0,606.0 462.4,606.9 448.4,606.2 443.5,610.1 444.9,622.0 448.3,626.4 445.7,635.4 449.9,642.0 461.8,639.3 464.4,641.1 465.5,654.0 480.1,653.8 482.6,657.5 496.8,658.0 500.0,669.5 494.6,674.7 500.2,688.4 497.7,691.1 507.2,692.5 508.8,681.1 526.5,683.2 526.9,674.2 524.8,672.0 530.5,658.4 529.2,656.8 512.3,654.7 511.7,654.1 498.2,656.5 498.4,640.5 496.7,639.0 499.3,626.0 497.1,623.4 478.3,625.4 484.7,610.0 482.1,604.4 484.3,596.4 480.7,590.2ZM724.5,312.8 719.7,302.0 703.8,303.0 703.3,303.6 708.1,313.4 706.8,318.3 708.0,319.2 719.5,319.1 722.8,316.8ZM657.6,319.3 658.8,314.6 653.4,304.3 642.0,304.3 642.0,307.0 638.6,319.2 649.6,322.9 656.1,320.4ZM588.3,348.9 587.8,349.2 588.5,365.8 585.0,368.5 587.8,379.7 595.2,382.8 597.0,386.9 598.7,387.7 613.4,384.8 613.1,377.4 601.9,372.9 600.7,367.5 613.3,364.4 613.5,363.3 604.8,353.6 601.5,354.2 595.1,349.1ZM592.1,414.6 576.1,415.4 574.9,416.5 577.2,430.2 577.0,444.6 589.0,449.1 593.2,443.0 589.0,431.6 590.3,430.5ZM671.0,507.5 672.9,495.2 661.2,494.1 659.5,496.5 660.2,500.1 650.3,509.4 653.6,515.9 656.7,517.0 662.8,515.9 667.7,507.9ZM728.4,580.2 735.1,587.9 739.5,583.1 737.8,575.5 735.8,573.4 728.5,579.4ZM712.2,580.2 711.6,578.5 705.3,576.3 702.0,577.3 693.5,575.6 692.6,576.2 699.2,592.0 701.1,592.7 703.7,591.2ZM725.6,648.0 722.9,650.5 726.4,656.0 733.4,655.7 735.1,652.8 735.0,649.4ZM650.1,657.0 638.8,656.5 638.5,668.4 644.2,670.5ZM768.5,671.1 776.9,671.0 779.1,666.3 776.9,662.5 767.9,663.5 767.3,665.6ZM782.5,679.6 774.1,681.4 775.0,686.9 784.2,687.5 785.0,687.1 785.2,683.1ZM767.1,680.2 760.5,680.9 759.1,682.1 759.5,689.1 752.8,689.9 752.1,695.8 747.6,700.1 747.8,703.2 752.6,705.9 752.7,714.7 751.3,717.2 759.3,720.6 761.6,719.6 766.8,722.0 770.0,718.6 768.5,711.9 767.9,705.1 767.0,704.3 766.5,696.4 765.7,695.4 769.8,689.8 766.6,686.1ZM665.7,689.1 666.3,693.3 675.7,700.3 680.0,691.1 669.5,684.4 667.5,685.3ZM589.2,687.1 578.2,690.9 577.3,701.7 578.7,703.4 583.3,705.0 590.6,718.3 601.0,722.5 609.9,720.2 612.6,722.9 607.6,734.0 612.6,738.8 622.0,734.2 621.5,732.0 626.0,721.4 623.2,718.5 624.2,706.9 621.9,706.5 613.5,700.9 613.2,698.9 607.1,690.3 603.4,689.6 601.1,687.2 591.6,688.0ZM693.8,737.1 685.0,724.1 675.1,733.2 689.0,738.7ZM769.2,745.8 771.4,743.1 768.3,736.2 767.6,736.0 762.0,738.4 761.2,743.0 763.1,746.6ZM701.0,828.6 703.4,827.2 709.0,828.4 714.2,823.1 709.4,815.9 705.6,815.5 703.8,813.3 692.6,815.2 694.4,820.7ZM961.8,303.6 959.6,304.4 961.2,317.0 967.7,319.6 968.7,321.6 975.3,321.7 977.9,318.7 981.4,318.6 978.0,313.6 973.8,308.9 969.4,310.7 963.5,310.7ZM984.1,321.6 990.2,320.6 990.4,320.3 982.6,319.4ZM962.8,359.8 961.0,351.2 960.4,350.9 958.0,351.4 957.5,353.3 957.1,351.6 954.6,352.1 951.6,350.2 947.5,352.9 946.3,358.1 947.0,360.4 945.6,361.5 944.2,369.3 951.8,370.0 952.4,370.4 959.4,367.0 959.5,362.0ZM872.0,365.4 865.6,366.5 864.0,367.9 866.0,374.8 864.3,377.2 864.5,380.9 870.1,382.9 872.4,386.3 880.0,381.2 879.1,377.3 879.6,376.6 880.2,369.3 873.3,367.4ZM1089.5,371.4 1087.8,372.3 1088.1,376.4 1087.8,384.4 1104.4,382.2 1104.4,377.2 1106.3,374.6 1106.3,370.9ZM1087.0,385.2 1083.2,383.2 1084.4,386.0 1074.2,400.0 1079.4,399.0 1086.8,401.2 1090.8,392.3 1087.2,389.3ZM777.2,390.6 778.2,392.6 780.8,394.0 784.3,392.1 785.0,383.1 783.9,382.6 777.5,384.6ZM952.8,399.5 950.3,405.4 950.4,408.2 952.2,409.9 959.2,406.3 958.6,399.7ZM906.9,408.1 903.3,406.0 896.0,409.0 895.2,415.3 903.5,416.2ZM1079.0,415.7 1077.4,423.2 1079.6,425.0 1086.6,425.0 1088.0,429.6 1093.8,429.9 1096.8,435.0 1103.6,430.4 1103.4,426.8 1105.3,424.4 1100.5,415.6 1098.0,415.7 1095.7,417.8 1087.3,416.7 1085.9,415.1ZM1045.8,421.5 1045.4,421.4 1042.1,425.2 1045.3,424.4ZM1050.5,431.5 1053.0,431.4 1060.0,424.5 1053.8,421.4 1048.7,427.1 1049.6,430.5ZM806.8,463.6 805.8,465.1 806.8,471.4 814.2,472.0 817.2,464.6ZM840.1,482.5 840.8,486.9 849.8,487.9 849.4,479.8 847.9,478.8ZM825.5,502.3 825.8,502.6 824.7,512.3 831.9,512.0 832.6,511.6 831.8,503.5 834.8,501.3 834.3,497.0 833.2,495.0 826.6,495.0 825.9,496.0ZM839.2,503.1 840.8,505.8 847.8,504.7 848.3,497.6 847.4,496.7 843.2,496.6ZM958.5,502.0 951.1,502.8 950.1,504.0 953.0,510.4 959.8,511.2 960.7,506.9ZM1047.5,513.6 1047.2,518.5 1047.7,518.9 1055.8,520.9 1057.2,519.5 1057.0,510.7 1056.4,509.9ZM793.6,550.4 792.8,544.4 791.4,542.8 783.6,543.0 782.3,544.1 784.4,551.7 792.2,551.4ZM817.7,552.7 815.6,550.4 805.5,550.7 804.5,551.7 811.3,559.3 813.9,559.2 815.6,558.1ZM881.9,581.9 883.2,575.6 872.2,575.5 871.6,581.4 879.8,583.1ZM950.8,584.1 960.1,583.3 961.4,581.9 960.2,575.8 952.3,575.0 950.5,577.8ZM1024.8,592.3 1022.3,598.6 1025.3,603.9 1031.4,601.1 1030.9,591.9 1026.3,591.4ZM885.4,600.5 879.5,591.8 874.4,592.3 872.3,597.3 874.4,601.4 878.0,603.8ZM1009.0,617.3 1016.0,614.3 1016.2,607.5 1015.8,607.2 1008.4,607.0 1007.3,615.8ZM982.3,613.8 975.1,619.4 978.4,622.6 982.2,622.1 985.6,616.9ZM951.2,622.6 954.0,629.0 957.7,630.6 963.0,624.0 960.7,621.6 952.0,621.4ZM934.6,635.1 929.2,632.6 925.4,640.3 930.2,642.4 935.9,638.6ZM857.9,645.4 854.5,647.6 858.5,656.1 862.8,654.5 864.8,648.0ZM1096.7,657.8 1098.5,654.9 1098.9,648.1 1098.3,647.6 1090.7,650.0 1088.8,655.4ZM1046.1,665.9 1049.0,662.6 1049.4,659.4 1046.0,655.9 1041.3,655.3 1038.2,664.6 1038.9,665.1ZM920.6,689.7 927.7,687.1 928.9,680.3 927.1,678.9 922.4,679.1 917.7,687.9ZM1006.4,688.4 1009.1,691.2 1016.6,686.8 1012.2,679.9 1008.8,679.6 1006.7,681.7ZM1041.2,694.1 1047.7,694.0 1049.3,686.0 1049.0,685.6 1040.1,685.5 1039.4,687.0ZM1160.9,321.3 1166.5,320.0 1168.1,314.9 1169.7,313.0 1169.4,312.1 1147.6,317.1 1138.7,323.0 1131.9,335.3 1136.3,336.2 1136.9,335.8 1142.4,335.6 1144.8,334.0 1151.6,339.2 1152.3,338.5 1151.7,329.9 1153.4,329.0 1153.6,319.6 1158.5,320.0ZM1168.3,367.6 1168.1,367.3 1158.8,367.3 1157.8,366.7 1152.5,367.5 1151.4,368.9 1142.7,368.1 1136.8,369.8 1134.7,374.9 1135.9,376.3 1134.3,383.0 1138.5,386.1 1137.0,389.8 1132.5,392.0 1138.0,400.1 1141.9,399.2 1144.2,401.5 1148.8,402.1 1151.8,398.8 1158.0,398.7 1159.7,400.9 1166.8,401.3 1169.2,397.9 1167.5,386.0 1170.9,383.7 1169.9,378.5 1165.4,375.7ZM1151.9,432.3 1152.7,431.2 1149.9,425.1 1145.7,424.4 1142.9,432.8ZM1102.2,454.0 1105.8,456.9 1101.0,464.9 1110.5,464.3 1110.9,463.5 1121.8,465.1 1122.2,464.8 1118.5,457.0 1119.7,454.3 1118.7,448.9 1112.8,447.7 1111.8,446.7 1106.3,446.5 1102.7,450.2ZM1111.7,479.9 1104.7,476.8 1102.4,478.1 1103.8,487.9 1109.2,487.5 1111.6,494.3 1114.0,495.6 1118.2,495.0 1120.5,488.0 1110.1,486.5ZM1123.0,509.3 1121.7,505.2 1119.7,503.9 1114.4,505.0 1112.5,510.8 1118.4,514.4ZM1096.3,537.2 1105.5,535.7 1106.1,535.2 1104.7,529.7 1102.9,528.4 1095.7,528.6 1094.9,535.1ZM1150.5,574.1 1150.8,569.5 1143.4,566.4 1141.8,567.8 1142.6,576.6 1143.4,577.6ZM1119.2,581.8 1121.6,584.0 1118.5,591.2 1117.0,592.3 1120.0,600.6 1120.5,607.0 1127.3,607.1 1128.2,607.6 1133.5,607.4 1134.8,601.2 1137.3,598.3 1135.9,594.3 1137.9,590.2 1136.8,584.7 1134.0,583.1 1134.7,574.8 1126.7,574.2 1120.2,574.6ZM1151.4,583.9 1161.8,583.6 1159.7,576.1 1153.3,576.8ZM1110.5,814.5 1105.3,816.2 1102.9,823.2 1103.1,824.0 1110.9,829.0 1114.8,838.6 1118.8,838.4 1121.5,837.1 1122.8,831.4 1120.3,829.4 1120.7,823.3 1120.2,822.8 1118.0,815.3 1112.6,815.5ZM1218.5,255.3 1219.4,261.8 1215.3,263.6 1218.2,270.7 1217.7,278.6 1213.9,288.7 1214.9,289.8 1223.4,286.3 1225.4,288.3 1230.8,288.0 1232.6,282.1 1230.8,279.6 1231.1,273.1 1230.8,264.8 1234.7,262.8 1234.1,257.4 1229.6,254.2 1226.8,254.9 1226.3,255.4ZM1231.8,288.5 1230.9,296.9 1231.8,297.5 1232.6,305.8 1231.8,311.8 1232.5,313.4 1230.1,318.4 1233.3,322.1 1231.3,328.0 1232.4,329.4 1233.7,335.7 1235.4,335.9 1236.5,331.8 1241.6,326.4 1248.4,320.9 1247.0,319.5 1247.5,311.4 1248.7,305.1 1247.9,303.4 1249.2,296.4 1246.3,289.7 1239.0,289.1 1238.4,289.5ZM1216.4,322.0 1207.5,316.5 1206.2,317.8 1200.3,319.4 1198.7,321.6 1193.7,320.2 1191.2,317.4 1184.1,318.2 1183.7,318.6 1184.8,325.7 1182.9,333.5 1186.3,336.1 1185.4,342.7 1185.8,343.4 1182.9,349.6 1184.1,351.7 1182.6,359.3 1183.5,360.0 1185.1,369.1 1189.3,369.8 1190.4,370.7 1198.5,369.3 1198.9,368.6 1198.2,362.2 1202.1,358.7 1201.3,353.0 1209.1,351.6 1210.2,352.3 1215.7,351.1 1216.0,344.1 1216.5,343.5 1215.1,336.4 1214.3,327.1ZM1174.6,555.4 1174.9,560.9 1183.2,562.8 1185.5,559.0 1184.0,553.3 1181.6,551.7 1178.9,552.1Z" fill="#3f63ea"/>
<path fill-rule="evenodd" d="M288.2,316.0 272.8,317.6 271.3,320.6 260.6,320.1 255.8,328.1 249.5,336.2 257.5,336.0 257.5,353.5 269.5,350.9 274.1,346.7 275.2,336.1 284.6,335.0 290.4,330.7 290.7,321.5ZM287.6,379.8 290.6,365.7 287.6,361.3 274.3,364.6 271.2,367.4 260.5,366.2 255.7,372.9 257.8,382.9 273.1,383.9 275.1,382.0 286.1,381.1Z" fill="#2040c8"/>
<path fill-rule="evenodd" d="M378.6,223.5 383.3,227.5 386.3,237.4 382.6,243.3 384.0,256.7 397.3,254.1 399.5,238.6 404.0,236.0 403.2,226.1 398.6,222.3 397.5,214.6 383.0,211.0ZM428.4,225.0 431.4,241.9 433.8,243.8 443.8,239.7 445.3,225.2 432.2,222.4ZM483.0,232.5 483.7,239.1 484.8,240.5 478.9,256.8 467.2,254.4 464.2,256.5 463.8,273.6 462.3,275.5 463.0,286.8 462.6,287.3 448.8,290.0 447.8,288.6 447.9,267.7 447.4,266.9 431.0,271.7 419.7,272.3 414.1,257.3 412.6,256.1 405.2,257.4 399.3,270.3 398.5,270.9 401.0,288.5 382.7,283.9 382.0,284.6 380.9,301.0 379.5,302.6 370.6,304.2 367.6,307.6 365.3,320.4 366.3,321.9 366.3,335.2 368.8,338.6 382.5,340.0 387.6,332.7 400.2,333.0 402.5,321.4 415.3,319.1 419.4,322.1 427.3,320.0 433.5,324.0 438.4,336.0 431.7,341.8 417.5,330.5 410.4,336.3 416.7,351.7 413.5,354.6 412.2,366.4 419.0,371.7 417.7,385.5 429.2,386.1 433.0,382.5 446.6,382.1 442.6,399.8 446.0,403.0 461.4,397.7 466.9,405.2 481.6,396.6 481.9,397.0 482.8,415.0 494.5,414.6 496.3,413.5 500.2,402.3 497.3,399.6 495.9,384.7 493.8,382.6 499.9,368.8 499.4,368.0 480.3,368.3 478.5,365.4 462.8,367.1 461.7,383.2 447.0,381.8 444.8,366.1 432.4,365.0 426.8,350.8 429.9,347.4 447.1,356.5 453.0,349.7 461.8,351.1 462.4,351.7 479.9,355.4 482.1,353.0 475.4,335.5 470.7,334.5 465.1,321.7 460.0,319.4 455.2,320.0 448.2,314.3 444.2,302.7 444.8,302.0 463.6,305.2 465.8,303.2 479.2,306.3 476.5,286.9 479.4,285.0 480.3,269.2 480.8,268.4 498.3,275.1 499.4,276.3 509.9,273.3 518.5,289.3 516.1,291.5 496.5,291.1 495.4,297.8 511.1,309.5 515.2,305.0 527.7,306.6 532.3,301.7 539.5,301.5 545.1,307.3 558.8,300.3 562.3,304.8 561.8,319.7 571.1,321.8 573.8,333.4 572.7,335.4 575.1,350.0 573.5,364.5 563.9,367.7 558.9,364.3 558.5,353.2 543.2,351.6 541.3,354.3 547.4,366.8 545.1,370.9 546.5,378.8 559.1,384.0 562.3,382.6 573.8,387.3 574.8,388.2 576.2,393.7 580.8,398.1 575.9,415.7 591.6,415.0 589.9,430.6 598.6,429.0 604.1,435.2 611.3,428.7 605.8,419.6 613.3,415.5 615.0,415.0 627.8,416.0 629.1,417.2 622.2,429.2 620.7,429.7 618.3,432.1 628.1,446.1 628.0,447.8 628.6,448.2 644.4,446.8 645.4,445.3 646.6,445.0 657.9,447.3 659.7,452.1 671.7,448.9 670.9,435.5 674.7,436.2 687.8,427.4 687.3,426.1 690.2,415.3 700.3,417.1 701.4,416.6 706.9,424.0 701.2,431.6 702.8,434.0 703.8,438.7 701.9,444.3 712.6,447.6 715.7,446.3 718.4,446.5 721.7,444.3 728.9,452.4 735.8,447.1 737.5,448.7 747.6,449.5 748.5,448.0 758.6,447.5 760.4,445.3 766.8,447.8 765.2,454.6 767.5,456.1 769.9,462.9 775.1,462.5 776.8,463.6 782.7,463.4 784.3,458.6 790.4,455.7 793.0,457.0 791.5,465.4 798.3,465.0 799.4,472.5 805.5,472.7 807.2,471.4 806.2,465.0 800.0,463.0 799.3,456.2 800.4,455.1 806.0,455.7 811.0,447.7 807.7,445.6 799.6,449.9 799.0,448.9 793.0,446.7 789.5,449.7 785.1,448.0 782.7,456.1 776.7,451.5 774.0,448.0 769.3,446.6 769.8,440.0 777.1,440.2 777.8,441.1 783.7,443.0 784.7,442.2 784.7,433.5 783.4,432.3 784.5,426.3 790.0,425.3 793.3,431.5 797.1,431.2 800.4,440.2 801.2,440.6 804.2,440.2 807.6,436.5 808.5,431.9 813.3,430.9 818.6,435.4 824.1,432.6 824.6,431.3 821.2,426.0 810.2,421.3 810.1,417.0 806.8,414.4 801.9,416.9 800.4,422.8 792.7,420.4 792.3,419.1 793.7,416.5 798.3,414.0 798.7,409.5 802.1,407.9 802.2,399.7 808.5,399.7 811.2,392.1 809.6,390.3 801.0,393.6 801.1,398.8 792.0,400.2 791.4,399.6 791.2,392.2 784.1,391.6 780.9,393.5 778.6,392.3 777.4,390.3 769.3,392.1 767.9,378.7 768.3,378.2 767.8,370.4 760.1,369.4 759.3,368.4 761.3,362.1 767.9,362.4 769.6,369.0 773.5,369.5 776.5,366.4 775.1,361.4 784.3,358.8 782.7,353.8 776.8,352.1 773.4,359.9 770.0,359.9 767.3,351.6 768.1,350.9 768.1,345.2 767.0,343.4 767.3,336.9 765.9,336.0 760.3,337.0 758.9,335.9 753.5,337.5 750.0,334.3 752.9,329.1 751.7,327.3 743.8,326.9 744.8,319.0 735.6,318.8 733.9,320.8 726.8,320.1 722.6,316.4 719.4,318.6 708.1,318.8 707.0,318.1 701.5,319.6 700.3,323.6 705.8,333.7 701.8,335.7 692.9,337.3 690.6,332.7 684.2,332.7 675.6,336.9 672.9,333.0 676.8,325.4 676.9,324.1 669.0,320.7 665.3,321.8 657.4,319.0 649.6,322.3 639.1,318.8 642.5,307.1 642.4,304.6 653.3,304.7 659.0,299.3 660.4,299.0 666.3,308.8 673.1,309.4 676.3,308.1 677.1,306.1 689.4,301.7 694.8,307.6 704.0,303.5 719.7,302.5 723.3,299.6 730.4,306.6 733.5,306.2 738.3,299.5 743.4,304.5 750.9,303.2 750.5,296.5 754.7,294.3 755.0,287.7 751.0,284.7 745.5,289.6 736.6,283.4 735.7,284.5 728.0,290.1 722.4,284.6 717.5,285.0 715.6,280.8 721.1,270.9 726.9,274.7 734.0,271.6 735.5,267.3 737.7,264.9 745.4,265.5 749.1,271.0 750.5,270.8 755.1,263.6 750.7,258.4 694.1,256.6 643.1,253.4 587.2,248.0 538.7,241.6 538.4,242.0 542.4,254.1 528.9,260.6 524.8,254.4 514.6,252.5 511.2,241.5 513.9,238.9 526.8,240.4 527.0,239.9ZM676.2,284.4 669.2,276.9 669.7,275.2 675.0,270.0 685.8,276.1 689.2,284.8 685.5,289.8 676.5,286.4ZM595.6,382.5 588.2,379.4 585.6,368.7 589.0,365.9 588.3,349.4 595.0,349.6 601.3,354.7 604.6,354.0 613.0,363.6 612.9,363.9 600.2,367.3 601.5,373.3 612.6,377.7 613.0,384.4 598.8,387.2 597.4,386.6ZM626.6,369.0 622.8,354.6 627.9,355.2 637.6,349.7 642.7,351.5 643.2,352.2 656.8,350.5 657.7,351.9 650.3,365.8 652.1,375.1 660.8,378.2 661.8,381.4 658.7,387.6 649.1,386.3 646.3,381.1 639.3,379.4 634.8,383.5 627.7,382.0 624.1,371.0ZM591.4,309.2 590.6,307.2 594.7,301.3 588.8,287.0 605.6,286.8 607.9,285.8 609.7,287.6 606.1,303.4 610.6,307.9 614.0,307.6 618.3,303.9 622.0,303.5 624.3,304.1 628.0,314.3 627.9,315.2 620.5,319.2 619.7,321.7 604.9,318.9 603.3,322.2 611.0,333.1 608.2,337.4 602.8,337.8 593.5,330.6 590.7,330.5 588.0,321.8 590.7,316.7ZM639.7,430.1 641.2,414.8 639.3,412.6 641.9,403.6 645.3,401.6 653.5,400.5 658.9,412.6 658.1,415.5 654.3,416.3 651.5,419.2 650.9,421.0 655.8,431.1 653.8,433.8 652.0,434.3ZM721.5,422.9 721.8,416.8 728.2,416.1 733.0,411.5 735.1,412.7 735.7,413.9 742.3,417.5 742.8,422.0 750.2,424.5 751.3,427.7 758.2,425.8 762.0,430.3 767.4,430.3 768.5,431.9 767.4,436.1 761.8,438.6 759.5,441.8 753.6,439.2 752.8,432.7 750.8,430.4 743.7,432.6 737.2,427.4 734.2,427.2 728.3,433.0 717.2,427.5ZM748.4,408.8 743.9,406.4 742.6,402.1 737.8,397.5 735.9,397.4 733.4,384.6 734.3,383.9 742.7,385.5 748.6,379.2 750.2,379.9 752.3,382.2 750.7,393.4 759.2,392.0 760.6,393.7 768.0,394.6 769.0,396.9 767.9,399.0 767.7,406.4 765.3,408.2 768.3,415.4 768.4,422.5 767.6,423.5 760.9,421.4 759.2,417.9 756.6,415.8 753.2,416.2 749.4,413.1ZM744.2,370.4 750.7,365.4 754.7,368.4 748.1,377.4 744.6,373.8ZM704.7,394.7 699.6,389.9 699.0,386.6 692.8,381.4 688.7,381.6 686.1,377.9 689.8,365.7 705.6,375.6 704.3,384.2 712.1,386.7 716.1,383.6 722.1,392.6 718.7,397.6 717.0,398.3 715.1,400.7 714.4,400.8 704.9,395.9ZM777.7,422.7 776.8,422.1 775.5,414.4 777.1,412.6 783.2,418.0 781.0,422.5ZM289.3,241.3 287.0,244.7 284.4,253.2 284.8,257.1 289.6,256.2 291.5,258.6 302.0,259.6 307.1,256.3 301.7,240.9ZM350.6,300.7 335.5,303.3 336.1,315.7 349.7,317.5 350.9,301.4ZM548.8,336.3 541.1,318.4 530.7,321.0 530.7,336.6 544.0,339.9ZM319.2,330.3 315.6,333.8 305.0,336.4 301.9,347.7 303.0,348.9 306.0,364.1 317.2,365.7 317.6,366.3 315.1,382.0 334.3,381.7 336.0,367.7 337.3,366.4 336.2,350.8 335.1,349.3 336.0,337.6ZM383.4,419.9 369.6,411.7 363.0,418.3 368.2,430.2 366.4,433.8 365.2,445.6 367.3,447.5 364.7,466.0 368.2,469.1 381.8,461.7 381.3,450.1 384.4,447.9 384.2,432.1 381.0,428.5ZM543.5,414.2 539.5,416.9 548.8,433.0 546.0,447.7 558.7,451.5 561.4,463.5 576.1,462.8 573.8,447.9 577.5,444.5 577.8,430.3 575.4,416.4 561.9,412.7 558.9,415.4ZM336.8,430.6 319.5,428.0 315.0,432.6 320.4,445.3 320.0,445.9 318.1,463.0 323.2,466.7 332.3,463.9 335.6,466.1 351.4,465.8 351.7,452.1 356.9,446.9 347.1,434.5 338.3,433.3ZM287.7,451.3 302.0,445.5 302.8,436.2 291.0,432.4 288.0,434.1ZM497.2,446.6 494.9,436.3 479.6,432.1 472.9,448.7 475.8,451.7 478.0,467.2 459.6,465.5 459.8,479.8 462.9,483.2 479.7,473.6 479.7,468.9 495.0,463.0 495.1,450.0ZM288.9,464.7 284.3,479.8 285.2,481.3 303.0,480.2 303.4,479.4 301.2,465.8 291.0,463.1ZM338.1,479.5 332.8,483.5 335.3,496.6 333.9,498.4 335.0,511.1 350.9,508.8 352.5,494.3 351.2,492.5 351.7,483.1ZM401.6,484.4 397.1,496.0 385.7,494.1 384.7,495.2 367.3,497.4 366.9,498.0 368.3,507.8 366.0,510.7 365.5,523.2 368.7,525.4 382.3,525.0 385.2,529.7 400.7,529.6 404.5,524.9 412.1,526.3 422.0,511.5 417.7,507.9 416.4,496.9 417.4,494.8 417.3,486.2 412.8,482.4ZM450.6,497.6 447.9,509.6 444.2,512.9 432.3,512.3 430.0,513.7 428.8,529.4 433.5,533.7 445.7,531.2 449.2,527.1 458.7,527.8 462.0,531.6 479.2,527.0 480.4,528.3 495.2,525.3 497.7,512.5 496.7,511.5 477.3,515.3 483.1,497.7 479.6,493.4 465.4,493.9 464.8,493.6ZM546.1,542.1 544.1,526.8 531.6,527.4 528.4,525.1 513.7,526.3 512.2,529.9 516.3,541.8 496.4,545.8 494.5,543.6 481.4,541.5 476.1,546.2 477.8,557.9 477.0,559.4 484.4,577.8 482.3,579.6 480.1,590.2 483.7,596.5 481.6,604.4 484.1,610.0 477.7,625.4 478.3,626.1 497.0,623.9 498.8,626.2 496.2,639.1 497.9,640.6 497.9,657.0 511.8,654.4 514.3,640.6 514.2,628.1 530.9,624.3 531.4,623.8 522.4,607.3 515.5,607.4 512.2,609.4 502.9,608.1 498.6,595.6 500.5,592.1 496.7,577.7 510.8,573.8 510.5,563.2 507.5,559.2 517.8,543.3 521.6,544.6 525.5,542.2ZM628.9,508.7 621.8,515.9 612.0,510.6 608.0,524.3 609.9,525.7 610.9,527.0 607.6,541.5 607.0,542.3 606.6,544.0 607.1,545.1 610.2,548.7 614.1,549.4 624.7,541.8 628.8,542.7 623.9,557.7 625.6,561.5 624.1,562.7 620.8,577.7 610.4,577.4 609.8,577.7 605.7,576.6 601.7,578.9 588.8,576.0 585.5,578.1 589.8,590.3 596.0,590.8 600.4,594.7 603.8,594.1 607.1,594.9 615.8,590.2 618.9,591.7 622.1,595.5 634.4,590.7 638.2,592.7 651.3,591.5 656.8,605.2 643.3,606.7 641.7,605.7 630.2,608.1 627.7,608.1 626.3,609.3 622.2,619.5 622.3,620.3 620.5,623.2 620.4,629.6 628.3,635.4 630.0,635.4 635.3,642.0 643.7,643.0 646.3,640.3 645.7,633.3 652.5,625.5 660.3,634.7 660.3,635.3 654.9,641.3 658.1,650.9 657.5,654.4 670.3,655.8 672.3,658.5 683.8,656.2 685.5,656.9 691.9,666.7 690.2,672.4 691.1,674.8 703.8,671.6 703.8,666.2 701.4,662.4 702.1,657.4 703.4,656.6 706.6,649.2 701.8,641.5 708.8,637.3 709.3,635.2 699.5,627.1 698.5,627.4 692.1,620.8 692.1,619.5 698.4,612.5 693.9,606.6 691.9,606.1 688.6,593.1 684.8,590.8 693.5,576.1 702.0,577.8 705.2,576.8 711.6,579.0 718.0,571.2 720.2,558.7 721.1,557.7 721.5,553.5 720.1,551.2 722.8,542.1 722.8,540.0 720.0,535.4 718.9,528.8 728.6,530.7 732.1,529.1 733.9,524.0 734.8,523.5 743.7,531.5 748.8,526.7 748.9,525.1 741.4,520.0 735.6,522.0 733.9,509.9 734.2,509.1 735.1,508.8 739.7,504.0 734.1,493.4 734.5,491.6 735.8,491.0 740.8,492.6 744.7,499.5 750.4,496.2 757.5,495.1 758.5,497.0 767.7,497.4 768.1,496.6 766.2,489.8 759.1,489.3 761.5,480.9 759.1,478.3 759.5,474.8 760.5,473.5 767.0,474.2 769.8,471.1 767.7,464.7 761.3,463.9 759.7,465.0 752.6,463.2 752.6,461.3 745.9,453.7 738.7,459.9 738.0,461.5 734.8,462.0 732.9,461.6 727.4,464.7 716.8,459.6 713.9,463.5 712.6,464.5 699.7,462.1 698.7,462.8 687.8,463.8 685.1,462.6 682.3,462.7 674.4,466.3 670.8,465.2 670.2,465.5 652.1,462.8 651.2,463.8 637.2,460.1 636.1,460.5 635.4,470.3 643.9,474.0 644.1,477.6 637.9,483.7 645.5,493.3 645.5,493.9 659.7,496.8 661.4,494.6 672.4,495.6 670.6,507.1 667.4,507.5 662.5,515.4 656.7,516.5 653.9,515.6 650.8,509.2 648.5,508.1 637.9,515.5 634.8,511.2ZM669.3,625.8 673.4,609.5 678.2,606.7 684.1,609.4 684.5,614.0 679.1,623.6 682.3,627.9 675.9,641.2ZM660.8,573.2 660.3,573.7 646.2,576.7 642.6,574.7 640.3,559.2 642.7,558.2 650.4,563.1 654.6,562.4 656.1,560.3 666.8,558.2 669.3,559.7 668.2,567.4 678.0,574.3 676.8,576.7 675.1,577.8ZM669.4,524.5 678.7,517.5 679.0,514.9 689.1,512.4 693.3,514.7 699.2,511.0 702.3,510.7 706.0,518.1 701.2,526.7 691.3,531.6 689.6,531.1 686.6,525.6 684.8,525.0 672.6,531.8 669.0,529.9ZM650.8,535.1 658.1,544.2 654.2,547.8 651.2,548.0 642.8,542.2 644.5,537.2 638.1,529.2 642.5,523.4 644.7,523.4 652.0,530.7ZM545.3,514.7 544.1,516.4 544.2,526.6 561.8,526.1 564.3,528.7 576.7,527.2 576.9,511.8 574.7,510.1 563.2,512.8 559.7,510.7ZM638.7,656.0 629.1,653.2 627.0,653.7 626.1,658.6 620.5,666.3 620.7,668.5 624.5,673.3 618.8,683.7 618.9,684.9 606.7,690.6 612.7,699.2 613.1,701.3 621.7,706.9 623.7,707.1 622.7,718.6 625.5,721.4 621.0,732.0 621.7,734.2 624.3,735.4 623.7,744.5 630.6,741.6 638.1,744.1 641.9,744.5 643.7,735.4 635.7,723.8 638.5,719.1 640.6,718.0 652.9,724.7 645.9,734.1 655.3,737.4 657.5,736.2 666.6,736.6 658.6,746.9 653.8,747.3 653.2,748.3 662.3,760.2 669.3,756.3 674.3,755.8 686.1,766.9 689.0,765.4 683.9,752.5 685.1,750.5 684.5,747.8 689.3,738.4 675.5,733.0 674.0,733.4 673.2,721.2 663.1,718.3 667.7,709.7 675.8,718.0 685.2,716.4 686.9,718.3 688.1,718.4 697.4,724.3 701.7,722.9 705.5,718.6 713.2,722.6 716.5,721.3 719.5,715.3 722.9,714.3 727.1,724.7 728.0,724.9 735.2,717.9 735.2,714.7 724.2,712.8 721.0,701.6 722.2,700.8 729.7,704.5 734.7,703.4 735.1,699.0 737.5,696.8 747.1,699.7 747.8,700.4 752.6,696.0 753.2,690.0 749.0,686.0 747.6,686.0 743.9,688.8 739.1,689.4 736.6,687.3 729.8,689.4 722.1,683.5 720.0,684.9 719.1,686.6 715.7,689.2 713.6,695.4 717.3,701.4 713.2,705.2 703.2,704.0 702.9,698.1 703.8,696.9 705.3,687.7 703.4,683.2 700.8,682.9 691.1,692.8 690.4,692.9 687.5,700.6 676.2,701.4 675.7,699.9 666.5,692.9 658.8,702.5 654.1,702.6 651.8,700.3 651.6,699.2 657.1,689.7 666.0,689.5 667.9,685.6 669.6,684.8 675.4,678.1 674.7,670.6 670.6,667.5 668.3,667.7 658.5,675.9 653.3,671.3 645.3,671.3 644.1,677.4 650.9,684.1 644.4,689.6 636.8,688.1 636.1,687.0 636.1,686.0 631.7,673.7 635.2,669.9 638.9,668.4 639.3,656.7ZM635.4,695.2 640.0,703.3 639.5,704.4 627.1,707.7 624.1,706.8 625.5,702.5ZM572.8,717.3 576.1,720.1 579.2,733.1 584.7,746.3 590.5,751.4 588.4,735.9 589.8,735.1 592.8,718.9 590.9,717.9 583.7,704.7 578.9,703.0ZM667.4,768.0 672.6,781.5 676.3,781.7 682.2,785.7 687.7,786.5 692.1,784.1 692.1,783.4 683.6,771.9 684.1,768.2 672.8,766.3 672.0,767.3ZM701.3,828.2 694.8,820.4 694.4,820.4 694.7,821.5 699.6,830.4ZM736.1,607.2 735.0,607.0 726.8,611.9 726.4,615.9 722.5,622.3 730.1,625.0 736.9,622.5 737.2,620.5 736.6,618.9ZM750.5,608.9 743.9,609.1 744.4,616.9 751.1,620.8 752.5,619.1 758.2,617.2 759.0,609.4 752.8,607.2ZM748.5,653.2 753.2,647.0 752.0,640.5 749.7,639.2 744.6,641.6 742.2,647.6 747.3,653.2ZM734.3,795.3 733.5,794.5 730.0,793.1 722.5,793.5 719.4,796.8 719.0,798.2 719.6,799.0 720.4,811.0 727.9,807.7 733.6,812.0 737.2,807.7 734.1,796.4ZM720.9,818.4 719.8,822.8 720.7,830.7 730.5,830.6 732.4,828.8 739.3,829.2 737.3,821.2 738.3,816.2 733.6,813.5 730.4,816.7ZM789.5,250.3 784.1,249.0 784.0,260.5 785.4,262.1 792.2,263.0 792.5,262.4ZM776.6,270.7 775.2,271.9 768.5,273.0 767.2,276.9 768.9,280.2 776.7,282.2 776.3,284.9 774.1,286.9 768.0,286.4 766.2,288.0 767.9,294.0 770.1,295.5 770.3,302.8 774.2,303.6 776.1,305.6 783.4,305.4 785.2,302.9 784.7,296.9 782.3,295.3 782.7,289.4 784.3,287.7 790.5,286.8 791.8,287.9 797.4,288.1 799.0,286.2 808.4,287.6 809.3,288.4 812.9,288.2 814.5,286.9 814.6,278.2 816.5,275.7 816.9,274.0 816.5,273.2 818.7,267.3 815.8,267.1 809.1,268.8 809.0,269.8 804.8,272.5 800.8,272.9 799.9,266.1 792.7,263.7 791.3,271.3 784.2,271.6ZM759.3,411.4 764.4,407.9 759.7,401.1 753.7,402.1 752.6,404.9ZM767.6,482.9 768.3,486.5 777.4,488.2 774.8,478.1 769.3,479.6ZM783.2,512.7 782.0,510.6 774.3,509.1 773.2,510.0 769.0,509.9 765.9,511.8 760.4,509.8 758.1,511.7 760.1,520.4 766.4,518.7 768.6,520.1 769.3,525.7 764.9,528.8 766.5,536.1 765.9,536.8 761.7,536.8 757.4,533.6 753.1,536.1 752.0,537.6 753.1,552.6 751.2,558.4 760.4,558.7 762.1,560.9 766.4,562.2 769.3,558.8 776.8,560.9 778.0,559.5 783.4,558.9 784.8,551.5 782.8,544.3 783.8,543.5 791.2,543.3 792.6,544.7 799.9,541.8 800.9,552.5 799.9,553.3 799.2,561.3 807.9,562.6 811.5,559.2 805.1,551.8 805.8,551.0 807.7,544.2 814.4,543.5 814.2,537.2 807.8,535.3 810.9,528.0 807.1,524.9 801.0,528.0 800.2,527.7 797.9,522.0 801.5,519.1 800.3,511.3 799.3,510.7 791.6,513.7 791.5,519.6 792.0,520.4 790.8,526.4 784.7,528.0 783.9,521.4 780.6,518.9ZM799.2,536.7 802.4,533.8 806.9,535.7 805.6,541.5 800.2,541.4ZM775.2,535.0 775.0,528.0 775.6,527.6 784.1,528.9 784.4,533.7 783.1,535.0ZM751.6,578.6 761.2,574.7 759.8,569.3 758.4,567.8 754.0,566.5 749.0,572.0 749.1,576.6ZM768.0,584.3 775.9,581.5 777.0,578.5 775.8,574.7 765.1,577.2ZM784.9,576.0 782.3,578.2 785.0,583.4 782.5,587.3 783.5,589.9 801.4,592.9 799.2,584.6 798.5,584.0 798.3,577.3 802.1,575.8 800.6,567.1 799.5,565.6 792.2,570.5 793.7,576.0 791.2,578.0ZM790.6,599.3 783.6,600.3 782.6,601.7 782.3,605.9 784.1,608.6 791.7,610.5 792.4,609.5 800.2,606.5 801.3,615.1 799.8,615.9 798.3,624.4 794.0,624.5 791.3,623.2 785.3,625.8 783.6,630.2 775.9,630.5 776.1,623.8 768.6,623.7 769.0,631.0 774.0,632.1 774.9,637.5 767.2,640.6 767.8,646.4 766.8,647.1 767.4,658.3 774.7,654.8 778.1,657.2 776.5,662.7 778.8,666.5 782.6,666.1 785.7,662.1 792.1,662.2 792.8,657.5 798.1,654.8 800.3,647.6 795.2,646.7 791.2,639.2 791.6,638.6 799.4,640.2 801.0,643.2 808.4,638.2 810.5,641.6 814.8,641.8 817.2,647.8 813.7,650.0 813.5,653.7 818.8,658.0 821.9,657.2 824.3,658.8 833.3,655.8 845.5,655.8 846.1,664.7 840.3,664.8 839.3,665.4 832.9,661.9 831.5,663.4 831.0,671.1 831.6,671.6 837.0,670.2 841.7,675.1 847.2,672.2 848.5,673.3 850.6,678.1 848.5,681.1 840.9,677.4 838.7,679.5 840.1,686.1 839.6,686.7 839.0,696.9 831.7,695.3 830.5,695.9 829.6,704.1 822.9,703.3 821.8,702.0 817.2,702.6 814.2,696.4 817.6,693.6 823.5,696.9 826.3,695.8 825.1,688.4 832.0,688.4 832.7,687.4 830.3,680.3 824.2,680.8 821.3,673.2 818.3,672.0 816.1,673.1 812.3,679.3 814.0,680.8 816.9,687.9 808.5,687.6 807.8,687.2 802.0,689.1 800.4,694.8 801.5,696.1 807.5,698.7 807.5,701.3 805.2,705.7 801.3,705.4 799.9,703.6 793.3,701.4 790.5,704.2 785.6,702.5 782.7,703.7 781.0,709.8 785.2,713.3 791.8,710.5 797.5,710.2 800.1,713.4 798.0,719.8 798.7,720.8 797.9,728.1 799.6,730.0 808.8,726.9 806.4,720.3 808.8,716.6 808.5,712.3 814.7,709.8 819.9,712.9 813.5,718.7 815.3,722.3 813.7,727.5 815.1,729.0 822.9,727.3 824.4,728.8 824.1,734.4 830.8,736.2 831.3,737.3 837.4,739.3 840.8,735.8 845.9,738.8 850.5,734.4 845.9,729.4 848.1,726.5 847.5,721.5 838.9,720.5 838.4,719.7 840.7,713.2 839.9,700.8 848.0,706.0 848.6,705.6 854.7,705.3 858.0,702.6 862.5,702.5 863.5,703.6 870.6,703.6 872.2,712.1 879.6,711.3 882.4,713.5 888.7,711.9 889.2,711.3 888.8,705.2 895.1,703.1 895.7,695.4 902.9,696.3 904.0,702.4 902.5,704.1 896.2,704.2 894.9,710.9 896.8,712.1 896.3,720.2 901.9,720.9 904.7,718.0 911.9,719.1 913.3,712.6 910.4,710.1 910.4,704.3 911.5,703.6 912.4,694.9 903.3,695.9 904.7,688.7 912.0,686.3 914.2,688.2 918.1,688.1 922.9,679.2 921.2,677.9 914.2,677.3 912.7,672.1 919.2,668.4 920.0,669.4 927.2,673.0 926.8,679.3 928.6,680.6 934.0,680.5 935.7,688.3 933.8,690.3 929.3,689.4 926.1,695.3 928.0,698.9 927.6,701.8 936.8,704.6 938.0,703.5 942.4,702.3 944.3,696.1 943.7,694.4 944.5,689.4 945.3,688.4 941.5,680.7 934.4,680.1 936.5,673.5 938.6,671.9 942.6,672.5 943.6,671.6 950.9,671.6 952.9,674.6 959.6,668.9 961.1,671.4 959.7,679.9 960.8,680.8 965.7,679.8 969.8,673.1 968.4,665.9 975.6,664.7 977.2,662.6 976.4,658.8 967.5,656.2 967.2,656.7 967.2,664.9 959.8,666.3 958.4,664.6 959.5,658.8 957.9,656.9 952.0,655.4 951.5,654.9 943.0,655.2 942.0,656.4 937.7,655.5 933.7,658.1 936.0,664.1 929.9,666.1 927.0,663.6 930.1,656.8 928.7,653.5 929.1,651.0 930.7,649.4 930.3,642.1 926.0,640.1 929.6,632.9 929.2,632.2 921.2,631.6 919.2,634.4 912.4,632.5 906.4,632.8 897.6,629.8 897.8,626.8 894.5,623.4 888.7,624.7 880.2,624.3 880.1,618.3 874.3,616.4 871.9,618.1 870.2,624.3 871.0,626.2 869.0,632.3 871.1,634.7 871.1,636.2 866.3,641.7 862.5,638.3 858.1,638.2 849.7,640.1 848.0,638.0 841.2,638.3 840.5,638.9 832.7,637.9 831.5,634.6 833.3,630.3 832.6,625.6 833.7,623.9 829.7,616.4 832.1,611.8 832.1,610.7 824.1,608.3 824.1,600.8 823.5,600.4 817.8,600.9 815.3,606.0 814.4,606.4 809.9,605.2 807.6,606.8 801.4,604.9 800.7,601.0 799.8,599.7ZM789.8,650.0 789.8,653.6 782.5,655.1 782.9,647.0 784.3,645.8ZM909.7,661.3 910.7,658.1 918.4,658.3 920.3,663.9 911.9,663.7ZM824.1,623.1 825.1,624.7 822.0,630.3 816.9,629.0 815.6,624.1 816.8,622.4ZM879.0,704.8 871.9,702.5 874.0,696.1 880.0,696.1ZM880.9,687.1 878.8,680.3 881.0,678.4 880.9,673.3 873.5,671.1 874.9,663.6 878.7,663.5 883.1,657.3 886.5,657.3 887.9,658.4 894.4,657.6 896.6,662.0 898.4,663.3 901.8,662.2 905.7,663.9 906.1,670.9 904.1,672.1 898.0,669.5 895.0,670.9 893.7,677.5 895.1,678.6 896.3,686.4 895.6,686.9 887.9,684.8 887.1,695.3 886.0,696.0 881.5,695.2 880.6,687.6ZM858.7,655.8 855.1,647.7 858.0,645.9 864.2,648.2 862.3,654.4 865.6,657.5 863.1,665.3 856.6,662.2 856.4,658.9ZM904.1,640.4 911.5,642.4 912.1,643.1 912.6,647.7 910.4,649.2 905.4,647.9 902.7,649.2 901.8,654.4 896.1,654.6 894.9,650.0 898.0,646.8 898.1,640.8 903.4,639.8ZM776.8,670.6 768.6,670.7 767.5,672.6 768.1,678.9 766.6,680.2 766.1,686.2 769.4,690.0 774.3,689.2 775.5,686.7 774.5,681.7 782.8,679.9 783.6,674.7 778.0,672.1ZM751.9,770.6 753.2,774.5 750.7,779.7 750.5,782.3 751.6,783.7 751.6,790.3 756.8,786.3 767.1,781.7 766.9,778.0 769.6,774.7 767.3,766.8 762.6,767.9 758.7,766.5ZM805.3,301.5 799.5,303.4 799.9,310.4 806.5,310.3 807.6,305.0ZM805.7,318.5 809.1,321.3 815.2,319.5 816.8,311.9 807.7,311.4ZM832.8,368.4 831.2,370.1 830.3,373.0 833.4,377.3 833.4,382.7 834.0,383.3 837.7,384.2 839.6,386.4 846.4,386.0 848.8,381.5 847.4,377.7 849.0,375.0 846.3,367.6 842.8,366.6 839.1,369.3ZM814.8,402.6 815.7,407.8 816.1,414.7 818.7,417.0 833.8,416.6 834.1,416.3 831.3,407.8 832.8,406.0 840.6,410.6 843.3,408.1 849.4,409.1 850.0,408.7 855.0,408.5 857.3,400.9 850.1,399.4 848.5,397.1 840.2,399.4 833.3,403.1 829.0,399.0 824.8,398.2 817.4,399.7ZM815.5,444.2 812.3,447.6 816.0,453.8 812.6,458.3 816.7,464.8 813.8,471.8 815.0,477.1 808.6,482.3 809.9,486.4 808.2,489.7 800.5,486.5 798.5,489.8 801.6,496.0 806.4,495.1 808.3,493.5 815.9,496.5 816.4,502.5 816.8,502.9 825.8,502.4 826.4,496.1 826.9,495.4 832.9,495.4 834.1,497.3 842.0,495.3 839.9,487.9 835.0,489.2 832.1,487.4 831.7,481.5 829.5,479.7 834.3,473.3 838.5,473.4 838.6,480.1 840.2,482.9 847.7,479.3 848.9,480.0 849.3,487.8 849.8,488.2 847.1,496.9 848.0,498.0 856.4,498.9 857.2,496.6 852.8,488.3 855.2,486.8 856.6,479.1 863.2,479.2 863.9,487.2 863.3,488.0 863.4,492.7 866.7,496.0 869.5,496.5 872.5,494.8 879.9,496.5 880.7,496.0 881.8,489.0 882.5,487.6 879.8,480.6 874.5,479.9 874.0,479.3 873.9,471.7 880.8,469.6 881.3,464.8 888.1,462.1 888.0,456.2 896.0,456.5 896.3,455.9 894.6,449.5 888.5,449.8 887.4,455.2 878.9,454.9 883.0,447.2 881.0,446.3 873.3,446.9 873.5,454.6 870.5,456.6 871.3,464.1 870.4,465.4 864.0,465.4 864.6,473.7 857.0,470.1 854.1,472.6 847.5,470.1 845.1,471.9 839.2,472.7 838.0,464.2 841.2,461.3 842.2,456.7 848.3,456.1 851.2,463.0 855.4,463.3 858.1,465.6 863.1,464.6 864.9,457.2 858.1,455.5 856.9,454.0 849.8,454.3 849.5,447.7 841.8,447.9 841.3,455.6 833.3,453.5 832.6,448.5 830.9,447.2 823.5,448.4ZM825.2,488.6 819.2,488.9 817.6,486.6 819.2,480.5 824.8,479.6ZM839.6,502.8 834.5,501.0 831.3,503.3 832.1,511.3 831.7,511.7 831.7,519.3 825.1,519.5 823.4,522.3 817.0,518.0 814.3,519.7 816.4,528.2 821.8,527.1 823.3,526.0 831.9,528.8 832.3,528.4 832.3,519.9 840.4,519.8 839.9,525.6 848.3,528.0 845.3,535.4 848.5,537.5 848.2,543.6 849.5,546.0 846.1,551.3 849.6,554.6 849.8,560.5 849.2,560.9 845.9,567.5 841.4,567.3 839.7,569.3 838.7,573.6 842.1,577.4 836.4,584.0 833.9,583.3 831.7,576.7 830.0,568.6 836.9,559.8 833.3,558.3 824.5,562.8 824.0,563.6 815.4,557.7 813.6,558.9 815.9,575.9 814.5,577.9 815.4,582.7 816.9,583.8 821.8,583.2 826.2,587.2 832.6,584.7 832.0,593.6 831.0,594.5 830.4,600.0 833.0,602.2 832.9,609.5 841.6,609.2 847.6,611.3 848.0,613.0 855.3,616.8 858.5,613.5 864.4,614.7 867.8,608.1 866.6,606.6 864.9,601.1 866.3,599.3 872.7,597.5 874.9,592.5 871.9,588.9 864.0,591.0 861.4,585.3 863.4,582.7 860.9,577.0 862.5,574.7 872.3,575.9 885.6,576.4 888.8,575.1 894.9,579.0 895.0,580.9 892.4,584.3 897.0,590.6 904.4,589.6 904.4,584.6 911.5,582.6 912.7,577.8 910.2,575.8 911.9,570.1 914.6,568.7 914.9,561.6 917.9,560.4 919.9,558.2 928.3,559.7 929.3,561.9 927.4,568.2 928.0,569.4 927.6,573.4 934.9,578.7 936.3,577.5 935.1,570.4 937.7,569.0 934.7,562.1 937.3,561.0 943.1,561.3 943.9,561.8 950.8,559.3 951.8,558.5 958.9,563.5 961.5,560.3 961.6,552.5 960.6,552.0 958.4,544.2 961.7,541.9 962.7,536.4 965.8,535.8 970.0,543.9 974.3,542.7 977.9,546.4 985.0,544.0 992.6,543.2 994.7,550.0 998.3,550.8 1001.4,553.1 1008.1,549.4 1007.3,545.3 1002.3,543.2 1000.9,541.4 993.8,541.7 993.5,537.5 991.3,534.7 992.1,528.3 1000.6,529.6 999.1,520.7 1001.9,518.8 1007.8,521.9 1007.3,526.5 1009.8,529.0 1007.7,536.6 1008.5,537.5 1007.4,544.8 1016.7,542.3 1018.3,544.2 1019.3,544.4 1023.3,550.8 1030.7,550.2 1032.5,553.9 1039.2,553.1 1042.1,550.1 1039.7,543.9 1045.5,542.2 1047.6,544.7 1048.7,551.3 1055.3,551.4 1056.9,543.8 1065.1,546.5 1067.5,543.8 1071.1,542.8 1071.2,537.2 1069.0,534.0 1062.8,535.3 1063.4,527.5 1062.2,526.5 1056.8,525.1 1054.9,528.1 1047.9,528.3 1045.9,529.7 1042.4,528.4 1040.7,526.6 1041.5,520.1 1039.7,518.9 1037.9,511.1 1032.3,509.4 1030.0,513.0 1023.1,513.9 1020.2,511.9 1027.3,504.2 1025.2,502.0 1015.9,502.4 1015.3,499.4 1018.6,494.7 1022.7,494.2 1023.6,489.0 1022.2,486.6 1017.4,486.1 1017.6,480.7 1014.1,477.9 1010.1,479.0 1008.2,481.4 1008.0,484.0 1011.4,488.4 1008.0,494.2 1008.8,496.2 1004.0,504.2 1005.7,505.4 1014.6,505.3 1016.0,510.3 1009.7,513.2 1006.9,511.7 1001.6,514.1 998.8,511.6 992.3,513.5 992.4,520.0 991.4,521.2 982.9,518.9 985.0,511.4 983.8,509.7 974.6,512.7 977.2,519.5 974.4,522.9 975.5,527.3 974.8,528.0 974.4,536.8 967.6,534.5 968.8,530.3 966.1,526.7 953.2,527.1 952.0,525.8 944.2,527.1 944.0,533.9 941.2,536.0 942.5,543.2 944.5,544.4 951.6,540.7 954.6,543.7 950.9,551.5 945.7,549.0 941.4,552.9 935.4,551.5 929.9,555.1 925.8,550.0 920.4,553.6 919.5,555.2 912.6,550.2 910.1,552.3 914.0,561.1 904.6,561.7 902.7,566.6 902.9,573.4 896.9,575.5 894.2,568.7 891.5,568.2 888.9,565.7 888.3,561.1 885.8,559.2 882.0,559.0 878.4,553.8 872.7,552.8 872.1,545.3 872.5,544.8 887.1,545.5 889.1,544.1 894.5,545.8 894.0,551.5 894.9,552.8 904.5,553.3 903.7,546.5 905.8,544.4 905.3,536.8 902.2,535.7 902.8,527.3 896.5,525.6 895.0,526.7 889.5,528.2 879.7,525.1 877.7,528.9 874.6,529.8 871.2,535.6 866.8,534.1 866.1,528.5 864.1,525.9 856.2,529.4 850.1,526.9 850.1,520.2 847.5,518.6 848.5,511.7 850.6,509.9 849.1,505.4 847.6,504.2 841.0,505.3ZM863.7,553.3 871.3,554.1 870.5,558.5 864.9,560.7 862.1,558.7ZM862.7,545.1 861.7,550.5 855.9,552.1 854.3,546.1 855.6,536.7 856.6,536.1 861.2,538.0 863.2,544.5ZM844.6,592.4 845.2,591.8 854.1,591.1 855.4,594.7 854.5,599.0 848.8,599.9ZM1024.0,521.0 1025.4,522.0 1026.2,526.5 1024.5,527.7 1017.9,527.1 1017.7,522.1ZM1032.4,545.4 1022.0,542.8 1026.1,537.3 1028.6,537.3 1032.8,533.3 1037.3,536.4 1038.2,543.2ZM863.4,315.5 861.6,321.8 862.3,322.6 872.0,321.5 873.1,320.1 878.2,320.2 881.0,322.7 886.3,321.6 889.2,323.2 894.9,319.8 896.0,320.8 896.3,327.7 895.0,328.6 895.2,336.8 889.4,333.8 885.9,336.5 880.6,336.7 879.5,343.2 881.2,345.1 881.0,349.4 886.3,354.3 890.1,352.2 895.4,354.2 894.2,360.2 895.7,366.1 896.8,367.3 900.0,367.5 902.9,370.2 910.7,368.0 911.3,366.7 909.6,363.1 915.3,357.4 911.8,352.4 905.0,355.8 902.5,353.8 904.2,344.6 908.7,344.8 912.3,337.9 918.3,338.0 919.3,339.0 926.5,337.0 928.4,332.3 928.8,332.1 928.1,329.4 928.4,329.0 928.0,320.9 920.2,319.7 919.5,320.2 922.1,328.6 919.5,330.8 913.1,328.2 914.1,320.6 911.9,319.2 905.5,320.6 902.5,312.4 897.5,311.4 896.2,306.4 888.9,305.3 878.0,310.3 868.0,316.7ZM858.8,321.3 855.0,318.2 848.3,322.9 848.3,326.6 848.8,327.3 847.7,333.9 850.1,337.0 848.7,342.9 855.8,345.5 856.8,352.3 862.1,351.3 864.7,345.4 858.7,342.3 858.3,336.8 864.7,335.2 865.2,329.9 862.6,326.1 856.4,328.9 853.5,327.3ZM861.8,383.7 856.8,384.5 854.3,391.4 858.8,399.6 862.7,400.2 866.6,392.1ZM870.7,391.8 871.1,399.6 873.4,401.8 879.6,400.5 876.7,391.6 872.6,390.5ZM856.3,432.6 856.3,422.0 846.4,424.5 850.7,431.9ZM874.5,601.0 868.4,608.2 873.7,611.2 877.9,608.0 878.2,603.4ZM871.9,732.7 863.9,734.6 862.6,736.4 864.5,740.7 862.8,743.6 863.5,749.8 870.1,750.5 871.3,751.8 879.1,752.3 881.2,738.5 877.8,734.2 872.8,733.7ZM914.1,308.1 911.0,305.3 906.2,305.0 905.5,305.4 905.1,310.7 911.7,312.3 914.1,310.2ZM880.6,390.0 886.9,393.9 889.5,385.9 885.9,383.4 882.7,384.0ZM895.1,482.4 895.0,486.0 894.6,486.6 895.2,496.0 896.8,504.1 897.4,504.6 901.7,504.3 906.9,511.5 910.7,510.5 911.1,510.9 913.5,521.0 912.9,521.6 912.7,529.8 919.8,530.7 921.5,529.2 927.5,529.3 927.4,522.9 929.8,521.0 934.8,523.0 934.8,526.6 928.3,530.1 928.8,534.2 921.1,534.9 919.0,538.6 911.6,536.0 910.8,544.2 913.7,547.0 918.8,545.3 921.0,543.5 924.7,544.2 929.2,534.8 933.5,536.6 937.6,534.9 937.4,529.1 944.0,527.1 941.9,520.5 942.4,520.0 944.2,511.3 943.6,510.5 935.1,512.6 929.3,513.1 928.1,512.2 929.9,503.9 936.1,505.2 939.2,503.6 935.0,494.5 929.1,496.4 928.0,500.8 921.1,502.8 920.8,495.7 929.0,496.4 926.0,489.0 930.1,485.2 929.4,480.9 934.9,478.8 938.5,480.4 935.3,487.8 936.5,490.3 935.8,493.4 943.9,497.2 944.6,496.9 945.9,489.1 944.8,488.2 944.6,481.8 953.2,481.8 952.7,473.8 949.7,471.9 944.2,472.1 943.7,471.6 935.9,469.6 935.4,465.3 928.9,462.0 925.8,464.5 929.0,471.6 927.2,473.5 927.5,479.5 922.6,480.4 919.2,477.2 914.7,478.5 913.4,481.5 905.8,481.2 903.8,476.9 897.9,478.0ZM911.8,499.6 912.5,501.5 911.3,503.4 903.1,503.3 905.5,496.6 903.8,494.1 906.0,489.5 911.5,490.0ZM920.1,590.1 918.7,591.2 918.2,600.8 911.2,600.9 911.4,608.0 910.0,610.2 913.6,616.0 911.6,617.5 908.7,622.9 913.2,626.2 918.5,624.5 921.4,627.3 929.9,623.6 926.1,616.4 927.3,615.4 928.9,606.3 933.9,606.7 934.6,608.2 942.2,610.1 943.7,608.4 941.6,600.2 944.0,598.6 944.9,595.0 942.1,591.1 943.7,584.4 943.1,583.8 934.0,584.5 933.2,583.6 930.6,583.6 924.7,591.5ZM952.1,306.9 944.2,307.9 943.8,309.8 942.2,311.1 942.2,319.1 943.0,326.8 953.2,323.3 961.2,322.2 960.7,318.1 961.6,316.8 960.9,311.6 953.1,311.2ZM977.4,332.4 974.8,334.2 977.1,343.2 976.7,343.7 976.3,351.1 975.9,351.7 976.2,358.3 977.3,359.7 974.9,367.3 961.4,368.4 959.3,366.5 952.1,370.2 952.9,374.3 960.7,375.6 960.9,382.9 967.7,382.6 969.6,385.4 974.1,386.4 976.8,383.0 976.8,377.6 977.7,376.9 978.1,370.5 984.1,368.4 982.5,360.7 983.7,360.1 990.5,359.5 990.6,354.7 993.6,351.5 997.7,350.6 994.5,338.3 987.0,334.6 983.3,339.0ZM952.8,374.4 944.6,376.5 945.0,383.1 953.2,382.6ZM951.9,427.5 949.4,430.3 945.4,430.3 941.6,433.9 947.1,440.0 945.5,441.9 945.2,448.3 943.6,450.9 944.0,455.1 942.2,461.9 943.8,464.6 952.1,463.3 952.6,463.6 959.7,464.7 960.6,463.5 968.7,462.1 975.7,464.3 976.1,455.7 968.7,454.6 968.1,453.9 969.0,447.1 968.1,445.0 969.2,441.1 970.6,439.9 969.6,431.2 967.3,429.7 960.0,434.0 959.2,432.7ZM962.8,455.0 960.5,458.0 954.0,454.7 955.0,451.1 958.6,449.4ZM985.1,442.4 981.5,440.9 978.5,442.4 977.9,446.4 981.6,450.6 980.6,454.6 985.0,458.4 990.7,455.2 994.7,463.5 1005.6,464.5 1008.0,462.8 1007.1,454.9 1009.2,453.2 1009.7,450.6 1006.6,446.7 999.9,449.1 997.2,447.3 993.6,448.1 991.5,450.4 985.6,448.2ZM977.8,477.7 982.4,479.8 983.6,479.2 985.9,471.8 989.4,471.3 991.1,464.9 984.7,460.8 983.2,462.4 985.3,471.2 975.6,469.9ZM974.5,577.8 977.0,583.7 975.5,585.5 976.1,592.9 981.9,593.3 984.5,591.5 991.3,593.0 993.5,591.4 992.0,583.3 992.2,582.6 990.1,577.8 993.1,573.0 992.5,569.0 990.6,567.7 987.8,567.3 984.9,564.6 976.5,567.4 975.9,568.6 978.3,573.4ZM980.5,631.5 978.0,630.7 975.3,631.8 973.7,639.7 976.3,642.3 975.0,649.0 975.6,649.6 976.6,658.7 982.4,655.8 983.5,653.9 982.0,650.3 983.5,648.1 992.8,649.6 994.2,647.9 991.4,640.0 990.8,639.6 984.3,640.4ZM975.3,673.9 976.3,678.8 967.6,681.3 969.8,686.5 966.9,689.0 969.7,696.0 968.0,698.0 961.5,696.8 959.0,702.7 960.2,705.5 968.4,703.1 969.1,701.8 975.3,703.5 984.0,702.5 985.1,704.8 989.2,705.2 993.5,702.9 993.1,696.8 992.4,696.2 984.3,697.3 984.0,696.9 985.5,690.0 992.4,689.8 994.3,688.3 992.4,679.9 998.8,679.9 1001.9,672.8 1001.2,672.0 994.5,671.3 993.0,673.1 984.1,669.9 983.3,670.7 975.9,673.1ZM976.7,679.2 984.4,681.6 983.4,687.1 975.9,688.1 974.9,687.0ZM960.0,687.9 949.3,687.3 953.0,696.2 960.2,694.4 960.8,689.1ZM999.6,431.1 993.2,432.8 990.7,435.4 991.0,437.7 999.4,441.1 999.9,440.9 1001.4,433.7ZM1023.7,444.6 1020.6,447.8 1024.2,454.1 1026.3,455.3 1020.5,463.8 1023.7,467.0 1030.5,464.1 1031.8,464.8 1038.8,462.5 1041.2,465.1 1046.2,464.2 1047.6,456.8 1055.4,455.8 1054.1,448.5 1047.2,447.7 1045.7,449.7 1044.9,454.4 1038.3,454.8 1037.6,447.7 1030.1,447.4ZM1047.3,465.2 1049.4,471.7 1048.0,473.4 1048.8,479.4 1040.0,480.4 1039.8,480.8 1042.8,487.0 1049.0,486.9 1049.5,480.2 1055.4,479.9 1056.8,481.6 1055.3,488.3 1050.4,487.9 1047.1,496.0 1049.1,498.3 1055.4,499.2 1056.5,502.7 1055.2,505.5 1056.0,510.1 1056.6,510.9 1064.0,511.3 1062.2,518.3 1065.6,520.1 1069.5,520.2 1071.1,518.5 1070.0,512.6 1071.9,511.3 1073.3,502.8 1071.6,501.3 1065.7,503.9 1064.5,503.2 1064.3,496.1 1057.5,495.0 1057.0,489.9 1064.2,488.3 1064.8,488.7 1073.6,488.3 1074.4,487.4 1080.6,486.9 1088.2,485.4 1088.9,481.2 1085.6,477.7 1080.2,476.7 1071.1,480.6 1070.1,480.1 1072.5,471.9 1070.8,470.3 1070.6,464.3 1062.9,463.6 1062.4,464.4 1062.5,472.9 1056.0,472.5 1054.7,471.6 1056.6,465.9 1054.2,462.7ZM1017.0,562.5 1024.1,560.1 1022.5,552.4 1015.6,553.9 1012.9,550.7 1010.0,550.4 1007.1,560.5 1001.7,559.8 1000.9,560.3 998.9,566.8 999.4,567.4 1008.7,570.0 1007.7,561.1 1015.2,560.9ZM984.0,554.5 984.2,560.1 993.1,559.5 993.8,559.0 992.0,552.7 986.6,552.4ZM1054.4,560.6 1046.1,558.3 1045.5,558.7 1046.0,566.0 1040.1,569.3 1041.5,574.1 1047.6,576.1 1049.0,574.9 1055.3,573.7 1057.0,569.5 1053.7,566.1ZM1039.8,569.0 1038.5,560.9 1032.1,558.5 1029.7,560.5 1025.8,560.6 1023.0,570.0 1024.5,570.9ZM1008.0,574.8 1002.1,576.1 1000.6,577.5 999.7,580.6 1000.9,583.0 998.0,591.7 999.5,593.0 1007.3,593.5 1007.8,593.1 1006.5,585.1 1009.8,582.5 1009.3,576.0ZM1057.0,577.4 1052.5,582.9 1055.5,586.3 1063.8,581.9 1063.7,578.8ZM1021.9,582.3 1017.9,583.1 1015.4,585.4 1014.6,590.4 1015.7,591.5 1024.9,592.8 1026.5,591.8 1023.4,583.9ZM1039.5,609.5 1033.9,608.0 1032.4,609.2 1030.5,615.2 1032.2,617.4 1039.9,617.6 1041.1,616.1ZM982.1,631.0 990.7,634.3 993.2,629.4 991.2,624.9 987.3,625.2ZM1047.6,647.5 1047.4,640.1 1041.5,640.7 1040.2,646.7 1032.3,645.2 1030.5,648.7 1033.5,654.7 1040.2,654.5 1041.1,647.8ZM1062.3,655.7 1062.4,646.4 1055.3,645.8 1052.5,648.7 1055.4,656.2ZM1022.4,654.3 1018.4,655.2 1016.6,657.7 1007.7,657.4 1006.6,663.7 1007.1,664.1 1016.2,664.8 1016.6,670.2 1009.1,670.3 1006.5,674.9 1008.8,680.1 1012.1,680.3 1016.5,677.1 1024.0,681.8 1023.6,685.4 1025.3,687.2 1024.0,697.1 1029.1,697.7 1032.5,695.3 1039.2,697.3 1041.6,693.9 1040.0,687.0 1040.5,685.9 1049.0,686.0 1049.4,679.0 1039.8,679.5 1039.0,680.2 1033.8,678.1 1033.8,674.0 1032.4,671.7 1024.6,671.5 1026.7,664.7 1025.3,663.5 1023.5,655.5ZM999.9,690.9 1006.8,688.6 1007.1,681.6 1001.2,681.8 997.7,688.9ZM1017.9,696.0 1017.7,687.1 1016.3,686.6 1008.9,690.8 1009.4,694.2 1016.4,696.6ZM1007.0,697.0 1000.0,694.6 998.7,696.4 999.2,702.6 1007.3,702.5ZM1064.0,705.7 1066.4,703.7 1070.7,703.3 1071.5,695.5 1057.1,695.0 1056.7,695.5 1056.9,701.7ZM1023.4,722.7 1026.4,718.5 1027.0,713.3 1023.4,711.6 1019.4,712.1 1017.3,717.2ZM1040.7,727.8 1040.4,729.1 1046.6,734.5 1047.7,734.2 1050.1,738.5 1054.0,739.5 1056.4,734.7 1053.9,728.3 1051.1,728.5 1048.6,730.4ZM1014.6,734.0 1013.7,735.8 1013.9,736.1 1016.8,734.1ZM1247.0,258.6 1240.6,252.0 1239.4,253.8 1233.6,257.3 1234.2,262.6 1230.3,264.6 1230.6,273.2 1230.3,279.8 1232.3,282.3 1238.0,280.8 1240.0,282.7 1238.9,289.5 1246.3,290.2 1248.0,287.5 1246.8,281.3 1247.8,280.0 1248.1,273.8 1245.5,271.7 1247.1,263.3 1246.3,262.0ZM1144.9,333.5 1142.3,335.1 1136.7,335.3 1136.0,335.9 1136.9,342.6 1137.7,343.7 1136.9,350.0 1138.2,351.9 1142.9,353.6 1144.7,355.3 1152.4,353.0 1153.6,351.6 1156.3,351.7 1159.8,354.3 1166.2,352.5 1166.4,345.5 1165.5,344.6 1168.1,336.8 1167.7,336.1 1159.9,333.9 1157.9,336.9 1151.5,338.6ZM1105.7,390.8 1104.8,382.3 1104.3,381.8 1096.0,382.6 1095.9,391.6 1090.3,392.2 1086.4,400.9 1086.2,407.4 1079.7,407.6 1080.2,399.1 1079.6,398.5 1074.3,399.6 1073.2,400.9 1071.5,405.2 1069.6,406.7 1072.4,414.8 1073.2,415.2 1078.3,415.4 1079.2,416.1 1085.7,415.6 1087.1,417.1 1095.8,418.3 1098.2,416.2 1100.5,416.1 1103.9,413.8 1104.1,408.0 1102.9,406.4 1105.6,400.3 1104.7,399.5 1097.0,400.7 1097.4,392.8 1102.5,392.6ZM1129.2,407.5 1127.6,409.2 1120.7,405.6 1118.5,408.3 1119.1,415.0 1120.9,416.0 1120.0,424.9 1120.9,425.6 1120.0,432.6 1122.1,434.7 1127.6,433.8 1129.2,431.4 1137.8,432.6 1139.1,423.8 1137.2,422.5 1134.7,415.8 1137.3,408.8 1135.7,406.8 1136.0,401.8 1128.6,398.8 1127.4,400.1ZM1080.0,424.8 1077.7,423.0 1072.8,424.9 1072.6,432.2 1078.3,434.2 1080.6,431.5ZM1103.1,450.2 1096.0,444.8 1093.4,449.0 1086.3,447.5 1085.2,449.4 1089.1,455.4 1086.8,457.1 1086.0,462.8 1090.3,465.3 1094.9,464.1 1095.7,463.5 1100.5,465.3 1101.3,464.9 1106.4,456.9 1102.6,453.8ZM1160.5,461.5 1157.6,464.5 1157.5,470.5 1154.6,470.6 1154.7,472.6 1153.6,480.1 1157.1,480.1 1159.5,478.0 1167.3,480.3 1169.6,477.9 1170.1,473.1 1167.2,468.9 1167.6,465.9 1166.7,464.6ZM1104.2,487.8 1102.8,478.1 1096.5,478.2 1096.2,486.1 1094.9,486.9 1089.4,486.3 1087.1,495.6 1082.9,495.7 1080.5,503.7 1078.6,504.8 1077.6,510.8 1079.3,513.6 1087.7,512.6 1085.8,506.7 1089.0,504.1 1094.7,505.6 1093.6,512.5 1095.9,514.6 1101.3,513.2 1105.2,509.8 1104.0,504.6 1096.7,503.4 1095.6,497.3 1102.1,494.9 1102.8,488.8ZM1176.8,495.8 1175.1,494.1 1168.5,497.7 1170.2,501.2 1167.2,506.0 1169.9,512.6 1171.5,512.4ZM1150.7,504.4 1153.1,502.4 1153.3,498.6 1152.8,497.9 1148.6,495.7 1150.8,496.2 1150.9,495.7 1144.4,494.2 1143.6,495.3 1135.7,495.9 1133.6,497.4 1134.2,501.9 1136.1,503.3 1135.9,509.9 1136.9,511.0 1143.5,510.7 1145.0,504.3ZM1126.2,496.6 1120.0,496.8 1119.4,504.2 1121.3,505.6 1127.5,502.6ZM1086.6,518.7 1077.9,519.4 1079.1,526.1 1084.7,527.0 1088.1,521.9ZM1137.0,530.7 1128.9,529.6 1129.4,520.0 1128.0,519.0 1120.8,520.1 1119.6,527.6 1112.5,526.8 1111.2,525.9 1104.3,529.8 1105.8,535.2 1109.4,536.4 1111.7,543.4 1117.9,541.6 1121.4,545.5 1126.2,543.8 1128.6,545.6 1128.3,550.9 1127.7,551.5 1119.5,551.3 1118.9,551.8 1120.0,557.7 1125.4,560.3 1128.9,558.3 1134.4,559.7 1136.8,558.2 1143.7,561.3 1145.5,560.1 1151.7,561.1 1153.0,559.7 1154.7,552.5 1159.2,553.2 1161.6,552.2 1166.6,551.6 1167.3,551.1 1174.8,555.7 1179.1,552.6 1181.8,552.0 1182.7,547.4 1180.0,543.8 1168.6,545.5 1168.0,544.4 1163.4,541.8 1159.0,544.6 1154.8,544.6 1152.7,540.9 1145.0,545.0 1143.7,543.3 1135.9,541.8 1135.6,538.7 1137.1,536.2ZM1126.5,537.2 1119.7,535.8 1118.9,534.5 1120.3,528.7 1128.3,530.1ZM1183.5,553.3 1185.0,558.9 1182.9,562.6 1183.8,565.6 1185.7,566.0 1187.3,564.9 1188.1,561.1 1185.8,552.5ZM1168.4,575.5 1175.8,574.4 1176.5,571.3 1174.1,567.8 1167.2,568.4 1167.3,574.6ZM1103.1,578.3 1101.8,576.3 1096.3,574.4 1093.6,576.6 1087.9,576.9 1085.6,582.8 1084.8,583.6 1088.0,592.5 1088.6,592.8 1094.2,591.2 1097.1,593.6 1102.8,591.6 1103.9,587.0 1101.2,583.5ZM1136.4,584.8 1137.5,590.4 1143.2,590.6 1146.0,582.6 1143.5,580.5ZM1118.9,591.6 1122.1,583.8 1119.5,581.4 1111.9,582.4 1110.9,585.0 1114.0,591.9 1117.2,592.6ZM1110.8,599.3 1112.0,593.8 1103.4,592.2 1104.7,600.8ZM1089.1,640.6 1087.7,638.3 1079.6,637.9 1079.0,638.8 1081.8,647.0 1080.0,649.2 1080.2,653.4 1087.6,656.8 1089.3,655.5 1091.1,650.2 1086.9,646.1ZM1112.1,768.1 1113.6,776.3 1120.6,774.2 1120.6,773.5 1117.2,767.6ZM1086.0,774.2 1088.2,779.4 1096.0,777.6 1098.4,783.1 1104.9,783.9 1112.1,782.8 1113.3,776.5 1104.9,772.4 1103.5,773.5 1097.1,775.2 1094.9,770.4 1089.1,768.8 1086.2,770.6ZM1110.5,800.8 1111.0,806.6 1110.2,807.4 1102.8,805.3 1100.9,808.1 1102.1,814.1 1105.5,816.6 1110.5,815.0 1112.5,816.0 1117.9,815.7 1118.5,815.2 1120.7,809.1 1118.9,805.7 1120.3,799.6 1113.4,798.8Z" fill="url(#h)"/>
<path d="M285.0,256.8 L293.1,258.5 L297.5,262.4 L301.9,266.3 L302.1,271.7 L301.6,276.8 L308.6,281.5 L316.3,280.2 L325.0,282.1 L329.6,285.4 L338.9,285.0 L345.7,286.8 L357.2,284.8 L364.1,286.3 L368.0,285.4 L376.9,287.6 L385.8,289.7 L394.8,291.8 L403.7,293.8 M418.3,219.6 L415.4,232.2 L412.6,244.8 L409.8,257.4 L406.9,270.1 L404.1,282.7 L404.7,289.6 L403.7,293.8 M403.7,293.8 L405.6,299.4 L408.3,307.8 L402.0,315.5 L399.1,320.1 L390.2,331.1 L391.7,336.7 L393.8,339.8 L389.7,347.2 L386.3,362.4 L382.9,377.6 L379.5,392.8 M249.7,358.4 L259.1,361.2 L268.6,364.0 L278.0,366.8 L287.5,369.5 L296.9,372.1 L306.4,374.7 L315.9,377.2 L325.4,379.7 L336.2,382.5 L347.0,385.1 L357.8,387.8 L368.6,390.3 L379.5,392.8 L390.4,395.2 L401.4,397.5 L412.3,399.8 L423.3,402.1 L434.3,404.2 L445.3,406.3 L456.3,408.3 L467.3,410.2 L478.4,412.1 L489.4,413.9 M325.4,379.7 L322.2,392.1 L319.0,404.5 L315.8,416.9 L312.6,429.3 L309.4,441.7 L306.2,454.1 L314.1,466.7 L322.2,479.2 L330.3,491.8 L338.6,504.3 L347.7,518.6 L356.9,532.9 L366.2,547.2 L377.3,562.6 L388.5,577.9 M388.5,577.9 L390.7,573.1 L390.5,562.6 L391.5,550.3 L399.7,550.6 L406.1,550.0 M434.3,404.2 L431.9,416.7 L429.4,429.3 L427.0,441.9 L424.6,454.4 L422.1,467.0 L419.7,479.6 L417.2,492.2 L414.8,504.7 L412.4,517.3 L409.9,529.9 M409.9,529.9 L406.1,550.0 M388.5,577.9 L388.8,583.2 L391.0,590.1 L394.8,597.4 L388.1,602.6 L384.3,611.0 L379.1,617.8 L381.0,627.8 L375.3,634.7 M409.9,529.9 L419.8,531.8 L429.7,533.6 L439.5,535.4 L449.4,537.1 L459.3,538.7 L469.2,540.3 L479.2,541.9 L489.1,543.4 L499.0,544.8 L508.9,546.2 M508.9,546.2 L510.7,533.6 L512.5,520.9 L514.2,508.2 L516.0,495.5 L517.7,482.8 L519.5,470.1 L521.2,457.4 L523.0,444.7 M523.0,444.7 L513.6,443.4 L504.2,442.0 L494.8,440.6 L485.4,439.1 L487.4,426.5 L489.4,413.9 M489.4,413.9 L491.4,401.3 L493.5,388.7 L495.5,376.1 L497.5,363.5 L499.5,350.9 L501.5,338.4 M499.5,350.9 L494.1,344.4 L485.4,347.3 L477.4,346.0 L467.8,348.7 L464.3,342.4 L458.4,334.8 L458.7,328.4 L453.6,311.9 L445.7,315.6 L442.9,311.2 L448.1,303.1 L449.6,286.6 L442.8,276.3 L433.8,264.1 L432.8,256.2 L429.3,247.7 L431.9,235.4 L434.6,223.2 M501.5,338.4 L510.5,339.8 L519.5,341.2 L528.5,342.5 L537.5,343.7 L546.6,345.0 L555.6,346.1 L565.6,347.4 L575.7,348.6 L585.7,349.7 L595.8,350.7 L605.8,351.7 L615.9,352.7 L626.0,353.6 M634.5,252.9 L633.4,265.7 L632.4,278.5 L631.3,291.3 L630.2,304.1 L629.1,316.9 L628.0,329.8 L626.0,353.6 M626.0,353.6 L624.9,366.2 L623.8,378.9 L622.7,391.6 L621.7,404.3 L620.6,417.1 L619.5,429.8 L618.4,442.5 L617.3,455.3 M523.0,444.7 L532.6,446.0 L542.2,447.3 L551.8,448.5 L561.4,449.6 L571.0,450.7 L582.6,452.0 L594.2,453.1 L605.8,454.2 L617.3,455.3 M617.3,455.3 L626.8,456.0 L636.3,456.8 L645.8,457.4 L655.2,458.1 L654.4,470.8 L653.6,483.6 M653.6,483.6 L652.8,496.4 L652.0,509.2 L651.2,522.0 L650.3,534.8 L649.5,547.6 L648.7,560.3 M508.9,546.2 L519.1,547.6 L529.2,548.9 L539.3,550.2 L549.4,551.4 L559.6,552.6 L569.7,553.7 L579.7,554.7 L589.7,555.7 L599.7,556.6 L609.7,557.4 L619.7,558.3 L629.7,559.0 L648.7,560.3 L659.0,561.0 L669.3,561.5 L679.5,562.1 L689.8,562.5 L699.8,562.9 L709.9,563.3 L719.9,563.5 L729.9,563.8 L740.0,564.0 L750.0,564.1 L760.0,564.2 L770.1,564.2 L783.9,564.2 L797.8,564.0 M508.9,546.2 L507.1,559.3 L505.3,572.4 L503.5,585.5 L501.7,598.6 L499.9,611.6 L498.1,624.7 L496.3,637.7 L494.5,650.8 L492.7,663.8 L490.9,676.8 L489.1,689.8 M629.7,559.0 L628.7,571.8 L627.6,584.6 L626.5,597.3 L625.4,610.1 L624.3,622.8 L623.2,635.6 L622.2,648.3 L621.1,661.0 L620.0,673.8 L619.0,686.5 M619.0,686.5 L608.1,685.6 L597.3,684.7 L586.4,683.8 L575.6,682.8 L564.7,681.7 L553.9,680.6 L543.1,679.4 L543.2,682.0 L544.4,685.2 M628.7,571.8 L638.8,572.5 L648.9,573.2 L659.0,573.8 L669.1,574.4 L679.2,574.9 L689.3,575.3 M689.3,575.3 L688.6,591.9 L687.9,608.4 L687.2,624.9 M687.2,624.9 L693.2,629.3 L700.5,628.8 L703.5,633.5 L708.6,634.9 L715.9,636.4 L721.1,637.8 L726.3,637.2 L729.3,643.1 L735.6,641.2 L741.8,644.6 L746.0,647.8 L751.3,642.7 L757.5,645.3 L762.7,648.7 L771.1,644.3 L779.5,643.5 L785.7,642.2 L794.2,647.8 L802.0,650.0 M798.0,576.8 L800.1,590.9 L802.3,604.9 L802.2,619.9 L802.1,634.9 L802.0,650.0 M802.0,650.0 L811.2,652.1 L811.5,665.6 M811.5,665.6 L811.8,678.6 L812.0,691.6 L816.3,701.8 L822.0,713.1 L820.2,727.1 L819.3,734.8 L820.5,741.1 L817.4,750.1 M811.5,665.6 L823.6,665.4 L835.8,665.2 L847.9,664.8 L860.0,664.4 L872.2,664.0 M872.2,664.0 L875.2,674.0 L878.8,681.5 L873.9,689.4 L869.0,699.9 L865.2,710.3 L864.8,715.4 L878.5,714.7 L892.2,713.9 L905.9,713.1 L903.9,722.1 L908.8,729.5 L910.2,733.7 M930.7,609.1 L932.9,611.2 L932.7,624.1 L932.5,636.9 L932.2,649.8 L932.0,662.6 L931.7,675.4 L931.4,688.2 L932.9,701.2 L934.4,714.1 L936.0,726.9 M955.4,727.6 L957.0,721.8 L952.0,709.5 L963.2,708.5 L974.4,707.4 L985.7,706.2 L996.9,705.0 L1008.1,703.8 M984.1,604.2 L987.7,617.4 L991.4,630.6 L995.1,643.7 L998.8,656.8 L1004.5,669.5 L1003.9,686.3 L1006.6,696.3 L1008.1,703.8 M1008.1,703.8 L1011.7,710.5 L1025.3,709.7 L1038.9,708.9 L1052.4,707.9 L1069.4,706.8 L1073.8,711.2 L1073.1,701.6 L1080.0,700.6 L1085.5,700.5 M887.5,611.9 L898.3,611.3 L909.1,610.6 L919.9,609.9 L930.7,609.1 L941.4,608.2 L952.0,607.3 L962.7,606.3 L973.4,605.3 L984.1,604.2 L997.2,602.6 L1010.2,600.9 L1022.7,599.2 L1035.1,597.4 M901.3,572.5 L915.7,571.5 L930.1,570.3 L929.7,565.7 L940.2,565.2 L950.6,564.5 L961.0,563.8 L971.4,563.1 L983.1,562.0 L994.7,560.9 L1006.4,559.6 L1018.0,558.4 L1028.0,557.1 L1038.0,555.8 L1048.0,554.4 L1058.0,553.0 M1010.2,600.9 L1014.8,592.3 L1017.2,586.9 L1025.1,584.0 L1032.5,577.9 L1035.9,572.8 L1041.6,569.4 L1045.4,567.5 L1052.4,566.0 L1054.7,561.0 L1058.0,553.0 M1058.0,553.0 L1068.6,551.5 L1079.2,550.1 L1089.8,548.5 L1100.4,546.9 L1110.9,545.3 L1121.5,543.5 L1132.0,541.5 L1142.5,539.4 L1153.0,537.2 L1163.5,535.0 L1173.9,532.8 M1035.1,597.4 L1048.7,590.3 L1062.5,588.9 L1076.3,587.4 L1076.7,590.0 L1079.0,588.3 L1083.2,594.9 L1094.5,593.3 L1105.9,591.6 L1119.4,601.6 L1133.1,611.4 M1035.1,597.4 L1031.1,605.7 L1037.9,609.9 L1043.7,614.3 L1050.2,622.4 L1058.5,629.0 L1064.9,633.2 L1073.1,641.0 L1077.2,646.8 L1079.2,653.0 L1086.0,662.2 L1092.0,665.7 M907.8,559.2 L912.1,553.8 L920.3,555.7 L920.6,548.0 L927.4,544.8 L927.7,537.1 L936.3,532.5 L946.5,535.4 L952.0,530.3 L958.1,531.0 L961.4,525.0 L967.7,528.2 L970.9,520.9 L976.6,509.2 L981.4,508.6 L987.6,497.6 L993.8,496.8 L999.5,503.1 L1010.8,506.3 L1018.8,506.6 L1024.2,502.5 L1033.0,509.2 M1033.0,509.2 L1034.0,516.1 L1039.0,523.1 L1048.0,529.9 M1048.0,529.9 L1042.2,538.2 L1035.6,544.3 L1028.1,553.1 L1018.0,558.4 M1033.0,509.2 L1040.2,503.6 L1040.0,495.8 L1046.4,492.3 L1047.4,485.6 L1052.7,481.7 L1059.6,476.0 L1061.7,470.4 L1062.0,460.0 L1063.0,450.8 L1064.3,446.9 M1064.3,446.9 L1068.1,470.2 L1078.0,468.5 L1087.9,466.8 M1087.9,466.8 L1090.2,479.9 L1096.3,471.8 L1102.1,466.6 L1109.0,465.6 L1112.5,463.4 L1119.9,464.0 L1123.4,470.7 M1123.4,470.7 L1122.2,475.9 L1111.0,471.0 L1109.0,481.7 L1103.9,488.7 L1099.0,497.9 L1089.7,496.4 L1085.2,510.7 L1080.8,520.5 L1081.7,525.6 L1071.5,531.2 L1064.6,535.1 L1055.7,537.5 L1048.0,529.9 M1123.4,470.7 L1128.6,474.9 L1133.9,476.9 L1138.5,478.6 L1139.7,483.6 L1136.0,492.2 L1140.8,491.2 M1087.9,466.8 L1099.7,464.7 L1111.5,462.5 L1123.3,460.2 L1135.1,457.9 L1146.5,455.5 L1158.0,453.1 M1158.0,453.1 L1162.2,468.7 L1166.5,484.3 L1179.1,481.8 M1158.0,453.1 L1160.9,449.3 L1164.5,449.6 M1163.1,454.6 L1164.5,449.6 L1169.7,444.5 L1174.9,436.8 L1167.9,431.8 L1163.7,426.2 L1163.9,418.3 L1169.3,407.9 M1169.3,407.9 L1186.1,413.1 L1185.3,422.5 M1169.3,407.9 L1161.4,403.1 L1153.7,394.3 L1143.9,396.5 L1134.0,398.5 L1124.2,400.6 L1114.3,402.6 L1103.9,404.6 L1093.5,406.5 L1083.1,408.4 L1072.7,410.2 L1071.5,403.4 M1058.7,412.6 L1061.5,429.8 L1064.3,446.9 M1190.7,412.0 L1192.0,405.2 L1187.2,385.3 M1187.2,385.3 L1187.1,366.9 L1182.3,345.7 L1177.3,336.5 L1174.7,324.0 L1172.1,311.5 M1201.8,363.8 L1199.7,354.6 L1198.4,344.4 L1200.5,332.0 L1199.2,323.1 L1205.8,316.2 L1204.3,303.4 M1187.1,366.9 L1201.8,363.8 L1212.3,361.5 L1222.8,359.1 L1226.3,354.2 L1230.6,352.5 M1187.2,385.3 L1197.5,383.0 L1207.9,380.7 L1218.2,378.3 L1225.8,376.3 L1226.6,379.3 L1231.2,383.3 L1232.7,389.0 M1218.2,378.3 L1221.8,395.8 M1231.1,347.1 L1223.9,340.3 L1219.6,325.7 L1213.4,306.2 L1209.6,294.1 M979.7,430.7 L981.3,444.1 L982.9,457.4 L984.5,470.8 L986.1,484.2 L987.6,497.6 M979.7,430.7 L992.5,429.2 L1005.3,427.5 M940.8,434.1 L950.5,433.2 L960.2,432.1 L969.9,431.1 L979.7,430.0 M929.3,436.7 L930.6,451.7 L931.9,466.7 L933.2,481.7 L934.5,496.7 L932.7,503.2 L936.5,511.9 L932.2,520.0 L928.7,525.4 L927.7,537.1 M869.7,420.6 L880.2,420.0 L890.7,419.3 L901.3,418.5 L911.8,417.7 L922.3,416.8 M828.5,365.0 L836.8,369.8 L844.2,374.6 L853.8,384.4 L857.6,395.7 L858.5,405.8 L861.7,414.6 L869.7,420.6 L874.4,425.4 L879.4,430.2 L878.9,438.0 L876.5,444.5 L865.4,448.2 L863.8,454.2 L866.1,461.7 L863.6,468.3 L858.2,475.0 L856.7,485.3 L859.0,491.6 L866.1,498.9 L872.2,503.7 L873.6,511.3 L883.5,513.3 L883.9,519.0 L881.6,530.1 L891.0,538.5 L899.9,552.1 L901.3,557.1 L907.8,559.2 M907.8,559.2 L907.2,569.5 L901.3,572.5 L900.7,579.0 L898.1,585.6 L894.7,596.1 L891.4,607.8 L887.5,611.9 L882.8,619.9 L876.3,634.3 L872.8,647.3 L872.2,664.0 M898.1,585.6 L884.5,586.4 L888.2,573.4 L876.9,574.0 L865.7,574.6 L854.4,575.2 L843.1,575.6 L831.8,576.0 L820.5,576.3 L809.2,576.6 L798.0,576.8 M798.0,576.8 L797.8,564.0 L797.6,550.5 L797.5,537.1 L797.3,523.6 L797.2,510.2 L791.4,502.6 L787.4,491.1 L783.6,487.3 M783.6,487.3 L778.7,479.6 L774.8,472.5 M774.8,472.5 L784.4,472.4 L794.0,472.2 L803.6,472.0 L813.2,471.7 L822.8,471.4 L832.4,471.0 L842.0,470.6 L851.6,470.1 L858.2,475.0 M774.8,472.5 L772.9,456.6 L768.2,443.8 L763.5,431.0 L761.7,423.4 M761.7,423.4 L759.0,414.4 L761.8,397.8 M761.8,397.8 L771.4,397.9 L781.0,397.8 L790.6,397.7 L800.2,397.6 L809.7,397.4 L819.3,397.2 L828.9,396.9 L838.5,396.5 L848.0,396.1 L857.6,395.7 M828.5,365.0 L827.1,351.1 L825.0,341.0 L835.3,330.5 L834.7,316.6 L838.1,313.9 M761.8,397.8 L761.9,382.6 L762.0,367.3 L762.0,352.0 L755.0,344.4 L760.0,335.8 M760.0,335.8 L756.1,311.5 L753.2,297.6 L750.4,283.7 L749.9,271.1 L749.3,258.5 M628.0,329.8 L636.9,330.5 L645.8,331.2 L654.8,331.9 L663.7,332.5 L672.6,333.0 L681.5,333.5 L690.5,333.9 L699.4,334.3 L709.5,334.7 L719.6,335.1 L729.7,335.3 L739.8,335.6 L749.9,335.7 L760.0,335.8 M621.7,404.3 L631.0,405.1 L640.4,405.8 L649.7,406.5 L659.1,407.1 L668.5,407.7 L677.8,408.2 L687.0,408.7 L696.3,409.1 L705.5,409.4 L714.7,409.7 L723.9,410.0 L734.9,415.4 L747.9,414.3 L757.1,420.8 L761.7,423.4 M653.6,483.6 L663.3,484.2 L673.1,484.8 L682.8,485.3 L692.6,485.7 L702.3,486.1 L712.0,486.4 L721.8,486.7 L731.5,486.9 L741.9,487.1 L752.3,487.2 L762.7,487.3 L773.2,487.3 L783.6,487.3 M868.0,317.0 L879.8,322.2 L891.6,327.4 L900.5,328.8 L909.5,330.3 L915.2,344.6 L920.2,350.5" fill="none" stroke="#fff" stroke-width="2.5" stroke-linejoin="round" stroke-linecap="round"/>
<path d="M361.7,710.1 L362.6,714.5 L363.4,719.0 L364.3,723.5 L365.2,728.0 L366.1,732.5 L367.0,737.0 L367.9,741.5 L368.8,746.0 L369.7,750.5 L370.6,755.1 L371.5,759.6 L372.4,764.1 L373.3,768.7 L374.2,773.2 L375.1,777.8 L376.0,782.3 L376.9,786.8 L377.8,791.4 L380.5,791.4 L383.2,791.5 L385.9,791.5 L389.2,794.4 L392.5,797.3 L395.8,800.1 L397.6,796.9 L399.3,793.7 L402.5,790.0 L406.3,793.5 L409.2,795.4 L412.2,797.3 L415.2,799.2 L419.7,803.8 L424.2,808.4 L427.4,809.7 L430.5,810.9 L433.7,812.1 L436.9,813.3 L439.9,819.8 L438.2,825.6 L432.8,824.2 L430.0,820.5 L425.2,817.5 L420.2,811.6 L415.1,806.7 L409.5,802.8 L405.4,802.1 L403.4,803.6 L401.4,805.1 L397.9,803.7 L394.5,802.3 L391.3,800.6 L388.1,798.9 L384.9,797.2 L382.0,796.6 L379.2,796.0 L376.3,795.3 L373.7,795.6 L371.0,795.8 L368.3,796.0 L365.7,796.2 L363.2,794.8 L360.8,793.3 L357.6,792.4 L354.4,791.5 L351.7,790.6 L349.1,789.8 L346.1,795.0 L347.7,798.9 L345.6,799.7 L343.4,800.4 L341.2,801.2 L338.5,803.6 L335.6,806.0 L333.2,806.3 L330.7,806.6 L332.8,802.1 L331.7,797.6 L330.7,793.2 L332.8,791.7 L334.9,790.1 L336.9,788.5 L334.4,789.5 L331.9,790.5 L329.9,794.1 L327.8,797.8 L325.6,801.4 L323.4,805.0 L320.3,809.0 L323.5,812.1 L319.8,815.7 L317.4,817.9 L315.0,820.1 L312.3,822.7 L309.6,825.3 L306.6,827.4 L303.6,829.4 L301.0,832.0 L298.4,834.5 L294.8,836.0 L291.1,837.4 L288.5,838.5 L285.9,839.6 L283.2,840.7 L280.5,841.7 L277.8,842.7 L275.1,843.7 L271.9,844.0 L268.8,844.3 L265.6,844.5 L265.6,841.3 L269.0,840.8 L272.3,840.3 L275.6,839.7 L278.5,837.7 L281.2,835.7 L284.0,833.6 L286.6,832.7 L289.2,831.8 L291.7,830.8 L294.3,829.1 L296.9,827.4 L299.5,825.6 L302.0,823.1 L304.6,820.6 L305.0,816.1 L305.5,811.7 L303.0,810.4 L300.6,809.2 L298.3,809.6 L295.9,810.0 L293.6,810.4 L290.8,810.1 L288.1,809.9 L285.3,809.5 L285.9,804.7 L285.8,797.9 L283.6,798.1 L281.3,798.3 L279.0,798.4 L277.2,795.4 L275.5,792.4 L273.4,786.7 L270.9,780.8 L273.8,776.8 L276.5,772.7 L278.0,768.9 L280.7,768.7 L283.4,768.4 L285.4,768.0 L287.5,767.6 L289.5,767.2 L291.6,766.8 L294.6,764.0 L294.4,758.6 L292.5,758.4 L290.6,758.1 L288.7,757.9 L286.8,757.6 L284.9,757.4 L283.0,757.1 L281.2,756.8 L279.0,756.0 L276.8,755.2 L274.6,754.3 L272.9,751.0 L271.3,747.6 L269.8,744.3 L272.0,743.1 L274.2,741.9 L276.4,740.7 L278.3,740.3 L280.2,739.9 L282.1,739.5 L284.0,739.1 L285.8,738.7 L286.3,742.8 L288.6,743.1 L290.8,743.4 L293.1,743.7 L294.6,740.3 L292.9,738.1 L291.2,735.9 L289.3,734.5 L287.4,733.1 L286.7,728.5 L285.1,727.1 L283.6,725.7 L282.1,724.3 L280.6,722.8 L279.1,721.4 L281.9,717.0 L283.8,716.3 L285.7,715.5 L287.6,714.8 L289.5,714.0 L291.3,713.2 L293.2,711.1 L295.0,709.0 L296.8,706.9 L298.4,706.2 L300.0,705.5 L301.6,704.8 L303.2,704.1 L304.8,703.3 L306.6,702.5 L308.4,701.7 L310.1,700.8 L311.9,700.0 L313.6,699.1 L315.1,700.1 L316.6,701.1 L318.1,702.2 L319.7,703.1 L321.2,703.2 L322.7,703.3 L324.1,703.4 L325.6,703.4 L327.1,703.5 L328.6,704.3 L330.2,705.1 L331.7,705.9 L333.3,706.7 L334.8,707.0 L336.4,707.4 L337.9,707.7 L339.5,708.0 L341.1,708.3 L342.6,708.5 L344.2,708.6 L345.7,708.8 L347.3,709.0 L348.9,709.1 L350.4,708.7 L351.9,708.2 L353.4,707.8 L354.9,707.3 L356.5,708.0 L358.2,708.7 L360.0,709.4 L361.7,710.1Z M330.1,817.3 L329.3,822.7 L326.2,825.4 L323.1,828.1 L320.7,825.9 L318.3,823.7 L321.6,818.3 L324.2,816.3 L326.7,814.3 L330.1,817.3Z M251.8,760.0 L253.8,761.2 L255.8,762.3 L257.9,763.4 L260.2,764.0 L262.5,764.5 L261.0,762.4 L259.5,760.2 L257.4,759.2 L255.4,758.2 L253.3,757.2 L251.8,760.0Z M268.9,792.2 L269.4,796.4 L265.4,796.1 L262.9,792.9 L266.4,790.8 L268.9,792.2Z M426.9,817.8 L430.3,823.2 L429.0,828.8 L423.6,825.5 L422.0,821.3 L420.4,817.1 L423.7,817.5 L426.9,817.8Z M415.3,812.2 L415.3,818.7 L409.8,813.9 L405.3,806.8 L407.3,805.3 L409.3,803.8 L412.3,808.0 L415.3,812.2Z M261.9,844.8 L258.4,846.6 L254.8,848.4 L251.3,850.2 L247.6,851.9 L246.0,849.3 L249.0,848.6 L252.0,847.9 L255.0,847.1 L257.9,846.3 L261.9,844.8Z" fill="url(#h)"/>
<path d="M395.3,598.7 L410.7,601.4 L407.1,623.5 L390.8,618.6 L385.4,628.6 L379.9,624.9 L380.8,618.6 L388.1,603.2Z" fill="#0a1e8e" stroke="#fff" stroke-width="0.6"/><path d="M284.4,725.5 L286.1,725.8 L287.8,726.0 L289.4,726.3 L291.1,726.5 L292.7,726.7 L294.4,726.9 L296.1,727.1 L297.7,727.3 L299.4,727.5 L301.1,727.6 L302.7,727.8 L304.4,727.9 L306.1,728.0 L307.8,728.1 L309.4,728.2 L311.1,728.3 L312.8,728.4 L314.5,728.4 L316.1,728.5 L317.8,728.5 L319.5,728.5 L321.2,728.5 L322.8,728.5 L324.5,728.5 L326.2,728.5 L327.9,728.4 L329.6,728.4 L331.2,728.3 L332.9,728.2 L334.6,728.1 L336.3,728.0 L337.9,727.9 L339.6,727.8 L341.3,727.6 L342.9,727.5 L344.6,727.3 L346.3,727.1 L347.9,726.9 L349.6,726.7 L351.3,726.5 L352.9,726.3 L354.6,726.0 L356.2,725.8 L357.9,725.5 L359.5,725.2 L361.2,724.9 L362.8,724.6 L364.5,724.3 L364.3,723.5 L363.4,719.0 L362.6,714.5 L361.7,710.1 L360.0,709.4 L358.2,708.7 L356.5,708.0 L354.9,707.3 L353.4,707.8 L351.9,708.2 L350.4,708.7 L348.9,709.1 L347.3,709.0 L345.7,708.8 L344.2,708.6 L342.6,708.5 L341.1,708.3 L339.5,708.0 L337.9,707.7 L336.4,707.4 L334.8,707.0 L333.3,706.7 L331.7,705.9 L330.2,705.1 L328.6,704.3 L327.1,703.5 L325.6,703.4 L324.1,703.4 L322.7,703.3 L321.2,703.2 L319.7,703.1 L318.1,702.2 L316.6,701.1 L315.1,700.1 L313.6,699.1 L311.9,700.0 L310.1,700.8 L308.4,701.7 L306.6,702.5 L304.8,703.3 L303.2,704.1 L301.6,704.8 L300.0,705.5 L298.4,706.2 L296.8,706.9 L295.0,709.0 L293.2,711.1 L291.3,713.2 L289.5,714.0 L287.6,714.8 L285.7,715.5 L283.8,716.3 L281.9,717.0 L279.1,721.4 L280.6,722.8 L282.1,724.3 L283.1,725.3Z" fill="#98a6fe"/><path d="M319.9,809.4 L320.7,809.4 L320.3,809.0 L323.4,805.0 L325.6,801.4 L327.8,797.8 L329.9,794.1 L331.9,790.5 L333.2,790.0 L331.0,790.1 L328.8,790.2 L326.6,790.2 L324.4,790.2 L322.2,790.3 L320.0,790.3 L317.7,790.2 L317.7,795.0 L317.6,799.8 L317.6,804.6 L317.5,809.4Z" fill="#3f63ea"/><path d="M345.1,798.9 L344.7,794.1 L344.3,789.3 L342.1,789.5 L339.9,789.6 L337.7,789.8 L335.4,789.9 L335.1,789.9 L334.9,790.1 L332.8,791.7 L330.7,793.2 L331.7,797.6 L332.8,802.1 L330.7,806.6 L333.2,806.3 L335.6,806.0 L338.5,803.6 L341.2,801.2 L343.4,800.4 L345.1,799.8Z" fill="#3f63ea"/><path d="M327.0,788.9 L329.4,789.7 L331.9,790.5 L334.4,789.5 L336.9,788.5 L336.0,789.2 L337.0,788.9 L339.8,790.5 L342.8,792.1 L346.1,795.4 L346.2,795.4 L346.1,795.0 L349.1,789.8 L351.7,790.6 L354.4,791.5 L357.6,792.4 L360.8,793.3 L363.2,794.8 L365.7,796.2 L368.3,796.0 L371.0,795.8 L371.9,795.7 L373.2,795.4 L375.6,794.8 L378.1,794.2 L380.5,793.6 L380.0,791.4 L377.8,791.4 L376.9,786.8 L376.0,782.3 L375.1,777.8 L374.2,773.2 L373.3,768.7 L373.1,767.6 L371.1,767.7 L369.0,767.9 L367.0,768.0 L365.0,768.1 L363.0,768.2 L361.0,768.3 L359.0,768.4 L357.0,768.4 L355.0,768.5 L353.0,768.5 L351.0,768.5 L348.8,768.9 L346.7,769.3 L344.6,769.7 L342.5,770.1 L340.3,770.4 L338.3,770.9 L336.3,771.4 L334.2,771.9 L332.2,772.4 L330.1,772.9 L328.1,773.3 L326.0,773.7 L325.6,778.5 L325.1,783.3 L324.6,788.0Z" fill="#dedede"/><path d="M328.1,772.5 L330.1,772.1 L332.2,771.7 L334.2,771.3 L336.2,770.9 L338.3,770.4 L340.3,770.0 L342.3,767.9 L344.2,765.8 L346.1,763.7 L344.0,762.1 L341.9,760.5 L339.8,760.8 L337.6,761.1 L335.4,761.4 L333.3,761.6 L331.1,761.9 L328.9,762.1 L327.5,767.5 L326.0,772.8Z" fill="#98a6fe"/><path d="M342.4,759.5 L344.4,759.4 L346.4,759.2 L348.5,759.0 L350.5,758.7 L352.5,758.5 L354.6,758.2 L356.6,758.0 L358.6,757.7 L358.2,750.1 L356.3,750.3 L354.3,750.5 L352.3,750.8 L350.3,750.9 L348.4,751.1 L346.4,751.3 L344.4,751.4 L342.4,751.6 L340.5,751.7 L340.3,759.7Z" fill="#dedede"/><path d="M1101,856 L1111,850 L1113,852 L1103,857Z" fill="#3f63ea"/>
<path d="M558.4,819.9 L575.2,827.1 L584.8,838.7 L568.1,848.9 L563.8,854.2 L558.0,849.5 L554.6,833.8 L560.1,825.9 L558.4,819.9Z" fill="#3f63ea"/><path d="M539.2,802.7 L541.6,800.7 L550.0,803.2 L556.4,807.7 L552.4,811.0 L545.2,812.1 L544.0,806.5 L539.2,802.7Z" fill="#dedede"/><path d="M524.9,799.0 L526.1,795.9 L538.7,796.9 L535.6,800.2 L524.9,799.0Z" fill="#dedede"/><path d="M530.9,804.0 L534.5,803.3 L536.8,806.5 L533.3,808.3 L530.9,804.0Z" fill="#dedede"/><path d="M501.9,787.0 L509.0,783.6 L516.6,793.9 L505.9,794.4 L501.9,787.0Z" fill="#dedede"/><path d="M466.1,774.7 L471.6,770.2 L477.5,772.3 L476.7,777.3 L470.3,779.0 L466.1,774.7Z" fill="url(#h)"/><path d="M454.9,778.3 L458.5,775.4 L459.6,778.9 L454.9,778.3Z" fill="url(#h)"/>
</svg>
<div id="zoom"><div class="m"></div>
<svg width="64" height="127" viewBox="0 0 64 127" style="position:absolute;left:0;top:0"><path d="M21.5 31.5H42.5M32 21V42" stroke="#505054" stroke-width="3.2" fill="none"/><path d="M21.5 95H42.5" stroke="#8a8a8e" stroke-width="3.2" fill="none"/></svg>
</div>
<div class="t" id="note">Metropolitan counties are grayed out.</div>
<div class="t" id="foot">Map: Sarah Melotte and Julia Tilton / Daily Yonder • Source: Paren, U.S. Department of Energy • Created with <a>Datawrapper</a></div>
</body></html>
